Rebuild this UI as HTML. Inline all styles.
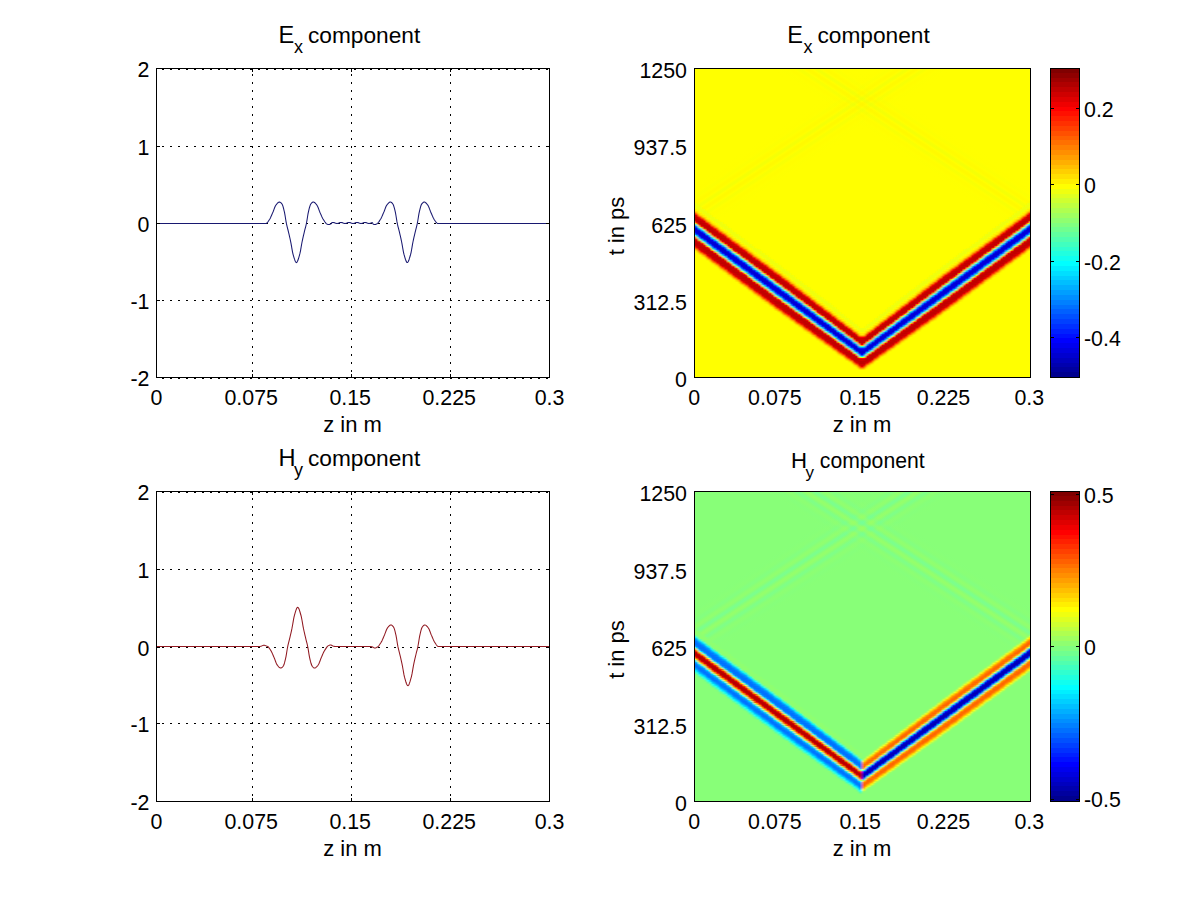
<!DOCTYPE html><html><head><meta charset="utf-8"><style>html,body{margin:0;padding:0;background:#fff;}svg{display:block;} text{font-family:"Liberation Sans",sans-serif;fill:#000;}</style></head><body><svg width="1201" height="900" viewBox="0 0 1201 900" font-family="Liberation Sans, sans-serif" shape-rendering="crispEdges">
<rect x="0" y="0" width="1201" height="900" fill="#fff"/>
<line x1="162" y1="68.5" x2="549" y2="68.5" stroke="#000" stroke-width="1" stroke-dasharray="2 6"/>
<line x1="162" y1="146.5" x2="549" y2="146.5" stroke="#000" stroke-width="1" stroke-dasharray="2 6"/>
<line x1="162" y1="223.5" x2="549" y2="223.5" stroke="#000" stroke-width="1" stroke-dasharray="2 6"/>
<line x1="162" y1="300.5" x2="549" y2="300.5" stroke="#000" stroke-width="1" stroke-dasharray="2 6"/>
<line x1="162" y1="377.5" x2="549" y2="377.5" stroke="#000" stroke-width="1" stroke-dasharray="2 6"/>
<line x1="252.5" y1="74" x2="252.5" y2="377" stroke="#000" stroke-width="1" stroke-dasharray="2 6"/>
<line x1="351.5" y1="74" x2="351.5" y2="377" stroke="#000" stroke-width="1" stroke-dasharray="2 6"/>
<line x1="450.5" y1="74" x2="450.5" y2="377" stroke="#000" stroke-width="1" stroke-dasharray="2 6"/>
<polyline points="157.00,223.50 157.50,223.50 158.00,223.50 158.50,223.50 159.00,223.50 159.50,223.50 160.00,223.50 160.50,223.50 161.00,223.50 161.50,223.50 162.00,223.50 162.50,223.50 163.00,223.50 163.50,223.50 164.00,223.50 164.50,223.50 165.00,223.50 165.50,223.50 166.00,223.50 166.50,223.50 167.00,223.50 167.50,223.50 168.00,223.50 168.50,223.50 169.00,223.50 169.50,223.50 170.00,223.50 170.50,223.50 171.00,223.50 171.50,223.50 172.00,223.50 172.50,223.50 173.00,223.50 173.50,223.50 174.00,223.50 174.50,223.50 175.00,223.50 175.50,223.50 176.00,223.50 176.50,223.50 177.00,223.50 177.50,223.50 178.00,223.50 178.50,223.50 179.00,223.50 179.50,223.50 180.00,223.50 180.50,223.50 181.00,223.50 181.50,223.50 182.00,223.50 182.50,223.50 183.00,223.50 183.50,223.50 184.00,223.50 184.50,223.50 185.00,223.50 185.50,223.50 186.00,223.50 186.50,223.50 187.00,223.50 187.50,223.50 188.00,223.50 188.50,223.50 189.00,223.50 189.50,223.50 190.00,223.50 190.50,223.50 191.00,223.50 191.50,223.50 192.00,223.50 192.50,223.50 193.00,223.50 193.50,223.50 194.00,223.50 194.50,223.50 195.00,223.50 195.50,223.50 196.00,223.50 196.50,223.50 197.00,223.50 197.50,223.50 198.00,223.50 198.50,223.50 199.00,223.50 199.50,223.50 200.00,223.50 200.50,223.50 201.00,223.50 201.50,223.50 202.00,223.50 202.50,223.50 203.00,223.50 203.50,223.50 204.00,223.50 204.50,223.50 205.00,223.50 205.50,223.50 206.00,223.50 206.50,223.50 207.00,223.50 207.50,223.50 208.00,223.50 208.50,223.50 209.00,223.50 209.50,223.50 210.00,223.50 210.50,223.50 211.00,223.50 211.50,223.50 212.00,223.50 212.50,223.50 213.00,223.50 213.50,223.50 214.00,223.50 214.50,223.50 215.00,223.50 215.50,223.50 216.00,223.50 216.50,223.50 217.00,223.50 217.50,223.50 218.00,223.50 218.50,223.50 219.00,223.50 219.50,223.50 220.00,223.50 220.50,223.50 221.00,223.50 221.50,223.50 222.00,223.50 222.50,223.50 223.00,223.50 223.50,223.50 224.00,223.50 224.50,223.50 225.00,223.50 225.50,223.50 226.00,223.50 226.50,223.50 227.00,223.50 227.50,223.50 228.00,223.50 228.50,223.50 229.00,223.50 229.50,223.50 230.00,223.50 230.50,223.50 231.00,223.50 231.50,223.50 232.00,223.50 232.50,223.50 233.00,223.50 233.50,223.50 234.00,223.50 234.50,223.50 235.00,223.50 235.50,223.50 236.00,223.50 236.50,223.50 237.00,223.50 237.50,223.50 238.00,223.50 238.50,223.50 239.00,223.50 239.50,223.50 240.00,223.50 240.50,223.50 241.00,223.50 241.50,223.50 242.00,223.50 242.50,223.50 243.00,223.50 243.50,223.50 244.00,223.50 244.50,223.50 245.00,223.50 245.50,223.50 246.00,223.50 246.50,223.50 247.00,223.50 247.50,223.50 248.00,223.50 248.50,223.50 249.00,223.50 249.50,223.50 250.00,223.50 250.50,223.50 251.00,223.50 251.50,223.50 252.00,223.50 252.50,223.50 253.00,223.50 253.50,223.50 254.00,223.50 254.50,223.50 255.00,223.50 255.50,223.50 256.00,223.50 256.50,223.50 257.00,223.50 257.50,223.50 258.00,223.50 258.50,223.50 259.00,223.50 259.50,223.50 260.00,223.50 260.50,223.50 261.00,223.50 261.50,223.50 262.00,223.50 262.50,223.50 263.00,223.50 263.50,223.50 264.00,223.50 264.50,223.50 265.00,223.50 265.50,223.50 266.00,223.49 266.50,223.32 267.00,222.94 267.50,222.39 268.00,221.73 268.50,220.99 269.00,220.23 269.50,219.49 270.00,218.65 270.50,217.67 271.00,216.59 271.50,215.45 272.00,214.28 272.50,213.13 273.00,211.99 273.50,210.71 274.00,209.36 274.50,208.03 275.00,206.79 275.50,205.74 276.00,204.96 276.50,204.34 277.00,203.75 277.50,203.20 278.00,202.72 278.50,202.35 279.00,202.11 279.50,202.02 280.00,202.13 280.50,202.42 281.00,202.86 281.50,203.41 282.00,204.03 282.50,204.98 283.00,206.44 283.50,208.25 284.00,210.29 284.50,212.43 285.00,215.12 285.50,218.25 286.00,221.36 286.50,223.97 287.00,226.12 287.50,228.07 288.00,230.00 288.50,232.07 289.00,234.17 289.50,236.30 290.00,238.50 290.50,240.79 291.00,243.33 291.50,246.19 292.00,249.12 292.50,251.83 293.00,254.04 293.50,255.79 294.00,257.53 294.50,259.16 295.00,260.59 295.50,261.71 296.00,262.40 296.50,262.58 297.00,262.18 297.50,261.30 298.00,260.05 298.50,258.53 299.00,256.84 299.50,255.09 300.00,253.23 300.50,250.79 301.00,247.96 301.50,245.02 302.00,242.26 302.50,239.86 303.00,237.61 303.50,235.44 304.00,233.33 304.50,231.22 305.00,229.22 305.50,227.30 306.00,225.29 306.50,223.01 307.00,220.15 307.50,216.98 308.00,213.97 308.50,211.57 309.00,209.46 309.50,207.49 310.00,205.80 310.50,204.53 311.00,203.78 311.50,203.18 312.00,202.67 312.50,202.28 313.00,202.06 313.50,202.04 314.00,202.19 314.50,202.49 315.00,202.90 315.50,203.41 316.00,203.98 316.50,204.59 317.00,205.24 317.50,206.13 318.00,207.27 318.50,208.55 319.00,209.90 319.50,211.23 320.00,212.46 320.50,213.59 321.00,214.75 321.50,215.91 322.00,217.03 322.50,218.07 323.00,219.00 323.50,219.78 324.00,220.54 324.50,221.30 325.00,222.04 325.50,222.70 326.00,223.27 326.50,223.71 327.00,223.98 327.50,224.21 328.00,224.42 328.50,224.56 329.00,224.57 329.50,224.46 330.00,224.25 330.50,224.03 331.00,223.82 331.50,222.96 332.00,222.72 332.50,222.57 333.00,222.51 333.50,222.54 334.00,222.63 334.50,222.78 335.00,222.96 335.50,223.14 336.00,223.29 336.50,223.39 337.00,223.42 337.50,223.39 338.00,223.29 338.50,223.14 339.00,222.96 339.50,222.78 340.00,222.63 340.50,222.53 341.00,222.50 341.50,222.53 342.00,222.63 342.50,222.78 343.00,222.96 343.50,223.14 344.00,223.29 344.50,223.39 345.00,223.42 345.50,223.39 346.00,223.29 346.50,223.14 347.00,222.96 347.50,222.78 348.00,222.63 348.50,222.53 349.00,222.50 349.50,222.53 350.00,222.63 350.50,222.78 351.00,222.96 351.50,223.14 352.00,223.29 352.50,223.39 353.00,223.42 353.50,223.39 354.00,223.29 354.50,223.14 355.00,222.96 355.50,222.78 356.00,222.63 356.50,222.53 357.00,222.50 357.50,222.53 358.00,222.63 358.50,222.78 359.00,222.96 359.50,223.14 360.00,223.29 360.50,223.39 361.00,223.42 361.50,223.39 362.00,223.29 362.50,223.14 363.00,222.96 363.50,222.78 364.00,222.63 364.50,222.53 365.00,222.50 365.50,222.53 366.00,222.63 366.50,222.78 367.00,222.96 367.50,223.14 368.00,223.29 368.50,223.39 369.00,223.42 369.50,223.39 370.00,223.29 370.50,223.15 371.00,222.99 371.50,222.85 372.00,222.78 372.50,222.82 373.00,223.98 373.50,224.21 374.00,224.42 374.50,224.56 375.00,224.57 375.50,224.46 376.00,224.25 376.50,224.03 377.00,223.80 377.50,223.44 378.00,222.93 378.50,222.30 379.00,221.60 379.50,220.85 380.00,220.08 380.50,219.33 381.00,218.46 381.50,217.46 382.00,216.36 382.50,215.22 383.00,214.05 383.50,212.91 384.00,211.74 384.50,210.44 385.00,209.09 385.50,207.77 386.00,206.57 386.50,205.56 387.00,204.84 387.50,204.22 388.00,203.63 388.50,203.10 389.00,202.64 389.50,202.29 390.00,202.08 390.50,202.03 391.00,202.17 391.50,202.50 392.00,202.96 392.50,203.53 393.00,204.18 393.50,205.24 394.00,206.78 394.50,208.65 395.00,210.72 395.50,212.91 396.00,215.73 396.50,218.89 397.00,221.93 397.50,224.42 398.00,226.52 398.50,228.45 399.00,230.40 399.50,232.49 400.00,234.59 400.50,236.74 401.00,238.95 401.50,241.27 402.00,243.88 402.50,246.78 403.00,249.69 403.50,252.32 404.00,254.40 404.50,256.14 405.00,257.86 405.50,259.47 406.00,260.84 406.50,261.88 407.00,262.48 407.50,262.54 408.00,262.04 408.50,261.08 409.00,259.76 409.50,258.20 410.00,256.49 410.50,254.74 411.00,252.79 411.50,250.24 412.00,247.37 412.50,244.45 413.00,241.75 413.50,239.40 414.00,237.17 414.50,235.02 415.00,232.90 415.50,230.81 416.00,228.84 416.50,226.91 417.00,224.86 417.50,222.48 418.00,219.53 418.50,216.35 419.00,213.43 419.50,211.14 420.00,209.05 420.50,207.13 421.00,205.51 421.50,204.34 422.00,203.65 422.50,203.07 423.00,202.58 423.50,202.23 424.00,202.04 424.50,202.06 425.00,202.24 425.50,202.56 426.00,203.00 426.50,203.52 427.00,204.10 427.50,204.71 428.00,205.39 428.50,206.35 429.00,207.52 429.50,208.82 430.00,210.17 430.50,211.49 431.00,212.68 431.50,213.82 432.00,214.98 432.50,216.14 433.00,217.25 433.50,218.27 434.00,219.17 434.50,219.93 435.00,220.69 435.50,221.44 436.00,222.14 436.50,222.74 437.00,223.19 437.50,223.45 438.00,223.50 438.50,223.50 439.00,223.50 439.50,223.50 440.00,223.50 440.50,223.50 441.00,223.50 441.50,223.50 442.00,223.50 442.50,223.50 443.00,223.50 443.50,223.50 444.00,223.50 444.50,223.50 445.00,223.50 445.50,223.50 446.00,223.50 446.50,223.50 447.00,223.50 447.50,223.50 448.00,223.50 448.50,223.50 449.00,223.50 449.50,223.50 450.00,223.50 450.50,223.50 451.00,223.50 451.50,223.50 452.00,223.50 452.50,223.50 453.00,223.50 453.50,223.50 454.00,223.50 454.50,223.50 455.00,223.50 455.50,223.50 456.00,223.50 456.50,223.50 457.00,223.50 457.50,223.50 458.00,223.50 458.50,223.50 459.00,223.50 459.50,223.50 460.00,223.50 460.50,223.50 461.00,223.50 461.50,223.50 462.00,223.50 462.50,223.50 463.00,223.50 463.50,223.50 464.00,223.50 464.50,223.50 465.00,223.50 465.50,223.50 466.00,223.50 466.50,223.50 467.00,223.50 467.50,223.50 468.00,223.50 468.50,223.50 469.00,223.50 469.50,223.50 470.00,223.50 470.50,223.50 471.00,223.50 471.50,223.50 472.00,223.50 472.50,223.50 473.00,223.50 473.50,223.50 474.00,223.50 474.50,223.50 475.00,223.50 475.50,223.50 476.00,223.50 476.50,223.50 477.00,223.50 477.50,223.50 478.00,223.50 478.50,223.50 479.00,223.50 479.50,223.50 480.00,223.50 480.50,223.50 481.00,223.50 481.50,223.50 482.00,223.50 482.50,223.50 483.00,223.50 483.50,223.50 484.00,223.50 484.50,223.50 485.00,223.50 485.50,223.50 486.00,223.50 486.50,223.50 487.00,223.50 487.50,223.50 488.00,223.50 488.50,223.50 489.00,223.50 489.50,223.50 490.00,223.50 490.50,223.50 491.00,223.50 491.50,223.50 492.00,223.50 492.50,223.50 493.00,223.50 493.50,223.50 494.00,223.50 494.50,223.50 495.00,223.50 495.50,223.50 496.00,223.50 496.50,223.50 497.00,223.50 497.50,223.50 498.00,223.50 498.50,223.50 499.00,223.50 499.50,223.50 500.00,223.50 500.50,223.50 501.00,223.50 501.50,223.50 502.00,223.50 502.50,223.50 503.00,223.50 503.50,223.50 504.00,223.50 504.50,223.50 505.00,223.50 505.50,223.50 506.00,223.50 506.50,223.50 507.00,223.50 507.50,223.50 508.00,223.50 508.50,223.50 509.00,223.50 509.50,223.50 510.00,223.50 510.50,223.50 511.00,223.50 511.50,223.50 512.00,223.50 512.50,223.50 513.00,223.50 513.50,223.50 514.00,223.50 514.50,223.50 515.00,223.50 515.50,223.50 516.00,223.50 516.50,223.50 517.00,223.50 517.50,223.50 518.00,223.50 518.50,223.50 519.00,223.50 519.50,223.50 520.00,223.50 520.50,223.50 521.00,223.50 521.50,223.50 522.00,223.50 522.50,223.50 523.00,223.50 523.50,223.50 524.00,223.50 524.50,223.50 525.00,223.50 525.50,223.50 526.00,223.50 526.50,223.50 527.00,223.50 527.50,223.50 528.00,223.50 528.50,223.50 529.00,223.50 529.50,223.50 530.00,223.50 530.50,223.50 531.00,223.50 531.50,223.50 532.00,223.50 532.50,223.50 533.00,223.50 533.50,223.50 534.00,223.50 534.50,223.50 535.00,223.50 535.50,223.50 536.00,223.50 536.50,223.50 537.00,223.50 537.50,223.50 538.00,223.50 538.50,223.50 539.00,223.50 539.50,223.50 540.00,223.50 540.50,223.50 541.00,223.50 541.50,223.50 542.00,223.50 542.50,223.50 543.00,223.50 543.50,223.50 544.00,223.50 544.50,223.50 545.00,223.50 545.50,223.50 546.00,223.50 546.50,223.50 547.00,223.50 547.50,223.50 548.00,223.50 548.50,223.50 549.00,223.50" fill="none" stroke="#181870" stroke-width="1.05" shape-rendering="auto"/>
<rect x="156" y="68" width="394" height="1" fill="#000"/>
<rect x="156" y="377" width="394" height="1" fill="#000"/>
<rect x="156" y="68" width="1" height="310" fill="#000"/>
<rect x="549" y="68" width="1" height="310" fill="#000"/>
<rect x="157" y="68" width="3" height="1" fill="#000"/>
<rect x="546" y="68" width="3" height="1" fill="#000"/>
<rect x="157" y="146" width="3" height="1" fill="#000"/>
<rect x="546" y="146" width="3" height="1" fill="#000"/>
<rect x="157" y="223" width="3" height="1" fill="#000"/>
<rect x="546" y="223" width="3" height="1" fill="#000"/>
<rect x="157" y="300" width="3" height="1" fill="#000"/>
<rect x="546" y="300" width="3" height="1" fill="#000"/>
<rect x="157" y="377" width="3" height="1" fill="#000"/>
<rect x="546" y="377" width="3" height="1" fill="#000"/>
<rect x="156" y="69" width="1" height="3" fill="#000"/>
<rect x="156" y="374" width="1" height="3" fill="#000"/>
<rect x="252" y="69" width="1" height="3" fill="#000"/>
<rect x="252" y="374" width="1" height="3" fill="#000"/>
<rect x="351" y="69" width="1" height="3" fill="#000"/>
<rect x="351" y="374" width="1" height="3" fill="#000"/>
<rect x="450" y="69" width="1" height="3" fill="#000"/>
<rect x="450" y="374" width="1" height="3" fill="#000"/>
<rect x="549" y="69" width="1" height="3" fill="#000"/>
<rect x="549" y="374" width="1" height="3" fill="#000"/>
<text transform="translate(149.5 76.5) scale(0.93 1)" font-size="23" text-anchor="end">2</text>
<text transform="translate(149.5 154.5) scale(0.93 1)" font-size="23" text-anchor="end">1</text>
<text transform="translate(149.5 231.5) scale(0.93 1)" font-size="23" text-anchor="end">0</text>
<text transform="translate(149.5 308.5) scale(0.93 1)" font-size="23" text-anchor="end">-1</text>
<text transform="translate(149.5 385.5) scale(0.93 1)" font-size="23" text-anchor="end">-2</text>
<text transform="translate(156.5 404.5) scale(0.93 1)" font-size="23" text-anchor="middle">0</text>
<text transform="translate(251.2 404.5) scale(0.93 1)" font-size="23" text-anchor="middle">0.075</text>
<text transform="translate(350.2 404.5) scale(0.93 1)" font-size="23" text-anchor="middle">0.15</text>
<text transform="translate(449.2 404.5) scale(0.93 1)" font-size="23" text-anchor="middle">0.225</text>
<text transform="translate(549.5 404.5) scale(0.93 1)" font-size="23" text-anchor="middle">0.3</text>
<text x="352.5" y="432" font-size="22" text-anchor="middle" >z in m</text>
<line x1="162" y1="69.5" x2="549" y2="69.5" stroke="#000" stroke-width="1" stroke-dasharray="2 6"/>
<line x1="162" y1="378.5" x2="549" y2="378.5" stroke="#000" stroke-width="1" stroke-dasharray="2 6"/>
<line x1="162" y1="491.5" x2="549" y2="491.5" stroke="#000" stroke-width="1" stroke-dasharray="2 6"/>
<line x1="162" y1="569.5" x2="549" y2="569.5" stroke="#000" stroke-width="1" stroke-dasharray="2 6"/>
<line x1="162" y1="647.5" x2="549" y2="647.5" stroke="#000" stroke-width="1" stroke-dasharray="2 6"/>
<line x1="162" y1="723.5" x2="549" y2="723.5" stroke="#000" stroke-width="1" stroke-dasharray="2 6"/>
<line x1="162" y1="801.5" x2="549" y2="801.5" stroke="#000" stroke-width="1" stroke-dasharray="2 6"/>
<line x1="252.5" y1="498" x2="252.5" y2="801" stroke="#000" stroke-width="1" stroke-dasharray="2 6"/>
<line x1="351.5" y1="498" x2="351.5" y2="801" stroke="#000" stroke-width="1" stroke-dasharray="2 6"/>
<line x1="450.5" y1="498" x2="450.5" y2="801" stroke="#000" stroke-width="1" stroke-dasharray="2 6"/>
<polyline points="157.00,646.50 157.50,646.50 158.00,646.50 158.50,646.50 159.00,646.50 159.50,646.50 160.00,646.50 160.50,646.50 161.00,646.50 161.50,646.50 162.00,646.50 162.50,646.50 163.00,646.50 163.50,646.50 164.00,646.50 164.50,646.50 165.00,646.50 165.50,646.50 166.00,646.50 166.50,646.50 167.00,646.50 167.50,646.50 168.00,646.50 168.50,646.50 169.00,646.50 169.50,646.50 170.00,646.50 170.50,646.50 171.00,646.50 171.50,646.50 172.00,646.50 172.50,646.50 173.00,646.50 173.50,646.50 174.00,646.50 174.50,646.50 175.00,646.50 175.50,646.50 176.00,646.50 176.50,646.50 177.00,646.50 177.50,646.50 178.00,646.50 178.50,646.50 179.00,646.50 179.50,646.50 180.00,646.50 180.50,646.50 181.00,646.50 181.50,646.50 182.00,646.50 182.50,646.50 183.00,646.50 183.50,646.50 184.00,646.50 184.50,646.50 185.00,646.50 185.50,646.50 186.00,646.50 186.50,646.50 187.00,646.50 187.50,646.50 188.00,646.50 188.50,646.50 189.00,646.50 189.50,646.50 190.00,646.50 190.50,646.50 191.00,646.50 191.50,646.50 192.00,646.50 192.50,646.50 193.00,646.50 193.50,646.50 194.00,646.50 194.50,646.50 195.00,646.50 195.50,646.50 196.00,646.50 196.50,646.50 197.00,646.50 197.50,646.50 198.00,646.50 198.50,646.50 199.00,646.50 199.50,646.50 200.00,646.50 200.50,646.50 201.00,646.50 201.50,646.50 202.00,646.50 202.50,646.50 203.00,646.50 203.50,646.50 204.00,646.50 204.50,646.50 205.00,646.50 205.50,646.50 206.00,646.50 206.50,646.50 207.00,646.50 207.50,646.50 208.00,646.50 208.50,646.50 209.00,646.50 209.50,646.50 210.00,646.50 210.50,646.50 211.00,646.50 211.50,646.50 212.00,646.50 212.50,646.50 213.00,646.50 213.50,646.50 214.00,646.50 214.50,646.50 215.00,646.50 215.50,646.50 216.00,646.50 216.50,646.50 217.00,646.50 217.50,646.50 218.00,646.50 218.50,646.50 219.00,646.50 219.50,646.50 220.00,646.50 220.50,646.50 221.00,646.50 221.50,646.50 222.00,646.50 222.50,646.50 223.00,646.50 223.50,646.50 224.00,646.50 224.50,646.50 225.00,646.50 225.50,646.50 226.00,646.50 226.50,646.50 227.00,646.50 227.50,646.50 228.00,646.50 228.50,646.50 229.00,646.50 229.50,646.50 230.00,646.50 230.50,646.50 231.00,646.50 231.50,646.50 232.00,646.50 232.50,646.50 233.00,646.50 233.50,646.50 234.00,646.50 234.50,646.50 235.00,646.50 235.50,646.50 236.00,646.50 236.50,646.50 237.00,646.50 237.50,646.50 238.00,646.50 238.50,646.50 239.00,646.50 239.50,646.50 240.00,646.50 240.50,646.50 241.00,646.50 241.50,646.50 242.00,646.50 242.50,646.50 243.00,646.50 243.50,646.50 244.00,646.50 244.50,646.50 245.00,646.50 245.50,646.50 246.00,646.50 246.50,646.50 247.00,646.50 247.50,646.50 248.00,646.50 248.50,646.50 249.00,646.50 249.50,646.50 250.00,646.50 250.50,646.50 251.00,646.50 251.50,646.50 252.00,646.50 252.50,646.50 253.00,646.50 253.50,646.50 254.00,646.50 254.50,646.50 255.00,646.50 255.50,646.50 256.00,646.50 256.50,646.50 257.00,646.50 257.50,646.50 258.00,646.50 258.50,646.49 259.00,646.48 259.50,646.45 260.00,646.40 260.50,646.33 261.00,646.21 261.50,646.04 262.00,645.85 262.50,645.63 263.00,645.44 263.50,645.31 264.00,645.26 264.50,645.31 265.00,645.44 265.50,645.63 266.00,645.85 266.50,646.04 267.00,646.21 267.50,646.37 268.00,646.71 268.50,647.22 269.00,647.84 269.50,648.56 270.00,649.32 270.50,650.08 271.00,650.84 271.50,651.75 272.00,652.77 272.50,653.89 273.00,655.04 273.50,656.21 274.00,657.35 274.50,658.55 275.00,659.87 275.50,661.23 276.00,662.54 276.50,663.71 277.00,664.67 277.50,665.35 278.00,665.96 278.50,666.55 279.00,667.07 279.50,667.51 280.00,667.83 280.50,668.01 281.00,668.03 281.50,667.84 282.00,667.49 282.50,667.00 283.00,666.41 283.50,665.72 284.00,664.55 284.50,662.92 285.00,660.99 285.50,658.90 286.00,656.61 286.50,653.67 287.00,650.49 287.50,647.52 288.00,645.13 288.50,643.08 289.00,641.15 289.50,639.17 290.00,637.06 290.50,634.95 291.00,632.78 291.50,630.54 292.00,628.19 292.50,625.48 293.00,622.55 293.50,619.67 294.00,617.12 294.50,615.15 295.00,613.40 295.50,611.69 296.00,610.12 296.50,608.80 297.00,607.83 297.50,607.33 298.00,607.39 298.50,607.99 299.00,609.04 299.50,610.42 300.00,612.02 300.50,613.75 301.00,615.50 301.50,617.59 302.00,620.23 302.50,623.14 303.00,626.05 303.50,628.68 304.00,631.00 304.50,633.22 305.00,635.37 305.50,637.49 306.00,639.58 306.50,641.53 307.00,643.47 307.50,645.58 308.00,648.07 308.50,651.12 309.00,654.30 309.50,657.12 310.00,659.33 310.50,661.40 311.00,663.28 311.50,664.82 312.00,665.89 312.50,666.54 313.00,667.11 313.50,667.57 314.00,667.90 314.50,668.04 315.00,667.99 315.50,667.77 316.00,667.43 316.50,666.97 317.00,666.43 317.50,665.84 318.00,665.22 318.50,664.50 319.00,663.49 319.50,662.28 320.00,660.96 320.50,659.60 321.00,658.30 321.50,657.13 322.00,655.98 322.50,654.81 323.00,653.66 323.50,652.56 324.00,651.55 324.50,650.67 325.00,649.91 325.50,649.13 326.00,648.35 326.50,647.60 327.00,646.92 327.50,646.34 328.00,645.90 328.50,645.63 329.00,645.37 329.50,645.14 330.00,644.99 330.50,644.95 331.00,645.04 331.50,645.22 332.00,645.47 332.50,645.73 333.00,645.97 333.50,646.17 334.00,646.31 334.50,646.39 335.00,646.45 335.50,646.48 336.00,646.49 336.50,646.50 337.00,646.50 337.50,646.50 338.00,646.50 338.50,646.50 339.00,646.50 339.50,646.50 340.00,646.50 340.50,646.50 341.00,646.50 341.50,646.50 342.00,646.50 342.50,646.50 343.00,646.50 343.50,646.50 344.00,646.50 344.50,646.50 345.00,646.50 345.50,646.50 346.00,646.50 346.50,646.50 347.00,646.50 347.50,646.50 348.00,646.50 348.50,646.50 349.00,646.50 349.50,646.50 350.00,646.50 350.50,646.50 351.00,646.50 351.50,646.50 352.00,646.50 352.50,646.50 353.00,646.50 353.50,646.50 354.00,646.50 354.50,646.50 355.00,646.50 355.50,646.50 356.00,646.50 356.50,646.50 357.00,646.50 357.50,646.50 358.00,646.50 358.50,646.50 359.00,646.50 359.50,646.50 360.00,646.50 360.50,646.50 361.00,646.50 361.50,646.50 362.00,646.50 362.50,646.50 363.00,646.50 363.50,646.50 364.00,646.50 364.50,646.50 365.00,646.50 365.50,646.50 366.00,646.50 366.50,646.50 367.00,646.50 367.50,646.50 368.00,646.50 368.50,646.50 369.00,646.50 369.50,646.51 370.00,646.53 370.50,646.56 371.00,646.62 371.50,646.72 372.00,646.87 372.50,647.07 373.00,647.32 373.50,647.58 374.00,647.82 374.50,647.99 375.00,648.05 375.50,647.99 376.00,647.82 376.50,647.58 377.00,647.32 377.50,647.06 378.00,646.69 378.50,646.16 379.00,645.51 379.50,644.78 380.00,644.01 380.50,643.23 381.00,642.48 381.50,641.63 382.00,640.65 382.50,639.57 383.00,638.42 383.50,637.25 384.00,636.10 384.50,634.95 385.00,633.67 385.50,632.31 386.00,630.98 386.50,629.74 387.00,628.68 387.50,627.90 388.00,627.28 388.50,626.68 389.00,626.13 389.50,625.66 390.00,625.28 390.50,625.04 391.00,624.96 391.50,625.06 392.00,625.35 392.50,625.79 393.00,626.34 393.50,626.97 394.00,627.92 394.50,629.38 395.00,631.21 395.50,633.25 396.00,635.40 396.50,638.10 397.00,641.24 397.50,644.35 398.00,646.97 398.50,649.12 399.00,651.08 399.50,653.02 400.00,655.09 400.50,657.20 401.00,659.34 401.50,661.55 402.00,663.85 402.50,666.39 403.00,669.27 403.50,672.20 404.00,674.92 404.50,677.14 405.00,678.89 405.50,680.64 406.00,682.28 406.50,683.71 407.00,684.83 407.50,685.53 408.00,685.70 408.50,685.31 409.00,684.43 409.50,683.17 410.00,681.64 410.50,679.95 411.00,678.19 411.50,676.33 412.00,673.88 412.50,671.04 413.00,668.09 413.50,665.32 414.00,662.92 414.50,660.66 415.00,658.48 415.50,656.36 416.00,654.25 416.50,652.24 417.00,650.31 417.50,648.30 418.00,646.01 418.50,643.14 419.00,639.96 419.50,636.94 420.00,634.53 420.50,632.42 421.00,630.44 421.50,628.75 422.00,627.47 422.50,626.71 423.00,626.11 423.50,625.60 424.00,625.22 424.50,624.99 425.00,624.97 425.50,625.12 426.00,625.42 426.50,625.84 427.00,626.34 427.50,626.92 428.00,627.53 428.50,628.18 429.00,629.08 429.50,630.22 430.00,631.50 430.50,632.86 431.00,634.19 431.50,635.42 432.00,636.56 432.50,637.72 433.00,638.89 433.50,640.01 434.00,641.05 434.50,641.99 435.00,642.77 435.50,643.53 436.00,644.29 436.50,645.00 437.00,645.63 437.50,646.11 438.00,646.42 438.50,646.50 439.00,646.50 439.50,646.50 440.00,646.50 440.50,646.50 441.00,646.50 441.50,646.50 442.00,646.50 442.50,646.50 443.00,646.50 443.50,646.50 444.00,646.50 444.50,646.50 445.00,646.50 445.50,646.50 446.00,646.50 446.50,646.50 447.00,646.50 447.50,646.50 448.00,646.50 448.50,646.50 449.00,646.50 449.50,646.50 450.00,646.50 450.50,646.50 451.00,646.50 451.50,646.50 452.00,646.50 452.50,646.50 453.00,646.50 453.50,646.50 454.00,646.50 454.50,646.50 455.00,646.50 455.50,646.50 456.00,646.50 456.50,646.50 457.00,646.50 457.50,646.50 458.00,646.50 458.50,646.50 459.00,646.50 459.50,646.50 460.00,646.50 460.50,646.50 461.00,646.50 461.50,646.50 462.00,646.50 462.50,646.50 463.00,646.50 463.50,646.50 464.00,646.50 464.50,646.50 465.00,646.50 465.50,646.50 466.00,646.50 466.50,646.50 467.00,646.50 467.50,646.50 468.00,646.50 468.50,646.50 469.00,646.50 469.50,646.50 470.00,646.50 470.50,646.50 471.00,646.50 471.50,646.50 472.00,646.50 472.50,646.50 473.00,646.50 473.50,646.50 474.00,646.50 474.50,646.50 475.00,646.50 475.50,646.50 476.00,646.50 476.50,646.50 477.00,646.50 477.50,646.50 478.00,646.50 478.50,646.50 479.00,646.50 479.50,646.50 480.00,646.50 480.50,646.50 481.00,646.50 481.50,646.50 482.00,646.50 482.50,646.50 483.00,646.50 483.50,646.50 484.00,646.50 484.50,646.50 485.00,646.50 485.50,646.50 486.00,646.50 486.50,646.50 487.00,646.50 487.50,646.50 488.00,646.50 488.50,646.50 489.00,646.50 489.50,646.50 490.00,646.50 490.50,646.50 491.00,646.50 491.50,646.50 492.00,646.50 492.50,646.50 493.00,646.50 493.50,646.50 494.00,646.50 494.50,646.50 495.00,646.50 495.50,646.50 496.00,646.50 496.50,646.50 497.00,646.50 497.50,646.50 498.00,646.50 498.50,646.50 499.00,646.50 499.50,646.50 500.00,646.50 500.50,646.50 501.00,646.50 501.50,646.50 502.00,646.50 502.50,646.50 503.00,646.50 503.50,646.50 504.00,646.50 504.50,646.50 505.00,646.50 505.50,646.50 506.00,646.50 506.50,646.50 507.00,646.50 507.50,646.50 508.00,646.50 508.50,646.50 509.00,646.50 509.50,646.50 510.00,646.50 510.50,646.50 511.00,646.50 511.50,646.50 512.00,646.50 512.50,646.50 513.00,646.50 513.50,646.50 514.00,646.50 514.50,646.50 515.00,646.50 515.50,646.50 516.00,646.50 516.50,646.50 517.00,646.50 517.50,646.50 518.00,646.50 518.50,646.50 519.00,646.50 519.50,646.50 520.00,646.50 520.50,646.50 521.00,646.50 521.50,646.50 522.00,646.50 522.50,646.50 523.00,646.50 523.50,646.50 524.00,646.50 524.50,646.50 525.00,646.50 525.50,646.50 526.00,646.50 526.50,646.50 527.00,646.50 527.50,646.50 528.00,646.50 528.50,646.50 529.00,646.50 529.50,646.50 530.00,646.50 530.50,646.50 531.00,646.50 531.50,646.50 532.00,646.50 532.50,646.50 533.00,646.50 533.50,646.50 534.00,646.50 534.50,646.50 535.00,646.50 535.50,646.50 536.00,646.50 536.50,646.50 537.00,646.50 537.50,646.50 538.00,646.50 538.50,646.50 539.00,646.50 539.50,646.50 540.00,646.50 540.50,646.50 541.00,646.50 541.50,646.50 542.00,646.50 542.50,646.50 543.00,646.50 543.50,646.50 544.00,646.50 544.50,646.50 545.00,646.50 545.50,646.50 546.00,646.50 546.50,646.50 547.00,646.50 547.50,646.50 548.00,646.50 548.50,646.50 549.00,646.50" fill="none" stroke="#901820" stroke-width="1.05" shape-rendering="auto"/>
<rect x="156" y="491" width="394" height="1" fill="#000"/>
<rect x="156" y="801" width="394" height="1" fill="#000"/>
<rect x="156" y="491" width="1" height="311" fill="#000"/>
<rect x="549" y="491" width="1" height="311" fill="#000"/>
<rect x="157" y="491" width="3" height="1" fill="#000"/>
<rect x="546" y="491" width="3" height="1" fill="#000"/>
<rect x="157" y="569" width="3" height="1" fill="#000"/>
<rect x="546" y="569" width="3" height="1" fill="#000"/>
<rect x="157" y="647" width="3" height="1" fill="#000"/>
<rect x="546" y="647" width="3" height="1" fill="#000"/>
<rect x="157" y="723" width="3" height="1" fill="#000"/>
<rect x="546" y="723" width="3" height="1" fill="#000"/>
<rect x="157" y="801" width="3" height="1" fill="#000"/>
<rect x="546" y="801" width="3" height="1" fill="#000"/>
<rect x="156" y="492" width="1" height="3" fill="#000"/>
<rect x="156" y="798" width="1" height="3" fill="#000"/>
<rect x="252" y="492" width="1" height="3" fill="#000"/>
<rect x="252" y="798" width="1" height="3" fill="#000"/>
<rect x="351" y="492" width="1" height="3" fill="#000"/>
<rect x="351" y="798" width="1" height="3" fill="#000"/>
<rect x="450" y="492" width="1" height="3" fill="#000"/>
<rect x="450" y="798" width="1" height="3" fill="#000"/>
<rect x="549" y="492" width="1" height="3" fill="#000"/>
<rect x="549" y="798" width="1" height="3" fill="#000"/>
<text transform="translate(149.5 499.5) scale(0.93 1)" font-size="23" text-anchor="end">2</text>
<text transform="translate(149.5 577.5) scale(0.93 1)" font-size="23" text-anchor="end">1</text>
<text transform="translate(149.5 655.5) scale(0.93 1)" font-size="23" text-anchor="end">0</text>
<text transform="translate(149.5 731.5) scale(0.93 1)" font-size="23" text-anchor="end">-1</text>
<text transform="translate(149.5 809.5) scale(0.93 1)" font-size="23" text-anchor="end">-2</text>
<text transform="translate(156.5 828.5) scale(0.93 1)" font-size="23" text-anchor="middle">0</text>
<text transform="translate(251.2 828.5) scale(0.93 1)" font-size="23" text-anchor="middle">0.075</text>
<text transform="translate(350.2 828.5) scale(0.93 1)" font-size="23" text-anchor="middle">0.15</text>
<text transform="translate(449.2 828.5) scale(0.93 1)" font-size="23" text-anchor="middle">0.225</text>
<text transform="translate(549.5 828.5) scale(0.93 1)" font-size="23" text-anchor="middle">0.3</text>
<text x="352.5" y="856" font-size="22" text-anchor="middle" >z in m</text>
<line x1="162" y1="492.5" x2="549" y2="492.5" stroke="#000" stroke-width="1" stroke-dasharray="2 6"/>
<defs>
<linearGradient id="geL" gradientUnits="userSpaceOnUse" x1="0" y1="-30" x2="0" y2="30"><stop offset="0.0000" stop-color="#ffff00" stop-opacity="0"/><stop offset="0.0500" stop-color="#ffff00" stop-opacity="0"/><stop offset="0.0500" stop-color="#efff10"/><stop offset="0.1300" stop-color="#efff10"/><stop offset="0.1300" stop-color="#ffff00" stop-opacity="0"/><stop offset="0.1533" stop-color="#ffff00" stop-opacity="0"/><stop offset="0.1533" stop-color="#ffef00"/><stop offset="0.1783" stop-color="#ffef00"/><stop offset="0.1783" stop-color="#ffdf00"/><stop offset="0.1883" stop-color="#ffdf00"/><stop offset="0.1883" stop-color="#ffcf00"/><stop offset="0.1917" stop-color="#ffcf00"/><stop offset="0.1917" stop-color="#ffbf00"/><stop offset="0.1967" stop-color="#ffbf00"/><stop offset="0.1967" stop-color="#ffaf00"/><stop offset="0.2000" stop-color="#ffaf00"/><stop offset="0.2000" stop-color="#ff9f00"/><stop offset="0.2033" stop-color="#ff9f00"/><stop offset="0.2033" stop-color="#ff8f00"/><stop offset="0.2067" stop-color="#ff8f00"/><stop offset="0.2067" stop-color="#ff8000"/><stop offset="0.2083" stop-color="#ff8000"/><stop offset="0.2083" stop-color="#ff7000"/><stop offset="0.2117" stop-color="#ff7000"/><stop offset="0.2117" stop-color="#ff6000"/><stop offset="0.2150" stop-color="#ff6000"/><stop offset="0.2150" stop-color="#ff5000"/><stop offset="0.2183" stop-color="#ff5000"/><stop offset="0.2183" stop-color="#ff4000"/><stop offset="0.2200" stop-color="#ff4000"/><stop offset="0.2200" stop-color="#ff3000"/><stop offset="0.2233" stop-color="#ff3000"/><stop offset="0.2233" stop-color="#ff2000"/><stop offset="0.2267" stop-color="#ff2000"/><stop offset="0.2267" stop-color="#ff1000"/><stop offset="0.2317" stop-color="#ff1000"/><stop offset="0.2317" stop-color="#ff0000"/><stop offset="0.2350" stop-color="#ff0000"/><stop offset="0.2350" stop-color="#ef0000"/><stop offset="0.2417" stop-color="#ef0000"/><stop offset="0.2417" stop-color="#df0000"/><stop offset="0.2500" stop-color="#df0000"/><stop offset="0.2500" stop-color="#cf0000"/><stop offset="0.2783" stop-color="#cf0000"/><stop offset="0.2783" stop-color="#bf0000"/><stop offset="0.3300" stop-color="#bf0000"/><stop offset="0.3300" stop-color="#cf0000"/><stop offset="0.3567" stop-color="#cf0000"/><stop offset="0.3567" stop-color="#df0000"/><stop offset="0.3617" stop-color="#df0000"/><stop offset="0.3617" stop-color="#ef0000"/><stop offset="0.3667" stop-color="#ef0000"/><stop offset="0.3667" stop-color="#ff0000"/><stop offset="0.3700" stop-color="#ff0000"/><stop offset="0.3700" stop-color="#ff1000"/><stop offset="0.3717" stop-color="#ff1000"/><stop offset="0.3717" stop-color="#ff2000"/><stop offset="0.3733" stop-color="#ff2000"/><stop offset="0.3733" stop-color="#ff3000"/><stop offset="0.3750" stop-color="#ff3000"/><stop offset="0.3750" stop-color="#ff4000"/><stop offset="0.3767" stop-color="#ff4000"/><stop offset="0.3767" stop-color="#ff5000"/><stop offset="0.3783" stop-color="#ff5000"/><stop offset="0.3783" stop-color="#ff6000"/><stop offset="0.3800" stop-color="#ff6000"/><stop offset="0.3800" stop-color="#ff8000"/><stop offset="0.3817" stop-color="#ff8000"/><stop offset="0.3817" stop-color="#ff8f00"/><stop offset="0.3833" stop-color="#ff8f00"/><stop offset="0.3833" stop-color="#ffaf00"/><stop offset="0.3850" stop-color="#ffaf00"/><stop offset="0.3850" stop-color="#ffcf00"/><stop offset="0.3867" stop-color="#ffcf00"/><stop offset="0.3867" stop-color="#ffdf00"/><stop offset="0.3883" stop-color="#ffdf00"/><stop offset="0.3883" stop-color="#ffff00" stop-opacity="0"/><stop offset="0.3900" stop-color="#ffff00" stop-opacity="0"/><stop offset="0.3900" stop-color="#dfff20"/><stop offset="0.3917" stop-color="#dfff20"/><stop offset="0.3917" stop-color="#bfff40"/><stop offset="0.3933" stop-color="#bfff40"/><stop offset="0.3933" stop-color="#afff50"/><stop offset="0.3950" stop-color="#afff50"/><stop offset="0.3950" stop-color="#9fff60"/><stop offset="0.3967" stop-color="#9fff60"/><stop offset="0.3967" stop-color="#80ff80"/><stop offset="0.3983" stop-color="#80ff80"/><stop offset="0.3983" stop-color="#70ff8f"/><stop offset="0.4000" stop-color="#70ff8f"/><stop offset="0.4000" stop-color="#60ff9f"/><stop offset="0.4017" stop-color="#60ff9f"/><stop offset="0.4017" stop-color="#50ffaf"/><stop offset="0.4033" stop-color="#50ffaf"/><stop offset="0.4033" stop-color="#40ffbf"/><stop offset="0.4050" stop-color="#40ffbf"/><stop offset="0.4050" stop-color="#30ffcf"/><stop offset="0.4067" stop-color="#30ffcf"/><stop offset="0.4067" stop-color="#20ffdf"/><stop offset="0.4083" stop-color="#20ffdf"/><stop offset="0.4083" stop-color="#10ffef"/><stop offset="0.4117" stop-color="#10ffef"/><stop offset="0.4117" stop-color="#00ffff"/><stop offset="0.4133" stop-color="#00ffff"/><stop offset="0.4133" stop-color="#00efff"/><stop offset="0.4150" stop-color="#00efff"/><stop offset="0.4150" stop-color="#00dfff"/><stop offset="0.4167" stop-color="#00dfff"/><stop offset="0.4167" stop-color="#00cfff"/><stop offset="0.4183" stop-color="#00cfff"/><stop offset="0.4183" stop-color="#00bfff"/><stop offset="0.4200" stop-color="#00bfff"/><stop offset="0.4200" stop-color="#00afff"/><stop offset="0.4217" stop-color="#00afff"/><stop offset="0.4217" stop-color="#009fff"/><stop offset="0.4233" stop-color="#009fff"/><stop offset="0.4233" stop-color="#008fff"/><stop offset="0.4250" stop-color="#008fff"/><stop offset="0.4250" stop-color="#0080ff"/><stop offset="0.4267" stop-color="#0080ff"/><stop offset="0.4267" stop-color="#0070ff"/><stop offset="0.4283" stop-color="#0070ff"/><stop offset="0.4283" stop-color="#0060ff"/><stop offset="0.4317" stop-color="#0060ff"/><stop offset="0.4317" stop-color="#0050ff"/><stop offset="0.4333" stop-color="#0050ff"/><stop offset="0.4333" stop-color="#0040ff"/><stop offset="0.4367" stop-color="#0040ff"/><stop offset="0.4367" stop-color="#0030ff"/><stop offset="0.4400" stop-color="#0030ff"/><stop offset="0.4400" stop-color="#0020ff"/><stop offset="0.4433" stop-color="#0020ff"/><stop offset="0.4433" stop-color="#0010ff"/><stop offset="0.4467" stop-color="#0010ff"/><stop offset="0.4467" stop-color="#0000ff"/><stop offset="0.4550" stop-color="#0000ff"/><stop offset="0.4550" stop-color="#0000ef"/><stop offset="0.4650" stop-color="#0000ef"/><stop offset="0.4650" stop-color="#0000df"/><stop offset="0.4800" stop-color="#0000df"/><stop offset="0.4800" stop-color="#0000cf"/><stop offset="0.5217" stop-color="#0000cf"/><stop offset="0.5217" stop-color="#0000df"/><stop offset="0.5367" stop-color="#0000df"/><stop offset="0.5367" stop-color="#0000ef"/><stop offset="0.5467" stop-color="#0000ef"/><stop offset="0.5467" stop-color="#0000ff"/><stop offset="0.5550" stop-color="#0000ff"/><stop offset="0.5550" stop-color="#0010ff"/><stop offset="0.5583" stop-color="#0010ff"/><stop offset="0.5583" stop-color="#0020ff"/><stop offset="0.5617" stop-color="#0020ff"/><stop offset="0.5617" stop-color="#0030ff"/><stop offset="0.5650" stop-color="#0030ff"/><stop offset="0.5650" stop-color="#0040ff"/><stop offset="0.5683" stop-color="#0040ff"/><stop offset="0.5683" stop-color="#0050ff"/><stop offset="0.5700" stop-color="#0050ff"/><stop offset="0.5700" stop-color="#0060ff"/><stop offset="0.5733" stop-color="#0060ff"/><stop offset="0.5733" stop-color="#0070ff"/><stop offset="0.5750" stop-color="#0070ff"/><stop offset="0.5750" stop-color="#0080ff"/><stop offset="0.5767" stop-color="#0080ff"/><stop offset="0.5767" stop-color="#008fff"/><stop offset="0.5783" stop-color="#008fff"/><stop offset="0.5783" stop-color="#009fff"/><stop offset="0.5800" stop-color="#009fff"/><stop offset="0.5800" stop-color="#00afff"/><stop offset="0.5817" stop-color="#00afff"/><stop offset="0.5817" stop-color="#00bfff"/><stop offset="0.5833" stop-color="#00bfff"/><stop offset="0.5833" stop-color="#00cfff"/><stop offset="0.5850" stop-color="#00cfff"/><stop offset="0.5850" stop-color="#00dfff"/><stop offset="0.5867" stop-color="#00dfff"/><stop offset="0.5867" stop-color="#00efff"/><stop offset="0.5883" stop-color="#00efff"/><stop offset="0.5883" stop-color="#00ffff"/><stop offset="0.5900" stop-color="#00ffff"/><stop offset="0.5900" stop-color="#10ffef"/><stop offset="0.5933" stop-color="#10ffef"/><stop offset="0.5933" stop-color="#20ffdf"/><stop offset="0.5950" stop-color="#20ffdf"/><stop offset="0.5950" stop-color="#30ffcf"/><stop offset="0.5967" stop-color="#30ffcf"/><stop offset="0.5967" stop-color="#40ffbf"/><stop offset="0.5983" stop-color="#40ffbf"/><stop offset="0.5983" stop-color="#50ffaf"/><stop offset="0.6000" stop-color="#50ffaf"/><stop offset="0.6000" stop-color="#60ff9f"/><stop offset="0.6017" stop-color="#60ff9f"/><stop offset="0.6017" stop-color="#70ff8f"/><stop offset="0.6033" stop-color="#70ff8f"/><stop offset="0.6033" stop-color="#80ff80"/><stop offset="0.6050" stop-color="#80ff80"/><stop offset="0.6050" stop-color="#9fff60"/><stop offset="0.6067" stop-color="#9fff60"/><stop offset="0.6067" stop-color="#afff50"/><stop offset="0.6083" stop-color="#afff50"/><stop offset="0.6083" stop-color="#bfff40"/><stop offset="0.6100" stop-color="#bfff40"/><stop offset="0.6100" stop-color="#dfff20"/><stop offset="0.6117" stop-color="#dfff20"/><stop offset="0.6117" stop-color="#ffff00" stop-opacity="0"/><stop offset="0.6133" stop-color="#ffff00" stop-opacity="0"/><stop offset="0.6133" stop-color="#ffdf00"/><stop offset="0.6150" stop-color="#ffdf00"/><stop offset="0.6150" stop-color="#ffcf00"/><stop offset="0.6167" stop-color="#ffcf00"/><stop offset="0.6167" stop-color="#ffaf00"/><stop offset="0.6183" stop-color="#ffaf00"/><stop offset="0.6183" stop-color="#ff8f00"/><stop offset="0.6200" stop-color="#ff8f00"/><stop offset="0.6200" stop-color="#ff8000"/><stop offset="0.6217" stop-color="#ff8000"/><stop offset="0.6217" stop-color="#ff6000"/><stop offset="0.6233" stop-color="#ff6000"/><stop offset="0.6233" stop-color="#ff5000"/><stop offset="0.6250" stop-color="#ff5000"/><stop offset="0.6250" stop-color="#ff4000"/><stop offset="0.6267" stop-color="#ff4000"/><stop offset="0.6267" stop-color="#ff3000"/><stop offset="0.6283" stop-color="#ff3000"/><stop offset="0.6283" stop-color="#ff2000"/><stop offset="0.6300" stop-color="#ff2000"/><stop offset="0.6300" stop-color="#ff1000"/><stop offset="0.6317" stop-color="#ff1000"/><stop offset="0.6317" stop-color="#ff0000"/><stop offset="0.6350" stop-color="#ff0000"/><stop offset="0.6350" stop-color="#ef0000"/><stop offset="0.6400" stop-color="#ef0000"/><stop offset="0.6400" stop-color="#df0000"/><stop offset="0.6450" stop-color="#df0000"/><stop offset="0.6450" stop-color="#cf0000"/><stop offset="0.6767" stop-color="#cf0000"/><stop offset="0.6767" stop-color="#bf0000"/><stop offset="0.7400" stop-color="#bf0000"/><stop offset="0.7400" stop-color="#cf0000"/><stop offset="0.7683" stop-color="#cf0000"/><stop offset="0.7683" stop-color="#df0000"/><stop offset="0.7767" stop-color="#df0000"/><stop offset="0.7767" stop-color="#ef0000"/><stop offset="0.7833" stop-color="#ef0000"/><stop offset="0.7833" stop-color="#ff0000"/><stop offset="0.7867" stop-color="#ff0000"/><stop offset="0.7867" stop-color="#ff1000"/><stop offset="0.7917" stop-color="#ff1000"/><stop offset="0.7917" stop-color="#ff2000"/><stop offset="0.7950" stop-color="#ff2000"/><stop offset="0.7950" stop-color="#ff3000"/><stop offset="0.7967" stop-color="#ff3000"/><stop offset="0.7967" stop-color="#ff4000"/><stop offset="0.8000" stop-color="#ff4000"/><stop offset="0.8000" stop-color="#ff5000"/><stop offset="0.8050" stop-color="#ff5000"/><stop offset="0.8050" stop-color="#ff6000"/><stop offset="0.8083" stop-color="#ff6000"/><stop offset="0.8083" stop-color="#ff7000"/><stop offset="0.8117" stop-color="#ff7000"/><stop offset="0.8117" stop-color="#ff8000"/><stop offset="0.8150" stop-color="#ff8000"/><stop offset="0.8150" stop-color="#ff8f00"/><stop offset="0.8183" stop-color="#ff8f00"/><stop offset="0.8183" stop-color="#ff9f00"/><stop offset="0.8217" stop-color="#ff9f00"/><stop offset="0.8217" stop-color="#ffaf00"/><stop offset="0.8250" stop-color="#ffaf00"/><stop offset="0.8250" stop-color="#ffbf00"/><stop offset="0.8300" stop-color="#ffbf00"/><stop offset="0.8300" stop-color="#ffcf00"/><stop offset="0.8367" stop-color="#ffcf00"/><stop offset="0.8367" stop-color="#ffdf00"/><stop offset="0.8433" stop-color="#ffdf00"/><stop offset="0.8433" stop-color="#ffef00"/><stop offset="0.8550" stop-color="#ffef00"/><stop offset="0.8550" stop-color="#ffff00" stop-opacity="0"/><stop offset="1.0000" stop-color="#ffff00" stop-opacity="0"/></linearGradient>
<linearGradient id="geR" gradientUnits="userSpaceOnUse" x1="0" y1="-30" x2="0" y2="30"><stop offset="0.0000" stop-color="#ffff00" stop-opacity="0"/><stop offset="0.0500" stop-color="#ffff00" stop-opacity="0"/><stop offset="0.0500" stop-color="#efff10"/><stop offset="0.1300" stop-color="#efff10"/><stop offset="0.1300" stop-color="#ffff00" stop-opacity="0"/><stop offset="0.1533" stop-color="#ffff00" stop-opacity="0"/><stop offset="0.1533" stop-color="#ffef00"/><stop offset="0.1783" stop-color="#ffef00"/><stop offset="0.1783" stop-color="#ffdf00"/><stop offset="0.1883" stop-color="#ffdf00"/><stop offset="0.1883" stop-color="#ffcf00"/><stop offset="0.1917" stop-color="#ffcf00"/><stop offset="0.1917" stop-color="#ffbf00"/><stop offset="0.1967" stop-color="#ffbf00"/><stop offset="0.1967" stop-color="#ffaf00"/><stop offset="0.2000" stop-color="#ffaf00"/><stop offset="0.2000" stop-color="#ff9f00"/><stop offset="0.2033" stop-color="#ff9f00"/><stop offset="0.2033" stop-color="#ff8f00"/><stop offset="0.2067" stop-color="#ff8f00"/><stop offset="0.2067" stop-color="#ff8000"/><stop offset="0.2083" stop-color="#ff8000"/><stop offset="0.2083" stop-color="#ff7000"/><stop offset="0.2117" stop-color="#ff7000"/><stop offset="0.2117" stop-color="#ff6000"/><stop offset="0.2150" stop-color="#ff6000"/><stop offset="0.2150" stop-color="#ff5000"/><stop offset="0.2183" stop-color="#ff5000"/><stop offset="0.2183" stop-color="#ff4000"/><stop offset="0.2200" stop-color="#ff4000"/><stop offset="0.2200" stop-color="#ff3000"/><stop offset="0.2233" stop-color="#ff3000"/><stop offset="0.2233" stop-color="#ff2000"/><stop offset="0.2267" stop-color="#ff2000"/><stop offset="0.2267" stop-color="#ff1000"/><stop offset="0.2317" stop-color="#ff1000"/><stop offset="0.2317" stop-color="#ff0000"/><stop offset="0.2350" stop-color="#ff0000"/><stop offset="0.2350" stop-color="#ef0000"/><stop offset="0.2417" stop-color="#ef0000"/><stop offset="0.2417" stop-color="#df0000"/><stop offset="0.2500" stop-color="#df0000"/><stop offset="0.2500" stop-color="#cf0000"/><stop offset="0.2783" stop-color="#cf0000"/><stop offset="0.2783" stop-color="#bf0000"/><stop offset="0.3300" stop-color="#bf0000"/><stop offset="0.3300" stop-color="#cf0000"/><stop offset="0.3567" stop-color="#cf0000"/><stop offset="0.3567" stop-color="#df0000"/><stop offset="0.3617" stop-color="#df0000"/><stop offset="0.3617" stop-color="#ef0000"/><stop offset="0.3667" stop-color="#ef0000"/><stop offset="0.3667" stop-color="#ff0000"/><stop offset="0.3700" stop-color="#ff0000"/><stop offset="0.3700" stop-color="#ff1000"/><stop offset="0.3717" stop-color="#ff1000"/><stop offset="0.3717" stop-color="#ff2000"/><stop offset="0.3733" stop-color="#ff2000"/><stop offset="0.3733" stop-color="#ff3000"/><stop offset="0.3750" stop-color="#ff3000"/><stop offset="0.3750" stop-color="#ff4000"/><stop offset="0.3767" stop-color="#ff4000"/><stop offset="0.3767" stop-color="#ff5000"/><stop offset="0.3783" stop-color="#ff5000"/><stop offset="0.3783" stop-color="#ff6000"/><stop offset="0.3800" stop-color="#ff6000"/><stop offset="0.3800" stop-color="#ff8000"/><stop offset="0.3817" stop-color="#ff8000"/><stop offset="0.3817" stop-color="#ff8f00"/><stop offset="0.3833" stop-color="#ff8f00"/><stop offset="0.3833" stop-color="#ffaf00"/><stop offset="0.3850" stop-color="#ffaf00"/><stop offset="0.3850" stop-color="#ffcf00"/><stop offset="0.3867" stop-color="#ffcf00"/><stop offset="0.3867" stop-color="#ffdf00"/><stop offset="0.3883" stop-color="#ffdf00"/><stop offset="0.3883" stop-color="#ffff00" stop-opacity="0"/><stop offset="0.3900" stop-color="#ffff00" stop-opacity="0"/><stop offset="0.3900" stop-color="#dfff20"/><stop offset="0.3917" stop-color="#dfff20"/><stop offset="0.3917" stop-color="#bfff40"/><stop offset="0.3933" stop-color="#bfff40"/><stop offset="0.3933" stop-color="#afff50"/><stop offset="0.3950" stop-color="#afff50"/><stop offset="0.3950" stop-color="#9fff60"/><stop offset="0.3967" stop-color="#9fff60"/><stop offset="0.3967" stop-color="#80ff80"/><stop offset="0.3983" stop-color="#80ff80"/><stop offset="0.3983" stop-color="#70ff8f"/><stop offset="0.4000" stop-color="#70ff8f"/><stop offset="0.4000" stop-color="#60ff9f"/><stop offset="0.4017" stop-color="#60ff9f"/><stop offset="0.4017" stop-color="#50ffaf"/><stop offset="0.4033" stop-color="#50ffaf"/><stop offset="0.4033" stop-color="#40ffbf"/><stop offset="0.4050" stop-color="#40ffbf"/><stop offset="0.4050" stop-color="#30ffcf"/><stop offset="0.4067" stop-color="#30ffcf"/><stop offset="0.4067" stop-color="#20ffdf"/><stop offset="0.4083" stop-color="#20ffdf"/><stop offset="0.4083" stop-color="#10ffef"/><stop offset="0.4117" stop-color="#10ffef"/><stop offset="0.4117" stop-color="#00ffff"/><stop offset="0.4133" stop-color="#00ffff"/><stop offset="0.4133" stop-color="#00efff"/><stop offset="0.4150" stop-color="#00efff"/><stop offset="0.4150" stop-color="#00dfff"/><stop offset="0.4167" stop-color="#00dfff"/><stop offset="0.4167" stop-color="#00cfff"/><stop offset="0.4183" stop-color="#00cfff"/><stop offset="0.4183" stop-color="#00bfff"/><stop offset="0.4200" stop-color="#00bfff"/><stop offset="0.4200" stop-color="#00afff"/><stop offset="0.4217" stop-color="#00afff"/><stop offset="0.4217" stop-color="#009fff"/><stop offset="0.4233" stop-color="#009fff"/><stop offset="0.4233" stop-color="#008fff"/><stop offset="0.4250" stop-color="#008fff"/><stop offset="0.4250" stop-color="#0080ff"/><stop offset="0.4267" stop-color="#0080ff"/><stop offset="0.4267" stop-color="#0070ff"/><stop offset="0.4283" stop-color="#0070ff"/><stop offset="0.4283" stop-color="#0060ff"/><stop offset="0.4317" stop-color="#0060ff"/><stop offset="0.4317" stop-color="#0050ff"/><stop offset="0.4333" stop-color="#0050ff"/><stop offset="0.4333" stop-color="#0040ff"/><stop offset="0.4367" stop-color="#0040ff"/><stop offset="0.4367" stop-color="#0030ff"/><stop offset="0.4400" stop-color="#0030ff"/><stop offset="0.4400" stop-color="#0020ff"/><stop offset="0.4433" stop-color="#0020ff"/><stop offset="0.4433" stop-color="#0010ff"/><stop offset="0.4467" stop-color="#0010ff"/><stop offset="0.4467" stop-color="#0000ff"/><stop offset="0.4550" stop-color="#0000ff"/><stop offset="0.4550" stop-color="#0000ef"/><stop offset="0.4650" stop-color="#0000ef"/><stop offset="0.4650" stop-color="#0000df"/><stop offset="0.4800" stop-color="#0000df"/><stop offset="0.4800" stop-color="#0000cf"/><stop offset="0.5217" stop-color="#0000cf"/><stop offset="0.5217" stop-color="#0000df"/><stop offset="0.5367" stop-color="#0000df"/><stop offset="0.5367" stop-color="#0000ef"/><stop offset="0.5467" stop-color="#0000ef"/><stop offset="0.5467" stop-color="#0000ff"/><stop offset="0.5550" stop-color="#0000ff"/><stop offset="0.5550" stop-color="#0010ff"/><stop offset="0.5583" stop-color="#0010ff"/><stop offset="0.5583" stop-color="#0020ff"/><stop offset="0.5617" stop-color="#0020ff"/><stop offset="0.5617" stop-color="#0030ff"/><stop offset="0.5650" stop-color="#0030ff"/><stop offset="0.5650" stop-color="#0040ff"/><stop offset="0.5683" stop-color="#0040ff"/><stop offset="0.5683" stop-color="#0050ff"/><stop offset="0.5700" stop-color="#0050ff"/><stop offset="0.5700" stop-color="#0060ff"/><stop offset="0.5733" stop-color="#0060ff"/><stop offset="0.5733" stop-color="#0070ff"/><stop offset="0.5750" stop-color="#0070ff"/><stop offset="0.5750" stop-color="#0080ff"/><stop offset="0.5767" stop-color="#0080ff"/><stop offset="0.5767" stop-color="#008fff"/><stop offset="0.5783" stop-color="#008fff"/><stop offset="0.5783" stop-color="#009fff"/><stop offset="0.5800" stop-color="#009fff"/><stop offset="0.5800" stop-color="#00afff"/><stop offset="0.5817" stop-color="#00afff"/><stop offset="0.5817" stop-color="#00bfff"/><stop offset="0.5833" stop-color="#00bfff"/><stop offset="0.5833" stop-color="#00cfff"/><stop offset="0.5850" stop-color="#00cfff"/><stop offset="0.5850" stop-color="#00dfff"/><stop offset="0.5867" stop-color="#00dfff"/><stop offset="0.5867" stop-color="#00efff"/><stop offset="0.5883" stop-color="#00efff"/><stop offset="0.5883" stop-color="#00ffff"/><stop offset="0.5900" stop-color="#00ffff"/><stop offset="0.5900" stop-color="#10ffef"/><stop offset="0.5933" stop-color="#10ffef"/><stop offset="0.5933" stop-color="#20ffdf"/><stop offset="0.5950" stop-color="#20ffdf"/><stop offset="0.5950" stop-color="#30ffcf"/><stop offset="0.5967" stop-color="#30ffcf"/><stop offset="0.5967" stop-color="#40ffbf"/><stop offset="0.5983" stop-color="#40ffbf"/><stop offset="0.5983" stop-color="#50ffaf"/><stop offset="0.6000" stop-color="#50ffaf"/><stop offset="0.6000" stop-color="#60ff9f"/><stop offset="0.6017" stop-color="#60ff9f"/><stop offset="0.6017" stop-color="#70ff8f"/><stop offset="0.6033" stop-color="#70ff8f"/><stop offset="0.6033" stop-color="#80ff80"/><stop offset="0.6050" stop-color="#80ff80"/><stop offset="0.6050" stop-color="#9fff60"/><stop offset="0.6067" stop-color="#9fff60"/><stop offset="0.6067" stop-color="#afff50"/><stop offset="0.6083" stop-color="#afff50"/><stop offset="0.6083" stop-color="#bfff40"/><stop offset="0.6100" stop-color="#bfff40"/><stop offset="0.6100" stop-color="#dfff20"/><stop offset="0.6117" stop-color="#dfff20"/><stop offset="0.6117" stop-color="#ffff00" stop-opacity="0"/><stop offset="0.6133" stop-color="#ffff00" stop-opacity="0"/><stop offset="0.6133" stop-color="#ffdf00"/><stop offset="0.6150" stop-color="#ffdf00"/><stop offset="0.6150" stop-color="#ffcf00"/><stop offset="0.6167" stop-color="#ffcf00"/><stop offset="0.6167" stop-color="#ffaf00"/><stop offset="0.6183" stop-color="#ffaf00"/><stop offset="0.6183" stop-color="#ff8f00"/><stop offset="0.6200" stop-color="#ff8f00"/><stop offset="0.6200" stop-color="#ff8000"/><stop offset="0.6217" stop-color="#ff8000"/><stop offset="0.6217" stop-color="#ff6000"/><stop offset="0.6233" stop-color="#ff6000"/><stop offset="0.6233" stop-color="#ff5000"/><stop offset="0.6250" stop-color="#ff5000"/><stop offset="0.6250" stop-color="#ff4000"/><stop offset="0.6267" stop-color="#ff4000"/><stop offset="0.6267" stop-color="#ff3000"/><stop offset="0.6283" stop-color="#ff3000"/><stop offset="0.6283" stop-color="#ff2000"/><stop offset="0.6300" stop-color="#ff2000"/><stop offset="0.6300" stop-color="#ff1000"/><stop offset="0.6317" stop-color="#ff1000"/><stop offset="0.6317" stop-color="#ff0000"/><stop offset="0.6350" stop-color="#ff0000"/><stop offset="0.6350" stop-color="#ef0000"/><stop offset="0.6400" stop-color="#ef0000"/><stop offset="0.6400" stop-color="#df0000"/><stop offset="0.6450" stop-color="#df0000"/><stop offset="0.6450" stop-color="#cf0000"/><stop offset="0.6767" stop-color="#cf0000"/><stop offset="0.6767" stop-color="#bf0000"/><stop offset="0.7400" stop-color="#bf0000"/><stop offset="0.7400" stop-color="#cf0000"/><stop offset="0.7683" stop-color="#cf0000"/><stop offset="0.7683" stop-color="#df0000"/><stop offset="0.7767" stop-color="#df0000"/><stop offset="0.7767" stop-color="#ef0000"/><stop offset="0.7833" stop-color="#ef0000"/><stop offset="0.7833" stop-color="#ff0000"/><stop offset="0.7867" stop-color="#ff0000"/><stop offset="0.7867" stop-color="#ff1000"/><stop offset="0.7917" stop-color="#ff1000"/><stop offset="0.7917" stop-color="#ff2000"/><stop offset="0.7950" stop-color="#ff2000"/><stop offset="0.7950" stop-color="#ff3000"/><stop offset="0.7967" stop-color="#ff3000"/><stop offset="0.7967" stop-color="#ff4000"/><stop offset="0.8000" stop-color="#ff4000"/><stop offset="0.8000" stop-color="#ff5000"/><stop offset="0.8050" stop-color="#ff5000"/><stop offset="0.8050" stop-color="#ff6000"/><stop offset="0.8083" stop-color="#ff6000"/><stop offset="0.8083" stop-color="#ff7000"/><stop offset="0.8117" stop-color="#ff7000"/><stop offset="0.8117" stop-color="#ff8000"/><stop offset="0.8150" stop-color="#ff8000"/><stop offset="0.8150" stop-color="#ff8f00"/><stop offset="0.8183" stop-color="#ff8f00"/><stop offset="0.8183" stop-color="#ff9f00"/><stop offset="0.8217" stop-color="#ff9f00"/><stop offset="0.8217" stop-color="#ffaf00"/><stop offset="0.8250" stop-color="#ffaf00"/><stop offset="0.8250" stop-color="#ffbf00"/><stop offset="0.8300" stop-color="#ffbf00"/><stop offset="0.8300" stop-color="#ffcf00"/><stop offset="0.8367" stop-color="#ffcf00"/><stop offset="0.8367" stop-color="#ffdf00"/><stop offset="0.8433" stop-color="#ffdf00"/><stop offset="0.8433" stop-color="#ffef00"/><stop offset="0.8550" stop-color="#ffef00"/><stop offset="0.8550" stop-color="#ffff00" stop-opacity="0"/><stop offset="1.0000" stop-color="#ffff00" stop-opacity="0"/></linearGradient>
<linearGradient id="ger0" gradientUnits="userSpaceOnUse" x1="675.644" y1="184.060" x2="712.356" y2="239.940"><stop offset="0.0000" stop-color="#e0ff10" stop-opacity="0.000"/><stop offset="0.0063" stop-color="#e0ff10" stop-opacity="0.000"/><stop offset="0.0125" stop-color="#e0ff10" stop-opacity="0.000"/><stop offset="0.0187" stop-color="#e0ff10" stop-opacity="0.000"/><stop offset="0.0250" stop-color="#e0ff10" stop-opacity="0.000"/><stop offset="0.0312" stop-color="#e0ff10" stop-opacity="0.000"/><stop offset="0.0375" stop-color="#e0ff10" stop-opacity="0.000"/><stop offset="0.0437" stop-color="#e0ff10" stop-opacity="0.000"/><stop offset="0.0500" stop-color="#e0ff10" stop-opacity="0"/><stop offset="0.0500" stop-color="#ffef00" stop-opacity="0"/><stop offset="0.0500" stop-color="#ffef00" stop-opacity="0.000"/><stop offset="0.0563" stop-color="#ffef00" stop-opacity="0.000"/><stop offset="0.0625" stop-color="#ffef00" stop-opacity="0.000"/><stop offset="0.0688" stop-color="#ffef00" stop-opacity="0.000"/><stop offset="0.0750" stop-color="#ffef00" stop-opacity="0.000"/><stop offset="0.0813" stop-color="#ffef00" stop-opacity="0.000"/><stop offset="0.0875" stop-color="#ffef00" stop-opacity="0.001"/><stop offset="0.0938" stop-color="#ffef00" stop-opacity="0.001"/><stop offset="0.1000" stop-color="#ffef00" stop-opacity="0.001"/><stop offset="0.1062" stop-color="#ffef00" stop-opacity="0.001"/><stop offset="0.1125" stop-color="#ffef00" stop-opacity="0.001"/><stop offset="0.1187" stop-color="#ffef00" stop-opacity="0.000"/><stop offset="0.1250" stop-color="#ffef00" stop-opacity="0"/><stop offset="0.1250" stop-color="#e0ff10" stop-opacity="0"/><stop offset="0.1250" stop-color="#e0ff10" stop-opacity="0.000"/><stop offset="0.1313" stop-color="#e0ff10" stop-opacity="0.001"/><stop offset="0.1375" stop-color="#e0ff10" stop-opacity="0.001"/><stop offset="0.1437" stop-color="#e0ff10" stop-opacity="0.002"/><stop offset="0.1500" stop-color="#e0ff10" stop-opacity="0.003"/><stop offset="0.1562" stop-color="#e0ff10" stop-opacity="0.004"/><stop offset="0.1625" stop-color="#e0ff10" stop-opacity="0.005"/><stop offset="0.1688" stop-color="#e0ff10" stop-opacity="0.005"/><stop offset="0.1750" stop-color="#e0ff10" stop-opacity="0.006"/><stop offset="0.1812" stop-color="#e0ff10" stop-opacity="0.005"/><stop offset="0.1875" stop-color="#e0ff10" stop-opacity="0.004"/><stop offset="0.1938" stop-color="#e0ff10" stop-opacity="0.003"/><stop offset="0.2000" stop-color="#e0ff10" stop-opacity="0"/><stop offset="0.2000" stop-color="#ffef00" stop-opacity="0"/><stop offset="0.2000" stop-color="#ffef00" stop-opacity="0.000"/><stop offset="0.2062" stop-color="#ffef00" stop-opacity="0.003"/><stop offset="0.2125" stop-color="#ffef00" stop-opacity="0.008"/><stop offset="0.2188" stop-color="#ffef00" stop-opacity="0.012"/><stop offset="0.2250" stop-color="#ffef00" stop-opacity="0.017"/><stop offset="0.2313" stop-color="#ffef00" stop-opacity="0.022"/><stop offset="0.2375" stop-color="#ffef00" stop-opacity="0.026"/><stop offset="0.2437" stop-color="#ffef00" stop-opacity="0.028"/><stop offset="0.2500" stop-color="#ffef00" stop-opacity="0.028"/><stop offset="0.2562" stop-color="#ffef00" stop-opacity="0.026"/><stop offset="0.2625" stop-color="#ffef00" stop-opacity="0.021"/><stop offset="0.2687" stop-color="#ffef00" stop-opacity="0.012"/><stop offset="0.2750" stop-color="#ffef00" stop-opacity="0"/><stop offset="0.2750" stop-color="#e0ff10" stop-opacity="0"/><stop offset="0.2750" stop-color="#e0ff10" stop-opacity="0.000"/><stop offset="0.2812" stop-color="#e0ff10" stop-opacity="0.015"/><stop offset="0.2875" stop-color="#e0ff10" stop-opacity="0.032"/><stop offset="0.2938" stop-color="#e0ff10" stop-opacity="0.049"/><stop offset="0.3000" stop-color="#e0ff10" stop-opacity="0.067"/><stop offset="0.3063" stop-color="#e0ff10" stop-opacity="0.082"/><stop offset="0.3125" stop-color="#e0ff10" stop-opacity="0.092"/><stop offset="0.3187" stop-color="#e0ff10" stop-opacity="0.097"/><stop offset="0.3250" stop-color="#e0ff10" stop-opacity="0.095"/><stop offset="0.3312" stop-color="#e0ff10" stop-opacity="0.084"/><stop offset="0.3375" stop-color="#e0ff10" stop-opacity="0.064"/><stop offset="0.3438" stop-color="#e0ff10" stop-opacity="0.036"/><stop offset="0.3500" stop-color="#e0ff10" stop-opacity="0"/><stop offset="0.3500" stop-color="#ffef00" stop-opacity="0"/><stop offset="0.3500" stop-color="#ffef00" stop-opacity="0.000"/><stop offset="0.3563" stop-color="#ffef00" stop-opacity="0.041"/><stop offset="0.3625" stop-color="#ffef00" stop-opacity="0.086"/><stop offset="0.3688" stop-color="#ffef00" stop-opacity="0.129"/><stop offset="0.3750" stop-color="#ffef00" stop-opacity="0.168"/><stop offset="0.3812" stop-color="#ffef00" stop-opacity="0.198"/><stop offset="0.3875" stop-color="#ffef00" stop-opacity="0.217"/><stop offset="0.3937" stop-color="#ffef00" stop-opacity="0.220"/><stop offset="0.4000" stop-color="#ffef00" stop-opacity="0.208"/><stop offset="0.4062" stop-color="#ffef00" stop-opacity="0.177"/><stop offset="0.4125" stop-color="#ffef00" stop-opacity="0.131"/><stop offset="0.4188" stop-color="#ffef00" stop-opacity="0.071"/><stop offset="0.4250" stop-color="#ffef00" stop-opacity="0"/><stop offset="0.4250" stop-color="#e0ff10" stop-opacity="0"/><stop offset="0.4250" stop-color="#e0ff10" stop-opacity="0.000"/><stop offset="0.4313" stop-color="#e0ff10" stop-opacity="0.076"/><stop offset="0.4375" stop-color="#e0ff10" stop-opacity="0.151"/><stop offset="0.4437" stop-color="#e0ff10" stop-opacity="0.220"/><stop offset="0.4500" stop-color="#e0ff10" stop-opacity="0.276"/><stop offset="0.4562" stop-color="#e0ff10" stop-opacity="0.314"/><stop offset="0.4625" stop-color="#e0ff10" stop-opacity="0.332"/><stop offset="0.4688" stop-color="#e0ff10" stop-opacity="0.326"/><stop offset="0.4750" stop-color="#e0ff10" stop-opacity="0.296"/><stop offset="0.4813" stop-color="#e0ff10" stop-opacity="0.244"/><stop offset="0.4875" stop-color="#e0ff10" stop-opacity="0.174"/><stop offset="0.4938" stop-color="#e0ff10" stop-opacity="0.090"/><stop offset="0.5000" stop-color="#ffef00" stop-opacity="0.000"/><stop offset="0.5062" stop-color="#e0ff10" stop-opacity="0"/><stop offset="0.5062" stop-color="#ffef00" stop-opacity="0"/><stop offset="0.5062" stop-color="#ffef00" stop-opacity="0.090"/><stop offset="0.5125" stop-color="#ffef00" stop-opacity="0.174"/><stop offset="0.5188" stop-color="#ffef00" stop-opacity="0.244"/><stop offset="0.5250" stop-color="#ffef00" stop-opacity="0.296"/><stop offset="0.5312" stop-color="#ffef00" stop-opacity="0.326"/><stop offset="0.5375" stop-color="#ffef00" stop-opacity="0.332"/><stop offset="0.5437" stop-color="#ffef00" stop-opacity="0.314"/><stop offset="0.5500" stop-color="#ffef00" stop-opacity="0.276"/><stop offset="0.5563" stop-color="#ffef00" stop-opacity="0.220"/><stop offset="0.5625" stop-color="#ffef00" stop-opacity="0.151"/><stop offset="0.5687" stop-color="#ffef00" stop-opacity="0.076"/><stop offset="0.5750" stop-color="#ffef00" stop-opacity="0.000"/><stop offset="0.5813" stop-color="#ffef00" stop-opacity="0"/><stop offset="0.5813" stop-color="#e0ff10" stop-opacity="0"/><stop offset="0.5813" stop-color="#e0ff10" stop-opacity="0.071"/><stop offset="0.5875" stop-color="#e0ff10" stop-opacity="0.131"/><stop offset="0.5938" stop-color="#e0ff10" stop-opacity="0.177"/><stop offset="0.6000" stop-color="#e0ff10" stop-opacity="0.208"/><stop offset="0.6062" stop-color="#e0ff10" stop-opacity="0.220"/><stop offset="0.6125" stop-color="#e0ff10" stop-opacity="0.217"/><stop offset="0.6188" stop-color="#e0ff10" stop-opacity="0.198"/><stop offset="0.6250" stop-color="#e0ff10" stop-opacity="0.168"/><stop offset="0.6312" stop-color="#e0ff10" stop-opacity="0.129"/><stop offset="0.6375" stop-color="#e0ff10" stop-opacity="0.086"/><stop offset="0.6438" stop-color="#e0ff10" stop-opacity="0.041"/><stop offset="0.6500" stop-color="#e0ff10" stop-opacity="0.000"/><stop offset="0.6562" stop-color="#e0ff10" stop-opacity="0"/><stop offset="0.6562" stop-color="#ffef00" stop-opacity="0"/><stop offset="0.6562" stop-color="#ffef00" stop-opacity="0.036"/><stop offset="0.6625" stop-color="#ffef00" stop-opacity="0.064"/><stop offset="0.6687" stop-color="#ffef00" stop-opacity="0.084"/><stop offset="0.6750" stop-color="#ffef00" stop-opacity="0.095"/><stop offset="0.6813" stop-color="#ffef00" stop-opacity="0.097"/><stop offset="0.6875" stop-color="#ffef00" stop-opacity="0.092"/><stop offset="0.6937" stop-color="#ffef00" stop-opacity="0.082"/><stop offset="0.7000" stop-color="#ffef00" stop-opacity="0.067"/><stop offset="0.7063" stop-color="#ffef00" stop-opacity="0.049"/><stop offset="0.7125" stop-color="#ffef00" stop-opacity="0.032"/><stop offset="0.7188" stop-color="#ffef00" stop-opacity="0.015"/><stop offset="0.7250" stop-color="#ffef00" stop-opacity="0.000"/><stop offset="0.7312" stop-color="#ffef00" stop-opacity="0"/><stop offset="0.7312" stop-color="#e0ff10" stop-opacity="0"/><stop offset="0.7312" stop-color="#e0ff10" stop-opacity="0.012"/><stop offset="0.7375" stop-color="#e0ff10" stop-opacity="0.021"/><stop offset="0.7438" stop-color="#e0ff10" stop-opacity="0.026"/><stop offset="0.7500" stop-color="#e0ff10" stop-opacity="0.028"/><stop offset="0.7562" stop-color="#e0ff10" stop-opacity="0.028"/><stop offset="0.7625" stop-color="#e0ff10" stop-opacity="0.026"/><stop offset="0.7688" stop-color="#e0ff10" stop-opacity="0.022"/><stop offset="0.7750" stop-color="#e0ff10" stop-opacity="0.017"/><stop offset="0.7812" stop-color="#e0ff10" stop-opacity="0.012"/><stop offset="0.7875" stop-color="#e0ff10" stop-opacity="0.008"/><stop offset="0.7937" stop-color="#e0ff10" stop-opacity="0.003"/><stop offset="0.8000" stop-color="#e0ff10" stop-opacity="0.000"/><stop offset="0.8063" stop-color="#e0ff10" stop-opacity="0"/><stop offset="0.8063" stop-color="#ffef00" stop-opacity="0"/><stop offset="0.8063" stop-color="#ffef00" stop-opacity="0.003"/><stop offset="0.8125" stop-color="#ffef00" stop-opacity="0.004"/><stop offset="0.8187" stop-color="#ffef00" stop-opacity="0.005"/><stop offset="0.8250" stop-color="#ffef00" stop-opacity="0.006"/><stop offset="0.8313" stop-color="#ffef00" stop-opacity="0.005"/><stop offset="0.8375" stop-color="#ffef00" stop-opacity="0.005"/><stop offset="0.8438" stop-color="#ffef00" stop-opacity="0.004"/><stop offset="0.8500" stop-color="#ffef00" stop-opacity="0.003"/><stop offset="0.8562" stop-color="#ffef00" stop-opacity="0.002"/><stop offset="0.8625" stop-color="#ffef00" stop-opacity="0.001"/><stop offset="0.8688" stop-color="#ffef00" stop-opacity="0.001"/><stop offset="0.8750" stop-color="#ffef00" stop-opacity="0.000"/><stop offset="0.8812" stop-color="#ffef00" stop-opacity="0"/><stop offset="0.8812" stop-color="#e0ff10" stop-opacity="0"/><stop offset="0.8812" stop-color="#e0ff10" stop-opacity="0.000"/><stop offset="0.8875" stop-color="#e0ff10" stop-opacity="0.001"/><stop offset="0.8938" stop-color="#e0ff10" stop-opacity="0.001"/><stop offset="0.9000" stop-color="#e0ff10" stop-opacity="0.001"/><stop offset="0.9062" stop-color="#e0ff10" stop-opacity="0.001"/><stop offset="0.9125" stop-color="#e0ff10" stop-opacity="0.001"/><stop offset="0.9187" stop-color="#e0ff10" stop-opacity="0.000"/><stop offset="0.9250" stop-color="#e0ff10" stop-opacity="0.000"/><stop offset="0.9313" stop-color="#e0ff10" stop-opacity="0.000"/><stop offset="0.9375" stop-color="#e0ff10" stop-opacity="0.000"/><stop offset="0.9437" stop-color="#e0ff10" stop-opacity="0.000"/><stop offset="0.9500" stop-color="#e0ff10" stop-opacity="0.000"/><stop offset="0.9563" stop-color="#e0ff10" stop-opacity="0"/><stop offset="0.9563" stop-color="#ffef00" stop-opacity="0"/><stop offset="0.9563" stop-color="#ffef00" stop-opacity="0.000"/><stop offset="0.9625" stop-color="#ffef00" stop-opacity="0.000"/><stop offset="0.9688" stop-color="#ffef00" stop-opacity="0.000"/><stop offset="0.9750" stop-color="#ffef00" stop-opacity="0.000"/><stop offset="0.9812" stop-color="#ffef00" stop-opacity="0.000"/><stop offset="0.9875" stop-color="#ffef00" stop-opacity="0.000"/><stop offset="0.9938" stop-color="#ffef00" stop-opacity="0.000"/><stop offset="1.0000" stop-color="#ffef00" stop-opacity="0.000"/></linearGradient>
<linearGradient id="ger1" gradientUnits="userSpaceOnUse" x1="1048.356" y1="184.060" x2="1011.644" y2="239.940"><stop offset="0.0000" stop-color="#e0ff10" stop-opacity="0.000"/><stop offset="0.0063" stop-color="#e0ff10" stop-opacity="0.000"/><stop offset="0.0125" stop-color="#e0ff10" stop-opacity="0.000"/><stop offset="0.0187" stop-color="#e0ff10" stop-opacity="0.000"/><stop offset="0.0250" stop-color="#e0ff10" stop-opacity="0.000"/><stop offset="0.0312" stop-color="#e0ff10" stop-opacity="0.000"/><stop offset="0.0375" stop-color="#e0ff10" stop-opacity="0.000"/><stop offset="0.0437" stop-color="#e0ff10" stop-opacity="0.000"/><stop offset="0.0500" stop-color="#e0ff10" stop-opacity="0"/><stop offset="0.0500" stop-color="#ffef00" stop-opacity="0"/><stop offset="0.0500" stop-color="#ffef00" stop-opacity="0.000"/><stop offset="0.0563" stop-color="#ffef00" stop-opacity="0.000"/><stop offset="0.0625" stop-color="#ffef00" stop-opacity="0.000"/><stop offset="0.0688" stop-color="#ffef00" stop-opacity="0.000"/><stop offset="0.0750" stop-color="#ffef00" stop-opacity="0.000"/><stop offset="0.0813" stop-color="#ffef00" stop-opacity="0.000"/><stop offset="0.0875" stop-color="#ffef00" stop-opacity="0.001"/><stop offset="0.0938" stop-color="#ffef00" stop-opacity="0.001"/><stop offset="0.1000" stop-color="#ffef00" stop-opacity="0.001"/><stop offset="0.1062" stop-color="#ffef00" stop-opacity="0.001"/><stop offset="0.1125" stop-color="#ffef00" stop-opacity="0.001"/><stop offset="0.1187" stop-color="#ffef00" stop-opacity="0.000"/><stop offset="0.1250" stop-color="#ffef00" stop-opacity="0"/><stop offset="0.1250" stop-color="#e0ff10" stop-opacity="0"/><stop offset="0.1250" stop-color="#e0ff10" stop-opacity="0.000"/><stop offset="0.1313" stop-color="#e0ff10" stop-opacity="0.001"/><stop offset="0.1375" stop-color="#e0ff10" stop-opacity="0.001"/><stop offset="0.1437" stop-color="#e0ff10" stop-opacity="0.002"/><stop offset="0.1500" stop-color="#e0ff10" stop-opacity="0.003"/><stop offset="0.1562" stop-color="#e0ff10" stop-opacity="0.004"/><stop offset="0.1625" stop-color="#e0ff10" stop-opacity="0.005"/><stop offset="0.1688" stop-color="#e0ff10" stop-opacity="0.005"/><stop offset="0.1750" stop-color="#e0ff10" stop-opacity="0.006"/><stop offset="0.1812" stop-color="#e0ff10" stop-opacity="0.005"/><stop offset="0.1875" stop-color="#e0ff10" stop-opacity="0.004"/><stop offset="0.1938" stop-color="#e0ff10" stop-opacity="0.003"/><stop offset="0.2000" stop-color="#e0ff10" stop-opacity="0"/><stop offset="0.2000" stop-color="#ffef00" stop-opacity="0"/><stop offset="0.2000" stop-color="#ffef00" stop-opacity="0.000"/><stop offset="0.2062" stop-color="#ffef00" stop-opacity="0.003"/><stop offset="0.2125" stop-color="#ffef00" stop-opacity="0.008"/><stop offset="0.2188" stop-color="#ffef00" stop-opacity="0.012"/><stop offset="0.2250" stop-color="#ffef00" stop-opacity="0.017"/><stop offset="0.2313" stop-color="#ffef00" stop-opacity="0.022"/><stop offset="0.2375" stop-color="#ffef00" stop-opacity="0.026"/><stop offset="0.2437" stop-color="#ffef00" stop-opacity="0.028"/><stop offset="0.2500" stop-color="#ffef00" stop-opacity="0.028"/><stop offset="0.2562" stop-color="#ffef00" stop-opacity="0.026"/><stop offset="0.2625" stop-color="#ffef00" stop-opacity="0.021"/><stop offset="0.2687" stop-color="#ffef00" stop-opacity="0.012"/><stop offset="0.2750" stop-color="#ffef00" stop-opacity="0"/><stop offset="0.2750" stop-color="#e0ff10" stop-opacity="0"/><stop offset="0.2750" stop-color="#e0ff10" stop-opacity="0.000"/><stop offset="0.2812" stop-color="#e0ff10" stop-opacity="0.015"/><stop offset="0.2875" stop-color="#e0ff10" stop-opacity="0.032"/><stop offset="0.2938" stop-color="#e0ff10" stop-opacity="0.049"/><stop offset="0.3000" stop-color="#e0ff10" stop-opacity="0.067"/><stop offset="0.3063" stop-color="#e0ff10" stop-opacity="0.082"/><stop offset="0.3125" stop-color="#e0ff10" stop-opacity="0.092"/><stop offset="0.3187" stop-color="#e0ff10" stop-opacity="0.097"/><stop offset="0.3250" stop-color="#e0ff10" stop-opacity="0.095"/><stop offset="0.3312" stop-color="#e0ff10" stop-opacity="0.084"/><stop offset="0.3375" stop-color="#e0ff10" stop-opacity="0.064"/><stop offset="0.3438" stop-color="#e0ff10" stop-opacity="0.036"/><stop offset="0.3500" stop-color="#e0ff10" stop-opacity="0"/><stop offset="0.3500" stop-color="#ffef00" stop-opacity="0"/><stop offset="0.3500" stop-color="#ffef00" stop-opacity="0.000"/><stop offset="0.3563" stop-color="#ffef00" stop-opacity="0.041"/><stop offset="0.3625" stop-color="#ffef00" stop-opacity="0.086"/><stop offset="0.3688" stop-color="#ffef00" stop-opacity="0.129"/><stop offset="0.3750" stop-color="#ffef00" stop-opacity="0.168"/><stop offset="0.3812" stop-color="#ffef00" stop-opacity="0.198"/><stop offset="0.3875" stop-color="#ffef00" stop-opacity="0.217"/><stop offset="0.3937" stop-color="#ffef00" stop-opacity="0.220"/><stop offset="0.4000" stop-color="#ffef00" stop-opacity="0.208"/><stop offset="0.4062" stop-color="#ffef00" stop-opacity="0.177"/><stop offset="0.4125" stop-color="#ffef00" stop-opacity="0.131"/><stop offset="0.4188" stop-color="#ffef00" stop-opacity="0.071"/><stop offset="0.4250" stop-color="#ffef00" stop-opacity="0"/><stop offset="0.4250" stop-color="#e0ff10" stop-opacity="0"/><stop offset="0.4250" stop-color="#e0ff10" stop-opacity="0.000"/><stop offset="0.4313" stop-color="#e0ff10" stop-opacity="0.076"/><stop offset="0.4375" stop-color="#e0ff10" stop-opacity="0.151"/><stop offset="0.4437" stop-color="#e0ff10" stop-opacity="0.220"/><stop offset="0.4500" stop-color="#e0ff10" stop-opacity="0.276"/><stop offset="0.4562" stop-color="#e0ff10" stop-opacity="0.314"/><stop offset="0.4625" stop-color="#e0ff10" stop-opacity="0.332"/><stop offset="0.4688" stop-color="#e0ff10" stop-opacity="0.326"/><stop offset="0.4750" stop-color="#e0ff10" stop-opacity="0.296"/><stop offset="0.4813" stop-color="#e0ff10" stop-opacity="0.244"/><stop offset="0.4875" stop-color="#e0ff10" stop-opacity="0.174"/><stop offset="0.4938" stop-color="#e0ff10" stop-opacity="0.090"/><stop offset="0.5000" stop-color="#ffef00" stop-opacity="0.000"/><stop offset="0.5062" stop-color="#e0ff10" stop-opacity="0"/><stop offset="0.5062" stop-color="#ffef00" stop-opacity="0"/><stop offset="0.5062" stop-color="#ffef00" stop-opacity="0.090"/><stop offset="0.5125" stop-color="#ffef00" stop-opacity="0.174"/><stop offset="0.5188" stop-color="#ffef00" stop-opacity="0.244"/><stop offset="0.5250" stop-color="#ffef00" stop-opacity="0.296"/><stop offset="0.5312" stop-color="#ffef00" stop-opacity="0.326"/><stop offset="0.5375" stop-color="#ffef00" stop-opacity="0.332"/><stop offset="0.5437" stop-color="#ffef00" stop-opacity="0.314"/><stop offset="0.5500" stop-color="#ffef00" stop-opacity="0.276"/><stop offset="0.5563" stop-color="#ffef00" stop-opacity="0.220"/><stop offset="0.5625" stop-color="#ffef00" stop-opacity="0.151"/><stop offset="0.5687" stop-color="#ffef00" stop-opacity="0.076"/><stop offset="0.5750" stop-color="#ffef00" stop-opacity="0.000"/><stop offset="0.5813" stop-color="#ffef00" stop-opacity="0"/><stop offset="0.5813" stop-color="#e0ff10" stop-opacity="0"/><stop offset="0.5813" stop-color="#e0ff10" stop-opacity="0.071"/><stop offset="0.5875" stop-color="#e0ff10" stop-opacity="0.131"/><stop offset="0.5938" stop-color="#e0ff10" stop-opacity="0.177"/><stop offset="0.6000" stop-color="#e0ff10" stop-opacity="0.208"/><stop offset="0.6062" stop-color="#e0ff10" stop-opacity="0.220"/><stop offset="0.6125" stop-color="#e0ff10" stop-opacity="0.217"/><stop offset="0.6188" stop-color="#e0ff10" stop-opacity="0.198"/><stop offset="0.6250" stop-color="#e0ff10" stop-opacity="0.168"/><stop offset="0.6312" stop-color="#e0ff10" stop-opacity="0.129"/><stop offset="0.6375" stop-color="#e0ff10" stop-opacity="0.086"/><stop offset="0.6438" stop-color="#e0ff10" stop-opacity="0.041"/><stop offset="0.6500" stop-color="#e0ff10" stop-opacity="0.000"/><stop offset="0.6562" stop-color="#e0ff10" stop-opacity="0"/><stop offset="0.6562" stop-color="#ffef00" stop-opacity="0"/><stop offset="0.6562" stop-color="#ffef00" stop-opacity="0.036"/><stop offset="0.6625" stop-color="#ffef00" stop-opacity="0.064"/><stop offset="0.6687" stop-color="#ffef00" stop-opacity="0.084"/><stop offset="0.6750" stop-color="#ffef00" stop-opacity="0.095"/><stop offset="0.6813" stop-color="#ffef00" stop-opacity="0.097"/><stop offset="0.6875" stop-color="#ffef00" stop-opacity="0.092"/><stop offset="0.6937" stop-color="#ffef00" stop-opacity="0.082"/><stop offset="0.7000" stop-color="#ffef00" stop-opacity="0.067"/><stop offset="0.7063" stop-color="#ffef00" stop-opacity="0.049"/><stop offset="0.7125" stop-color="#ffef00" stop-opacity="0.032"/><stop offset="0.7188" stop-color="#ffef00" stop-opacity="0.015"/><stop offset="0.7250" stop-color="#ffef00" stop-opacity="0.000"/><stop offset="0.7312" stop-color="#ffef00" stop-opacity="0"/><stop offset="0.7312" stop-color="#e0ff10" stop-opacity="0"/><stop offset="0.7312" stop-color="#e0ff10" stop-opacity="0.012"/><stop offset="0.7375" stop-color="#e0ff10" stop-opacity="0.021"/><stop offset="0.7438" stop-color="#e0ff10" stop-opacity="0.026"/><stop offset="0.7500" stop-color="#e0ff10" stop-opacity="0.028"/><stop offset="0.7562" stop-color="#e0ff10" stop-opacity="0.028"/><stop offset="0.7625" stop-color="#e0ff10" stop-opacity="0.026"/><stop offset="0.7688" stop-color="#e0ff10" stop-opacity="0.022"/><stop offset="0.7750" stop-color="#e0ff10" stop-opacity="0.017"/><stop offset="0.7812" stop-color="#e0ff10" stop-opacity="0.012"/><stop offset="0.7875" stop-color="#e0ff10" stop-opacity="0.008"/><stop offset="0.7937" stop-color="#e0ff10" stop-opacity="0.003"/><stop offset="0.8000" stop-color="#e0ff10" stop-opacity="0.000"/><stop offset="0.8063" stop-color="#e0ff10" stop-opacity="0"/><stop offset="0.8063" stop-color="#ffef00" stop-opacity="0"/><stop offset="0.8063" stop-color="#ffef00" stop-opacity="0.003"/><stop offset="0.8125" stop-color="#ffef00" stop-opacity="0.004"/><stop offset="0.8187" stop-color="#ffef00" stop-opacity="0.005"/><stop offset="0.8250" stop-color="#ffef00" stop-opacity="0.006"/><stop offset="0.8313" stop-color="#ffef00" stop-opacity="0.005"/><stop offset="0.8375" stop-color="#ffef00" stop-opacity="0.005"/><stop offset="0.8438" stop-color="#ffef00" stop-opacity="0.004"/><stop offset="0.8500" stop-color="#ffef00" stop-opacity="0.003"/><stop offset="0.8562" stop-color="#ffef00" stop-opacity="0.002"/><stop offset="0.8625" stop-color="#ffef00" stop-opacity="0.001"/><stop offset="0.8688" stop-color="#ffef00" stop-opacity="0.001"/><stop offset="0.8750" stop-color="#ffef00" stop-opacity="0.000"/><stop offset="0.8812" stop-color="#ffef00" stop-opacity="0"/><stop offset="0.8812" stop-color="#e0ff10" stop-opacity="0"/><stop offset="0.8812" stop-color="#e0ff10" stop-opacity="0.000"/><stop offset="0.8875" stop-color="#e0ff10" stop-opacity="0.001"/><stop offset="0.8938" stop-color="#e0ff10" stop-opacity="0.001"/><stop offset="0.9000" stop-color="#e0ff10" stop-opacity="0.001"/><stop offset="0.9062" stop-color="#e0ff10" stop-opacity="0.001"/><stop offset="0.9125" stop-color="#e0ff10" stop-opacity="0.001"/><stop offset="0.9187" stop-color="#e0ff10" stop-opacity="0.000"/><stop offset="0.9250" stop-color="#e0ff10" stop-opacity="0.000"/><stop offset="0.9313" stop-color="#e0ff10" stop-opacity="0.000"/><stop offset="0.9375" stop-color="#e0ff10" stop-opacity="0.000"/><stop offset="0.9437" stop-color="#e0ff10" stop-opacity="0.000"/><stop offset="0.9500" stop-color="#e0ff10" stop-opacity="0.000"/><stop offset="0.9563" stop-color="#e0ff10" stop-opacity="0"/><stop offset="0.9563" stop-color="#ffef00" stop-opacity="0"/><stop offset="0.9563" stop-color="#ffef00" stop-opacity="0.000"/><stop offset="0.9625" stop-color="#ffef00" stop-opacity="0.000"/><stop offset="0.9688" stop-color="#ffef00" stop-opacity="0.000"/><stop offset="0.9750" stop-color="#ffef00" stop-opacity="0.000"/><stop offset="0.9812" stop-color="#ffef00" stop-opacity="0.000"/><stop offset="0.9875" stop-color="#ffef00" stop-opacity="0.000"/><stop offset="0.9938" stop-color="#ffef00" stop-opacity="0.000"/><stop offset="1.0000" stop-color="#ffef00" stop-opacity="0.000"/></linearGradient>
<clipPath id="gec"><rect x="694" y="68" width="336" height="309"/></clipPath>
<filter id="gef" x="684" y="58" width="356" height="329" filterUnits="userSpaceOnUse"><feGaussianBlur stdDeviation="1.0 0"/></filter>
</defs>
<rect x="694" y="68" width="336" height="309" fill="#ffff00"/>
<g clip-path="url(#gec)">
<rect x="694" y="68" width="336" height="309" fill="url(#ger0)" shape-rendering="auto" style="mix-blend-mode:normal"/>
<rect x="694" y="68" width="336" height="309" fill="url(#ger1)" shape-rendering="auto" style="mix-blend-mode:normal"/>
<g filter="url(#gef)">
<rect x="688.750" y="-30.00" width="2.645" height="60.00" fill="url(#geL)" transform="translate(0 226.31) scale(1 1.0000)"/>
<rect x="691.375" y="-30.00" width="2.645" height="60.00" fill="url(#geL)" transform="translate(0 228.24) scale(1 1.0000)"/>
<rect x="694.000" y="-30.00" width="2.645" height="60.00" fill="url(#geL)" transform="translate(0 230.16) scale(1 1.0000)"/>
<rect x="696.625" y="-30.00" width="2.645" height="60.00" fill="url(#geL)" transform="translate(0 232.09) scale(1 1.0000)"/>
<rect x="699.250" y="-30.00" width="2.645" height="60.00" fill="url(#geL)" transform="translate(0 234.02) scale(1 1.0000)"/>
<rect x="701.875" y="-30.00" width="2.645" height="60.00" fill="url(#geL)" transform="translate(0 235.95) scale(1 1.0000)"/>
<rect x="704.500" y="-30.00" width="2.645" height="60.00" fill="url(#geL)" transform="translate(0 237.87) scale(1 1.0000)"/>
<rect x="707.125" y="-30.00" width="2.645" height="60.00" fill="url(#geL)" transform="translate(0 239.80) scale(1 1.0000)"/>
<rect x="709.750" y="-30.00" width="2.645" height="60.00" fill="url(#geL)" transform="translate(0 241.73) scale(1 1.0000)"/>
<rect x="712.375" y="-30.00" width="2.645" height="60.00" fill="url(#geL)" transform="translate(0 243.66) scale(1 1.0000)"/>
<rect x="715.000" y="-30.00" width="2.645" height="60.00" fill="url(#geL)" transform="translate(0 245.58) scale(1 1.0000)"/>
<rect x="717.625" y="-30.00" width="2.645" height="60.00" fill="url(#geL)" transform="translate(0 247.51) scale(1 1.0000)"/>
<rect x="720.250" y="-30.00" width="2.645" height="60.00" fill="url(#geL)" transform="translate(0 249.44) scale(1 1.0000)"/>
<rect x="722.875" y="-30.00" width="2.645" height="60.00" fill="url(#geL)" transform="translate(0 251.37) scale(1 1.0000)"/>
<rect x="725.500" y="-30.00" width="2.645" height="60.00" fill="url(#geL)" transform="translate(0 253.29) scale(1 1.0000)"/>
<rect x="728.125" y="-30.00" width="2.645" height="60.00" fill="url(#geL)" transform="translate(0 255.22) scale(1 1.0000)"/>
<rect x="730.750" y="-30.00" width="2.645" height="60.00" fill="url(#geL)" transform="translate(0 257.15) scale(1 1.0000)"/>
<rect x="733.375" y="-30.00" width="2.645" height="60.00" fill="url(#geL)" transform="translate(0 259.08) scale(1 1.0000)"/>
<rect x="736.000" y="-30.00" width="2.645" height="60.00" fill="url(#geL)" transform="translate(0 261.00) scale(1 1.0000)"/>
<rect x="738.625" y="-30.00" width="2.645" height="60.00" fill="url(#geL)" transform="translate(0 262.93) scale(1 1.0000)"/>
<rect x="741.250" y="-30.00" width="2.645" height="60.00" fill="url(#geL)" transform="translate(0 264.86) scale(1 1.0000)"/>
<rect x="743.875" y="-30.00" width="2.645" height="60.00" fill="url(#geL)" transform="translate(0 266.79) scale(1 1.0000)"/>
<rect x="746.500" y="-30.00" width="2.645" height="60.00" fill="url(#geL)" transform="translate(0 268.71) scale(1 1.0000)"/>
<rect x="749.125" y="-30.00" width="2.645" height="60.00" fill="url(#geL)" transform="translate(0 270.64) scale(1 1.0000)"/>
<rect x="751.750" y="-30.00" width="2.645" height="60.00" fill="url(#geL)" transform="translate(0 272.57) scale(1 1.0000)"/>
<rect x="754.375" y="-30.00" width="2.645" height="60.00" fill="url(#geL)" transform="translate(0 274.50) scale(1 1.0000)"/>
<rect x="757.000" y="-30.00" width="2.645" height="60.00" fill="url(#geL)" transform="translate(0 276.42) scale(1 1.0000)"/>
<rect x="759.625" y="-30.00" width="2.645" height="60.00" fill="url(#geL)" transform="translate(0 278.35) scale(1 1.0000)"/>
<rect x="762.250" y="-30.00" width="2.645" height="60.00" fill="url(#geL)" transform="translate(0 280.28) scale(1 1.0000)"/>
<rect x="764.875" y="-30.00" width="2.645" height="60.00" fill="url(#geL)" transform="translate(0 282.21) scale(1 1.0000)"/>
<rect x="767.500" y="-30.00" width="2.645" height="60.00" fill="url(#geL)" transform="translate(0 284.13) scale(1 1.0000)"/>
<rect x="770.125" y="-30.00" width="2.645" height="60.00" fill="url(#geL)" transform="translate(0 286.06) scale(1 1.0000)"/>
<rect x="772.750" y="-30.00" width="2.645" height="60.00" fill="url(#geL)" transform="translate(0 287.99) scale(1 1.0000)"/>
<rect x="775.375" y="-30.00" width="2.645" height="60.00" fill="url(#geL)" transform="translate(0 289.92) scale(1 1.0000)"/>
<rect x="778.000" y="-30.00" width="2.645" height="60.00" fill="url(#geL)" transform="translate(0 291.84) scale(1 1.0000)"/>
<rect x="780.625" y="-30.00" width="2.645" height="60.00" fill="url(#geL)" transform="translate(0 293.77) scale(1 1.0000)"/>
<rect x="783.250" y="-30.00" width="2.645" height="60.00" fill="url(#geL)" transform="translate(0 295.70) scale(1 0.9962)"/>
<rect x="785.875" y="-30.00" width="2.645" height="60.00" fill="url(#geL)" transform="translate(0 297.63) scale(1 0.9922)"/>
<rect x="788.500" y="-30.00" width="2.645" height="60.00" fill="url(#geL)" transform="translate(0 299.55) scale(1 0.9883)"/>
<rect x="791.125" y="-30.00" width="2.645" height="60.00" fill="url(#geL)" transform="translate(0 301.48) scale(1 0.9843)"/>
<rect x="793.750" y="-30.00" width="2.645" height="60.00" fill="url(#geL)" transform="translate(0 303.41) scale(1 0.9804)"/>
<rect x="796.375" y="-30.00" width="2.645" height="60.00" fill="url(#geL)" transform="translate(0 305.34) scale(1 0.9765)"/>
<rect x="799.000" y="-30.00" width="2.645" height="60.00" fill="url(#geL)" transform="translate(0 307.26) scale(1 0.9725)"/>
<rect x="801.625" y="-30.00" width="2.645" height="60.00" fill="url(#geL)" transform="translate(0 309.19) scale(1 0.9686)"/>
<rect x="804.250" y="-30.00" width="2.645" height="60.00" fill="url(#geL)" transform="translate(0 311.12) scale(1 0.9647)"/>
<rect x="806.875" y="-30.00" width="2.645" height="60.00" fill="url(#geL)" transform="translate(0 313.05) scale(1 0.9607)"/>
<rect x="809.500" y="-30.00" width="2.645" height="60.00" fill="url(#geL)" transform="translate(0 314.97) scale(1 0.9568)"/>
<rect x="812.125" y="-30.00" width="2.645" height="60.00" fill="url(#geL)" transform="translate(0 316.90) scale(1 0.9528)"/>
<rect x="814.750" y="-30.00" width="2.645" height="60.00" fill="url(#geL)" transform="translate(0 318.83) scale(1 0.9489)"/>
<rect x="817.375" y="-30.00" width="2.645" height="60.00" fill="url(#geL)" transform="translate(0 320.76) scale(1 0.9450)"/>
<rect x="820.000" y="-30.00" width="2.645" height="60.00" fill="url(#geL)" transform="translate(0 322.68) scale(1 0.9410)"/>
<rect x="822.625" y="-30.00" width="2.645" height="60.00" fill="url(#geL)" transform="translate(0 324.61) scale(1 0.9371)"/>
<rect x="825.250" y="-30.00" width="2.645" height="60.00" fill="url(#geL)" transform="translate(0 326.54) scale(1 0.9332)"/>
<rect x="827.875" y="-30.00" width="2.645" height="60.00" fill="url(#geL)" transform="translate(0 328.47) scale(1 0.9292)"/>
<rect x="830.500" y="-30.00" width="2.645" height="60.00" fill="url(#geL)" transform="translate(0 330.39) scale(1 0.9253)"/>
<rect x="833.125" y="-30.00" width="2.645" height="60.00" fill="url(#geL)" transform="translate(0 332.32) scale(1 0.9213)"/>
<rect x="835.750" y="-30.00" width="2.645" height="60.00" fill="url(#geL)" transform="translate(0 334.25) scale(1 0.9174)"/>
<rect x="838.375" y="-30.00" width="2.645" height="60.00" fill="url(#geL)" transform="translate(0 336.18) scale(1 0.9135)"/>
<rect x="841.000" y="-30.00" width="2.645" height="60.00" fill="url(#geL)" transform="translate(0 338.10) scale(1 0.9095)"/>
<rect x="843.625" y="-30.00" width="2.645" height="60.00" fill="url(#geL)" transform="translate(0 340.03) scale(1 0.9056)"/>
<rect x="846.250" y="-30.00" width="2.645" height="60.00" fill="url(#geL)" transform="translate(0 341.96) scale(1 0.9017)"/>
<rect x="848.875" y="-30.00" width="2.645" height="60.00" fill="url(#geL)" transform="translate(0 343.89) scale(1 0.8977)"/>
<rect x="851.500" y="-30.00" width="2.645" height="60.00" fill="url(#geL)" transform="translate(0 345.81) scale(1 0.8938)"/>
<rect x="854.125" y="-30.00" width="2.645" height="60.00" fill="url(#geL)" transform="translate(0 347.74) scale(1 0.8898)"/>
<rect x="856.750" y="-30.00" width="2.645" height="60.00" fill="url(#geL)" transform="translate(0 349.67) scale(1 0.8859)"/>
<rect x="859.375" y="-30.00" width="2.645" height="58.80" fill="url(#geL)" transform="translate(0 351.60) scale(1 0.8820)"/>
<rect x="862.000" y="-30.00" width="2.645" height="58.80" fill="url(#geR)" transform="translate(0 351.60) scale(1 0.8820)"/>
<rect x="864.625" y="-30.00" width="2.645" height="60.00" fill="url(#geR)" transform="translate(0 349.67) scale(1 0.8859)"/>
<rect x="867.250" y="-30.00" width="2.645" height="60.00" fill="url(#geR)" transform="translate(0 347.74) scale(1 0.8898)"/>
<rect x="869.875" y="-30.00" width="2.645" height="60.00" fill="url(#geR)" transform="translate(0 345.81) scale(1 0.8938)"/>
<rect x="872.500" y="-30.00" width="2.645" height="60.00" fill="url(#geR)" transform="translate(0 343.89) scale(1 0.8977)"/>
<rect x="875.125" y="-30.00" width="2.645" height="60.00" fill="url(#geR)" transform="translate(0 341.96) scale(1 0.9017)"/>
<rect x="877.750" y="-30.00" width="2.645" height="60.00" fill="url(#geR)" transform="translate(0 340.03) scale(1 0.9056)"/>
<rect x="880.375" y="-30.00" width="2.645" height="60.00" fill="url(#geR)" transform="translate(0 338.10) scale(1 0.9095)"/>
<rect x="883.000" y="-30.00" width="2.645" height="60.00" fill="url(#geR)" transform="translate(0 336.18) scale(1 0.9135)"/>
<rect x="885.625" y="-30.00" width="2.645" height="60.00" fill="url(#geR)" transform="translate(0 334.25) scale(1 0.9174)"/>
<rect x="888.250" y="-30.00" width="2.645" height="60.00" fill="url(#geR)" transform="translate(0 332.32) scale(1 0.9213)"/>
<rect x="890.875" y="-30.00" width="2.645" height="60.00" fill="url(#geR)" transform="translate(0 330.39) scale(1 0.9253)"/>
<rect x="893.500" y="-30.00" width="2.645" height="60.00" fill="url(#geR)" transform="translate(0 328.47) scale(1 0.9292)"/>
<rect x="896.125" y="-30.00" width="2.645" height="60.00" fill="url(#geR)" transform="translate(0 326.54) scale(1 0.9332)"/>
<rect x="898.750" y="-30.00" width="2.645" height="60.00" fill="url(#geR)" transform="translate(0 324.61) scale(1 0.9371)"/>
<rect x="901.375" y="-30.00" width="2.645" height="60.00" fill="url(#geR)" transform="translate(0 322.68) scale(1 0.9410)"/>
<rect x="904.000" y="-30.00" width="2.645" height="60.00" fill="url(#geR)" transform="translate(0 320.76) scale(1 0.9450)"/>
<rect x="906.625" y="-30.00" width="2.645" height="60.00" fill="url(#geR)" transform="translate(0 318.83) scale(1 0.9489)"/>
<rect x="909.250" y="-30.00" width="2.645" height="60.00" fill="url(#geR)" transform="translate(0 316.90) scale(1 0.9528)"/>
<rect x="911.875" y="-30.00" width="2.645" height="60.00" fill="url(#geR)" transform="translate(0 314.97) scale(1 0.9568)"/>
<rect x="914.500" y="-30.00" width="2.645" height="60.00" fill="url(#geR)" transform="translate(0 313.05) scale(1 0.9607)"/>
<rect x="917.125" y="-30.00" width="2.645" height="60.00" fill="url(#geR)" transform="translate(0 311.12) scale(1 0.9647)"/>
<rect x="919.750" y="-30.00" width="2.645" height="60.00" fill="url(#geR)" transform="translate(0 309.19) scale(1 0.9686)"/>
<rect x="922.375" y="-30.00" width="2.645" height="60.00" fill="url(#geR)" transform="translate(0 307.26) scale(1 0.9725)"/>
<rect x="925.000" y="-30.00" width="2.645" height="60.00" fill="url(#geR)" transform="translate(0 305.34) scale(1 0.9765)"/>
<rect x="927.625" y="-30.00" width="2.645" height="60.00" fill="url(#geR)" transform="translate(0 303.41) scale(1 0.9804)"/>
<rect x="930.250" y="-30.00" width="2.645" height="60.00" fill="url(#geR)" transform="translate(0 301.48) scale(1 0.9843)"/>
<rect x="932.875" y="-30.00" width="2.645" height="60.00" fill="url(#geR)" transform="translate(0 299.55) scale(1 0.9883)"/>
<rect x="935.500" y="-30.00" width="2.645" height="60.00" fill="url(#geR)" transform="translate(0 297.63) scale(1 0.9922)"/>
<rect x="938.125" y="-30.00" width="2.645" height="60.00" fill="url(#geR)" transform="translate(0 295.70) scale(1 0.9962)"/>
<rect x="940.750" y="-30.00" width="2.645" height="60.00" fill="url(#geR)" transform="translate(0 293.77) scale(1 1.0000)"/>
<rect x="943.375" y="-30.00" width="2.645" height="60.00" fill="url(#geR)" transform="translate(0 291.84) scale(1 1.0000)"/>
<rect x="946.000" y="-30.00" width="2.645" height="60.00" fill="url(#geR)" transform="translate(0 289.92) scale(1 1.0000)"/>
<rect x="948.625" y="-30.00" width="2.645" height="60.00" fill="url(#geR)" transform="translate(0 287.99) scale(1 1.0000)"/>
<rect x="951.250" y="-30.00" width="2.645" height="60.00" fill="url(#geR)" transform="translate(0 286.06) scale(1 1.0000)"/>
<rect x="953.875" y="-30.00" width="2.645" height="60.00" fill="url(#geR)" transform="translate(0 284.13) scale(1 1.0000)"/>
<rect x="956.500" y="-30.00" width="2.645" height="60.00" fill="url(#geR)" transform="translate(0 282.21) scale(1 1.0000)"/>
<rect x="959.125" y="-30.00" width="2.645" height="60.00" fill="url(#geR)" transform="translate(0 280.28) scale(1 1.0000)"/>
<rect x="961.750" y="-30.00" width="2.645" height="60.00" fill="url(#geR)" transform="translate(0 278.35) scale(1 1.0000)"/>
<rect x="964.375" y="-30.00" width="2.645" height="60.00" fill="url(#geR)" transform="translate(0 276.42) scale(1 1.0000)"/>
<rect x="967.000" y="-30.00" width="2.645" height="60.00" fill="url(#geR)" transform="translate(0 274.50) scale(1 1.0000)"/>
<rect x="969.625" y="-30.00" width="2.645" height="60.00" fill="url(#geR)" transform="translate(0 272.57) scale(1 1.0000)"/>
<rect x="972.250" y="-30.00" width="2.645" height="60.00" fill="url(#geR)" transform="translate(0 270.64) scale(1 1.0000)"/>
<rect x="974.875" y="-30.00" width="2.645" height="60.00" fill="url(#geR)" transform="translate(0 268.71) scale(1 1.0000)"/>
<rect x="977.500" y="-30.00" width="2.645" height="60.00" fill="url(#geR)" transform="translate(0 266.79) scale(1 1.0000)"/>
<rect x="980.125" y="-30.00" width="2.645" height="60.00" fill="url(#geR)" transform="translate(0 264.86) scale(1 1.0000)"/>
<rect x="982.750" y="-30.00" width="2.645" height="60.00" fill="url(#geR)" transform="translate(0 262.93) scale(1 1.0000)"/>
<rect x="985.375" y="-30.00" width="2.645" height="60.00" fill="url(#geR)" transform="translate(0 261.00) scale(1 1.0000)"/>
<rect x="988.000" y="-30.00" width="2.645" height="60.00" fill="url(#geR)" transform="translate(0 259.08) scale(1 1.0000)"/>
<rect x="990.625" y="-30.00" width="2.645" height="60.00" fill="url(#geR)" transform="translate(0 257.15) scale(1 1.0000)"/>
<rect x="993.250" y="-30.00" width="2.645" height="60.00" fill="url(#geR)" transform="translate(0 255.22) scale(1 1.0000)"/>
<rect x="995.875" y="-30.00" width="2.645" height="60.00" fill="url(#geR)" transform="translate(0 253.29) scale(1 1.0000)"/>
<rect x="998.500" y="-30.00" width="2.645" height="60.00" fill="url(#geR)" transform="translate(0 251.37) scale(1 1.0000)"/>
<rect x="1001.125" y="-30.00" width="2.645" height="60.00" fill="url(#geR)" transform="translate(0 249.44) scale(1 1.0000)"/>
<rect x="1003.750" y="-30.00" width="2.645" height="60.00" fill="url(#geR)" transform="translate(0 247.51) scale(1 1.0000)"/>
<rect x="1006.375" y="-30.00" width="2.645" height="60.00" fill="url(#geR)" transform="translate(0 245.58) scale(1 1.0000)"/>
<rect x="1009.000" y="-30.00" width="2.645" height="60.00" fill="url(#geR)" transform="translate(0 243.66) scale(1 1.0000)"/>
<rect x="1011.625" y="-30.00" width="2.645" height="60.00" fill="url(#geR)" transform="translate(0 241.73) scale(1 1.0000)"/>
<rect x="1014.250" y="-30.00" width="2.645" height="60.00" fill="url(#geR)" transform="translate(0 239.80) scale(1 1.0000)"/>
<rect x="1016.875" y="-30.00" width="2.645" height="60.00" fill="url(#geR)" transform="translate(0 237.87) scale(1 1.0000)"/>
<rect x="1019.500" y="-30.00" width="2.645" height="60.00" fill="url(#geR)" transform="translate(0 235.95) scale(1 1.0000)"/>
<rect x="1022.125" y="-30.00" width="2.645" height="60.00" fill="url(#geR)" transform="translate(0 234.02) scale(1 1.0000)"/>
<rect x="1024.750" y="-30.00" width="2.645" height="60.00" fill="url(#geR)" transform="translate(0 232.09) scale(1 1.0000)"/>
<rect x="1027.375" y="-30.00" width="2.645" height="60.00" fill="url(#geR)" transform="translate(0 230.16) scale(1 1.0000)"/>
<rect x="1030.000" y="-30.00" width="2.645" height="60.00" fill="url(#geR)" transform="translate(0 228.24) scale(1 1.0000)"/>
<rect x="1032.625" y="-30.00" width="2.645" height="60.00" fill="url(#geR)" transform="translate(0 226.31) scale(1 1.0000)"/>
</g>
</g>
<rect x="694" y="68" width="337" height="1" fill="#000"/>
<rect x="694" y="377" width="337" height="1" fill="#000"/>
<rect x="694" y="68" width="1" height="310" fill="#000"/>
<rect x="1030" y="68" width="1" height="310" fill="#000"/>
<defs><linearGradient id="cb68" gradientUnits="userSpaceOnUse" x1="0" y1="377" x2="0" y2="68"><stop offset="0.00000" stop-color="#00008f"/><stop offset="0.01562" stop-color="#00008f"/><stop offset="0.01562" stop-color="#00009f"/><stop offset="0.03125" stop-color="#00009f"/><stop offset="0.03125" stop-color="#0000af"/><stop offset="0.04688" stop-color="#0000af"/><stop offset="0.04688" stop-color="#0000bf"/><stop offset="0.06250" stop-color="#0000bf"/><stop offset="0.06250" stop-color="#0000cf"/><stop offset="0.07812" stop-color="#0000cf"/><stop offset="0.07812" stop-color="#0000df"/><stop offset="0.09375" stop-color="#0000df"/><stop offset="0.09375" stop-color="#0000ef"/><stop offset="0.10938" stop-color="#0000ef"/><stop offset="0.10938" stop-color="#0000ff"/><stop offset="0.12500" stop-color="#0000ff"/><stop offset="0.12500" stop-color="#0010ff"/><stop offset="0.14062" stop-color="#0010ff"/><stop offset="0.14062" stop-color="#0020ff"/><stop offset="0.15625" stop-color="#0020ff"/><stop offset="0.15625" stop-color="#0030ff"/><stop offset="0.17188" stop-color="#0030ff"/><stop offset="0.17188" stop-color="#0040ff"/><stop offset="0.18750" stop-color="#0040ff"/><stop offset="0.18750" stop-color="#0050ff"/><stop offset="0.20312" stop-color="#0050ff"/><stop offset="0.20312" stop-color="#0060ff"/><stop offset="0.21875" stop-color="#0060ff"/><stop offset="0.21875" stop-color="#0070ff"/><stop offset="0.23438" stop-color="#0070ff"/><stop offset="0.23438" stop-color="#0080ff"/><stop offset="0.25000" stop-color="#0080ff"/><stop offset="0.25000" stop-color="#008fff"/><stop offset="0.26562" stop-color="#008fff"/><stop offset="0.26562" stop-color="#009fff"/><stop offset="0.28125" stop-color="#009fff"/><stop offset="0.28125" stop-color="#00afff"/><stop offset="0.29688" stop-color="#00afff"/><stop offset="0.29688" stop-color="#00bfff"/><stop offset="0.31250" stop-color="#00bfff"/><stop offset="0.31250" stop-color="#00cfff"/><stop offset="0.32812" stop-color="#00cfff"/><stop offset="0.32812" stop-color="#00dfff"/><stop offset="0.34375" stop-color="#00dfff"/><stop offset="0.34375" stop-color="#00efff"/><stop offset="0.35938" stop-color="#00efff"/><stop offset="0.35938" stop-color="#00ffff"/><stop offset="0.37500" stop-color="#00ffff"/><stop offset="0.37500" stop-color="#10ffef"/><stop offset="0.39062" stop-color="#10ffef"/><stop offset="0.39062" stop-color="#20ffdf"/><stop offset="0.40625" stop-color="#20ffdf"/><stop offset="0.40625" stop-color="#30ffcf"/><stop offset="0.42188" stop-color="#30ffcf"/><stop offset="0.42188" stop-color="#40ffbf"/><stop offset="0.43750" stop-color="#40ffbf"/><stop offset="0.43750" stop-color="#50ffaf"/><stop offset="0.45312" stop-color="#50ffaf"/><stop offset="0.45312" stop-color="#60ff9f"/><stop offset="0.46875" stop-color="#60ff9f"/><stop offset="0.46875" stop-color="#70ff8f"/><stop offset="0.48438" stop-color="#70ff8f"/><stop offset="0.48438" stop-color="#80ff80"/><stop offset="0.50000" stop-color="#80ff80"/><stop offset="0.50000" stop-color="#8fff70"/><stop offset="0.51562" stop-color="#8fff70"/><stop offset="0.51562" stop-color="#9fff60"/><stop offset="0.53125" stop-color="#9fff60"/><stop offset="0.53125" stop-color="#afff50"/><stop offset="0.54688" stop-color="#afff50"/><stop offset="0.54688" stop-color="#bfff40"/><stop offset="0.56250" stop-color="#bfff40"/><stop offset="0.56250" stop-color="#cfff30"/><stop offset="0.57812" stop-color="#cfff30"/><stop offset="0.57812" stop-color="#dfff20"/><stop offset="0.59375" stop-color="#dfff20"/><stop offset="0.59375" stop-color="#efff10"/><stop offset="0.60938" stop-color="#efff10"/><stop offset="0.60938" stop-color="#ffff00"/><stop offset="0.62500" stop-color="#ffff00"/><stop offset="0.62500" stop-color="#ffef00"/><stop offset="0.64062" stop-color="#ffef00"/><stop offset="0.64062" stop-color="#ffdf00"/><stop offset="0.65625" stop-color="#ffdf00"/><stop offset="0.65625" stop-color="#ffcf00"/><stop offset="0.67188" stop-color="#ffcf00"/><stop offset="0.67188" stop-color="#ffbf00"/><stop offset="0.68750" stop-color="#ffbf00"/><stop offset="0.68750" stop-color="#ffaf00"/><stop offset="0.70312" stop-color="#ffaf00"/><stop offset="0.70312" stop-color="#ff9f00"/><stop offset="0.71875" stop-color="#ff9f00"/><stop offset="0.71875" stop-color="#ff8f00"/><stop offset="0.73438" stop-color="#ff8f00"/><stop offset="0.73438" stop-color="#ff8000"/><stop offset="0.75000" stop-color="#ff8000"/><stop offset="0.75000" stop-color="#ff7000"/><stop offset="0.76562" stop-color="#ff7000"/><stop offset="0.76562" stop-color="#ff6000"/><stop offset="0.78125" stop-color="#ff6000"/><stop offset="0.78125" stop-color="#ff5000"/><stop offset="0.79688" stop-color="#ff5000"/><stop offset="0.79688" stop-color="#ff4000"/><stop offset="0.81250" stop-color="#ff4000"/><stop offset="0.81250" stop-color="#ff3000"/><stop offset="0.82812" stop-color="#ff3000"/><stop offset="0.82812" stop-color="#ff2000"/><stop offset="0.84375" stop-color="#ff2000"/><stop offset="0.84375" stop-color="#ff1000"/><stop offset="0.85938" stop-color="#ff1000"/><stop offset="0.85938" stop-color="#ff0000"/><stop offset="0.87500" stop-color="#ff0000"/><stop offset="0.87500" stop-color="#ef0000"/><stop offset="0.89062" stop-color="#ef0000"/><stop offset="0.89062" stop-color="#df0000"/><stop offset="0.90625" stop-color="#df0000"/><stop offset="0.90625" stop-color="#cf0000"/><stop offset="0.92188" stop-color="#cf0000"/><stop offset="0.92188" stop-color="#bf0000"/><stop offset="0.93750" stop-color="#bf0000"/><stop offset="0.93750" stop-color="#af0000"/><stop offset="0.95312" stop-color="#af0000"/><stop offset="0.95312" stop-color="#9f0000"/><stop offset="0.96875" stop-color="#9f0000"/><stop offset="0.96875" stop-color="#8f0000"/><stop offset="0.98438" stop-color="#8f0000"/><stop offset="0.98438" stop-color="#800000"/><stop offset="1.00000" stop-color="#800000"/></linearGradient></defs>
<rect x="1050" y="68" width="29" height="309" fill="url(#cb68)"/>
<rect x="1050" y="68" width="30" height="1" fill="#000"/>
<rect x="1050" y="377" width="30" height="1" fill="#000"/>
<rect x="1050" y="68" width="1" height="310" fill="#000"/>
<rect x="1079" y="68" width="1" height="310" fill="#000"/>
<rect x="1051" y="108" width="3" height="1" fill="#000"/>
<rect x="1076" y="108" width="3" height="1" fill="#000"/>
<text transform="translate(1084 117) scale(0.93 1)" font-size="23" text-anchor="start">0.2</text>
<rect x="1051" y="184" width="3" height="1" fill="#000"/>
<rect x="1076" y="184" width="3" height="1" fill="#000"/>
<text transform="translate(1084 193) scale(0.93 1)" font-size="23" text-anchor="start">0</text>
<rect x="1051" y="261" width="3" height="1" fill="#000"/>
<rect x="1076" y="261" width="3" height="1" fill="#000"/>
<text transform="translate(1084 270) scale(0.93 1)" font-size="23" text-anchor="start">-0.2</text>
<rect x="1051" y="337" width="3" height="1" fill="#000"/>
<rect x="1076" y="337" width="3" height="1" fill="#000"/>
<text transform="translate(1084 346) scale(0.93 1)" font-size="23" text-anchor="start">-0.4</text>
<defs>
<linearGradient id="ghL" gradientUnits="userSpaceOnUse" x1="0" y1="-30" x2="0" y2="30"><stop offset="0.0000" stop-color="#80ff80" stop-opacity="0"/><stop offset="0.0883" stop-color="#80ff80" stop-opacity="0"/><stop offset="0.0883" stop-color="#8fff70"/><stop offset="0.1800" stop-color="#8fff70"/><stop offset="0.1800" stop-color="#80ff80" stop-opacity="0"/><stop offset="0.1867" stop-color="#80ff80" stop-opacity="0"/><stop offset="0.1867" stop-color="#70ff8f"/><stop offset="0.1917" stop-color="#70ff8f"/><stop offset="0.1917" stop-color="#60ff9f"/><stop offset="0.1967" stop-color="#60ff9f"/><stop offset="0.1967" stop-color="#50ffaf"/><stop offset="0.2017" stop-color="#50ffaf"/><stop offset="0.2017" stop-color="#40ffbf"/><stop offset="0.2050" stop-color="#40ffbf"/><stop offset="0.2050" stop-color="#30ffcf"/><stop offset="0.2100" stop-color="#30ffcf"/><stop offset="0.2100" stop-color="#20ffdf"/><stop offset="0.2133" stop-color="#20ffdf"/><stop offset="0.2133" stop-color="#10ffef"/><stop offset="0.2167" stop-color="#10ffef"/><stop offset="0.2167" stop-color="#00ffff"/><stop offset="0.2217" stop-color="#00ffff"/><stop offset="0.2217" stop-color="#00efff"/><stop offset="0.2250" stop-color="#00efff"/><stop offset="0.2250" stop-color="#00dfff"/><stop offset="0.2300" stop-color="#00dfff"/><stop offset="0.2300" stop-color="#00cfff"/><stop offset="0.2350" stop-color="#00cfff"/><stop offset="0.2350" stop-color="#00bfff"/><stop offset="0.2400" stop-color="#00bfff"/><stop offset="0.2400" stop-color="#00afff"/><stop offset="0.2467" stop-color="#00afff"/><stop offset="0.2467" stop-color="#009fff"/><stop offset="0.2550" stop-color="#009fff"/><stop offset="0.2550" stop-color="#008fff"/><stop offset="0.2650" stop-color="#008fff"/><stop offset="0.2650" stop-color="#0080ff"/><stop offset="0.2900" stop-color="#0080ff"/><stop offset="0.2900" stop-color="#0070ff"/><stop offset="0.3517" stop-color="#0070ff"/><stop offset="0.3517" stop-color="#0080ff"/><stop offset="0.3717" stop-color="#0080ff"/><stop offset="0.3717" stop-color="#008fff"/><stop offset="0.3767" stop-color="#008fff"/><stop offset="0.3767" stop-color="#009fff"/><stop offset="0.3800" stop-color="#009fff"/><stop offset="0.3800" stop-color="#00afff"/><stop offset="0.3833" stop-color="#00afff"/><stop offset="0.3833" stop-color="#00bfff"/><stop offset="0.3867" stop-color="#00bfff"/><stop offset="0.3867" stop-color="#00cfff"/><stop offset="0.3883" stop-color="#00cfff"/><stop offset="0.3883" stop-color="#00dfff"/><stop offset="0.3900" stop-color="#00dfff"/><stop offset="0.3900" stop-color="#00efff"/><stop offset="0.3917" stop-color="#00efff"/><stop offset="0.3917" stop-color="#00ffff"/><stop offset="0.3933" stop-color="#00ffff"/><stop offset="0.3933" stop-color="#10ffef"/><stop offset="0.3950" stop-color="#10ffef"/><stop offset="0.3950" stop-color="#20ffdf"/><stop offset="0.3967" stop-color="#20ffdf"/><stop offset="0.3967" stop-color="#30ffcf"/><stop offset="0.3983" stop-color="#30ffcf"/><stop offset="0.3983" stop-color="#40ffbf"/><stop offset="0.4000" stop-color="#40ffbf"/><stop offset="0.4000" stop-color="#60ff9f"/><stop offset="0.4017" stop-color="#60ff9f"/><stop offset="0.4017" stop-color="#70ff8f"/><stop offset="0.4033" stop-color="#70ff8f"/><stop offset="0.4033" stop-color="#80ff80" stop-opacity="0"/><stop offset="0.4050" stop-color="#80ff80" stop-opacity="0"/><stop offset="0.4050" stop-color="#9fff60"/><stop offset="0.4067" stop-color="#9fff60"/><stop offset="0.4067" stop-color="#afff50"/><stop offset="0.4083" stop-color="#afff50"/><stop offset="0.4083" stop-color="#bfff40"/><stop offset="0.4100" stop-color="#bfff40"/><stop offset="0.4100" stop-color="#cfff30"/><stop offset="0.4117" stop-color="#cfff30"/><stop offset="0.4117" stop-color="#efff10"/><stop offset="0.4133" stop-color="#efff10"/><stop offset="0.4133" stop-color="#ffff00"/><stop offset="0.4150" stop-color="#ffff00"/><stop offset="0.4150" stop-color="#ffef00"/><stop offset="0.4167" stop-color="#ffef00"/><stop offset="0.4167" stop-color="#ffdf00"/><stop offset="0.4183" stop-color="#ffdf00"/><stop offset="0.4183" stop-color="#ffcf00"/><stop offset="0.4200" stop-color="#ffcf00"/><stop offset="0.4200" stop-color="#ffbf00"/><stop offset="0.4217" stop-color="#ffbf00"/><stop offset="0.4217" stop-color="#ffaf00"/><stop offset="0.4233" stop-color="#ffaf00"/><stop offset="0.4233" stop-color="#ff9f00"/><stop offset="0.4250" stop-color="#ff9f00"/><stop offset="0.4250" stop-color="#ff8f00"/><stop offset="0.4267" stop-color="#ff8f00"/><stop offset="0.4267" stop-color="#ff8000"/><stop offset="0.4283" stop-color="#ff8000"/><stop offset="0.4283" stop-color="#ff6000"/><stop offset="0.4300" stop-color="#ff6000"/><stop offset="0.4300" stop-color="#ff5000"/><stop offset="0.4317" stop-color="#ff5000"/><stop offset="0.4317" stop-color="#ff4000"/><stop offset="0.4350" stop-color="#ff4000"/><stop offset="0.4350" stop-color="#ff3000"/><stop offset="0.4367" stop-color="#ff3000"/><stop offset="0.4367" stop-color="#ff2000"/><stop offset="0.4400" stop-color="#ff2000"/><stop offset="0.4400" stop-color="#ff1000"/><stop offset="0.4433" stop-color="#ff1000"/><stop offset="0.4433" stop-color="#ff0000"/><stop offset="0.4483" stop-color="#ff0000"/><stop offset="0.4483" stop-color="#ef0000"/><stop offset="0.4533" stop-color="#ef0000"/><stop offset="0.4533" stop-color="#df0000"/><stop offset="0.4583" stop-color="#df0000"/><stop offset="0.4583" stop-color="#cf0000"/><stop offset="0.4667" stop-color="#cf0000"/><stop offset="0.4667" stop-color="#bf0000"/><stop offset="0.4800" stop-color="#bf0000"/><stop offset="0.4800" stop-color="#af0000"/><stop offset="0.5217" stop-color="#af0000"/><stop offset="0.5217" stop-color="#bf0000"/><stop offset="0.5350" stop-color="#bf0000"/><stop offset="0.5350" stop-color="#cf0000"/><stop offset="0.5433" stop-color="#cf0000"/><stop offset="0.5433" stop-color="#df0000"/><stop offset="0.5483" stop-color="#df0000"/><stop offset="0.5483" stop-color="#ef0000"/><stop offset="0.5533" stop-color="#ef0000"/><stop offset="0.5533" stop-color="#ff0000"/><stop offset="0.5583" stop-color="#ff0000"/><stop offset="0.5583" stop-color="#ff1000"/><stop offset="0.5617" stop-color="#ff1000"/><stop offset="0.5617" stop-color="#ff2000"/><stop offset="0.5650" stop-color="#ff2000"/><stop offset="0.5650" stop-color="#ff3000"/><stop offset="0.5667" stop-color="#ff3000"/><stop offset="0.5667" stop-color="#ff4000"/><stop offset="0.5700" stop-color="#ff4000"/><stop offset="0.5700" stop-color="#ff6000"/><stop offset="0.5717" stop-color="#ff6000"/><stop offset="0.5717" stop-color="#ff7000"/><stop offset="0.5733" stop-color="#ff7000"/><stop offset="0.5733" stop-color="#ff8000"/><stop offset="0.5750" stop-color="#ff8000"/><stop offset="0.5750" stop-color="#ff8f00"/><stop offset="0.5767" stop-color="#ff8f00"/><stop offset="0.5767" stop-color="#ff9f00"/><stop offset="0.5783" stop-color="#ff9f00"/><stop offset="0.5783" stop-color="#ffaf00"/><stop offset="0.5817" stop-color="#ffaf00"/><stop offset="0.5817" stop-color="#ffbf00"/><stop offset="0.5833" stop-color="#ffbf00"/><stop offset="0.5833" stop-color="#ffcf00"/><stop offset="0.5850" stop-color="#ffcf00"/><stop offset="0.5850" stop-color="#ffdf00"/><stop offset="0.5867" stop-color="#ffdf00"/><stop offset="0.5867" stop-color="#ffef00"/><stop offset="0.5883" stop-color="#ffef00"/><stop offset="0.5883" stop-color="#ffff00"/><stop offset="0.5900" stop-color="#ffff00"/><stop offset="0.5900" stop-color="#efff10"/><stop offset="0.5917" stop-color="#efff10"/><stop offset="0.5917" stop-color="#dfff20"/><stop offset="0.5933" stop-color="#dfff20"/><stop offset="0.5933" stop-color="#cfff30"/><stop offset="0.5950" stop-color="#cfff30"/><stop offset="0.5950" stop-color="#bfff40"/><stop offset="0.5967" stop-color="#bfff40"/><stop offset="0.5967" stop-color="#afff50"/><stop offset="0.5983" stop-color="#afff50"/><stop offset="0.5983" stop-color="#9fff60"/><stop offset="0.6000" stop-color="#9fff60"/><stop offset="0.6000" stop-color="#80ff80" stop-opacity="0"/><stop offset="0.6017" stop-color="#80ff80" stop-opacity="0"/><stop offset="0.6017" stop-color="#70ff8f"/><stop offset="0.6033" stop-color="#70ff8f"/><stop offset="0.6033" stop-color="#60ff9f"/><stop offset="0.6050" stop-color="#60ff9f"/><stop offset="0.6050" stop-color="#40ffbf"/><stop offset="0.6067" stop-color="#40ffbf"/><stop offset="0.6067" stop-color="#30ffcf"/><stop offset="0.6083" stop-color="#30ffcf"/><stop offset="0.6083" stop-color="#20ffdf"/><stop offset="0.6117" stop-color="#20ffdf"/><stop offset="0.6117" stop-color="#10ffef"/><stop offset="0.6133" stop-color="#10ffef"/><stop offset="0.6133" stop-color="#00ffff"/><stop offset="0.6150" stop-color="#00ffff"/><stop offset="0.6150" stop-color="#00efff"/><stop offset="0.6183" stop-color="#00efff"/><stop offset="0.6183" stop-color="#00dfff"/><stop offset="0.6217" stop-color="#00dfff"/><stop offset="0.6217" stop-color="#00cfff"/><stop offset="0.6250" stop-color="#00cfff"/><stop offset="0.6250" stop-color="#00bfff"/><stop offset="0.6300" stop-color="#00bfff"/><stop offset="0.6300" stop-color="#00afff"/><stop offset="0.6350" stop-color="#00afff"/><stop offset="0.6350" stop-color="#009fff"/><stop offset="0.6433" stop-color="#009fff"/><stop offset="0.6433" stop-color="#008fff"/><stop offset="0.6533" stop-color="#008fff"/><stop offset="0.6533" stop-color="#0080ff"/><stop offset="0.6733" stop-color="#0080ff"/><stop offset="0.6733" stop-color="#0070ff"/><stop offset="0.7167" stop-color="#0070ff"/><stop offset="0.7167" stop-color="#0080ff"/><stop offset="0.7317" stop-color="#0080ff"/><stop offset="0.7317" stop-color="#008fff"/><stop offset="0.7400" stop-color="#008fff"/><stop offset="0.7400" stop-color="#009fff"/><stop offset="0.7467" stop-color="#009fff"/><stop offset="0.7467" stop-color="#00afff"/><stop offset="0.7533" stop-color="#00afff"/><stop offset="0.7533" stop-color="#00bfff"/><stop offset="0.7600" stop-color="#00bfff"/><stop offset="0.7600" stop-color="#00cfff"/><stop offset="0.7667" stop-color="#00cfff"/><stop offset="0.7667" stop-color="#00dfff"/><stop offset="0.7733" stop-color="#00dfff"/><stop offset="0.7733" stop-color="#00efff"/><stop offset="0.7800" stop-color="#00efff"/><stop offset="0.7800" stop-color="#00ffff"/><stop offset="0.7867" stop-color="#00ffff"/><stop offset="0.7867" stop-color="#10ffef"/><stop offset="0.7933" stop-color="#10ffef"/><stop offset="0.7933" stop-color="#20ffdf"/><stop offset="0.8000" stop-color="#20ffdf"/><stop offset="0.8000" stop-color="#30ffcf"/><stop offset="0.8067" stop-color="#30ffcf"/><stop offset="0.8067" stop-color="#40ffbf"/><stop offset="0.8117" stop-color="#40ffbf"/><stop offset="0.8117" stop-color="#50ffaf"/><stop offset="0.8183" stop-color="#50ffaf"/><stop offset="0.8183" stop-color="#60ff9f"/><stop offset="0.8250" stop-color="#60ff9f"/><stop offset="0.8250" stop-color="#70ff8f"/><stop offset="0.8367" stop-color="#70ff8f"/><stop offset="0.8367" stop-color="#80ff80" stop-opacity="0"/><stop offset="1.0000" stop-color="#80ff80" stop-opacity="0"/></linearGradient>
<linearGradient id="ghR" gradientUnits="userSpaceOnUse" x1="0" y1="-30" x2="0" y2="30"><stop offset="0.0000" stop-color="#80ff80" stop-opacity="0"/><stop offset="0.1867" stop-color="#80ff80" stop-opacity="0"/><stop offset="0.1867" stop-color="#8fff70"/><stop offset="0.2017" stop-color="#8fff70"/><stop offset="0.2017" stop-color="#9fff60"/><stop offset="0.2117" stop-color="#9fff60"/><stop offset="0.2117" stop-color="#afff50"/><stop offset="0.2183" stop-color="#afff50"/><stop offset="0.2183" stop-color="#bfff40"/><stop offset="0.2233" stop-color="#bfff40"/><stop offset="0.2233" stop-color="#cfff30"/><stop offset="0.2283" stop-color="#cfff30"/><stop offset="0.2283" stop-color="#dfff20"/><stop offset="0.2333" stop-color="#dfff20"/><stop offset="0.2333" stop-color="#efff10"/><stop offset="0.2383" stop-color="#efff10"/><stop offset="0.2383" stop-color="#ffff00"/><stop offset="0.2433" stop-color="#ffff00"/><stop offset="0.2433" stop-color="#ffef00"/><stop offset="0.2483" stop-color="#ffef00"/><stop offset="0.2483" stop-color="#ffdf00"/><stop offset="0.2533" stop-color="#ffdf00"/><stop offset="0.2533" stop-color="#ffcf00"/><stop offset="0.2583" stop-color="#ffcf00"/><stop offset="0.2583" stop-color="#ffbf00"/><stop offset="0.2633" stop-color="#ffbf00"/><stop offset="0.2633" stop-color="#ffaf00"/><stop offset="0.2683" stop-color="#ffaf00"/><stop offset="0.2683" stop-color="#ff9f00"/><stop offset="0.2750" stop-color="#ff9f00"/><stop offset="0.2750" stop-color="#ff8f00"/><stop offset="0.2833" stop-color="#ff8f00"/><stop offset="0.2833" stop-color="#ff8000"/><stop offset="0.2983" stop-color="#ff8000"/><stop offset="0.2983" stop-color="#ff7000"/><stop offset="0.3200" stop-color="#ff7000"/><stop offset="0.3200" stop-color="#ff6000"/><stop offset="0.3467" stop-color="#ff6000"/><stop offset="0.3467" stop-color="#ff7000"/><stop offset="0.3633" stop-color="#ff7000"/><stop offset="0.3633" stop-color="#ff8000"/><stop offset="0.3717" stop-color="#ff8000"/><stop offset="0.3717" stop-color="#ff8f00"/><stop offset="0.3750" stop-color="#ff8f00"/><stop offset="0.3750" stop-color="#ff9f00"/><stop offset="0.3783" stop-color="#ff9f00"/><stop offset="0.3783" stop-color="#ffaf00"/><stop offset="0.3800" stop-color="#ffaf00"/><stop offset="0.3800" stop-color="#ffbf00"/><stop offset="0.3833" stop-color="#ffbf00"/><stop offset="0.3833" stop-color="#ffcf00"/><stop offset="0.3850" stop-color="#ffcf00"/><stop offset="0.3850" stop-color="#ffdf00"/><stop offset="0.3883" stop-color="#ffdf00"/><stop offset="0.3883" stop-color="#ffef00"/><stop offset="0.3900" stop-color="#ffef00"/><stop offset="0.3900" stop-color="#ffff00"/><stop offset="0.3917" stop-color="#ffff00"/><stop offset="0.3917" stop-color="#efff10"/><stop offset="0.3933" stop-color="#efff10"/><stop offset="0.3933" stop-color="#dfff20"/><stop offset="0.3950" stop-color="#dfff20"/><stop offset="0.3950" stop-color="#cfff30"/><stop offset="0.3967" stop-color="#cfff30"/><stop offset="0.3967" stop-color="#bfff40"/><stop offset="0.3983" stop-color="#bfff40"/><stop offset="0.3983" stop-color="#afff50"/><stop offset="0.4000" stop-color="#afff50"/><stop offset="0.4000" stop-color="#9fff60"/><stop offset="0.4017" stop-color="#9fff60"/><stop offset="0.4017" stop-color="#8fff70"/><stop offset="0.4033" stop-color="#8fff70"/><stop offset="0.4033" stop-color="#70ff8f"/><stop offset="0.4050" stop-color="#70ff8f"/><stop offset="0.4050" stop-color="#60ff9f"/><stop offset="0.4067" stop-color="#60ff9f"/><stop offset="0.4067" stop-color="#50ffaf"/><stop offset="0.4083" stop-color="#50ffaf"/><stop offset="0.4083" stop-color="#30ffcf"/><stop offset="0.4100" stop-color="#30ffcf"/><stop offset="0.4100" stop-color="#20ffdf"/><stop offset="0.4117" stop-color="#20ffdf"/><stop offset="0.4117" stop-color="#10ffef"/><stop offset="0.4133" stop-color="#10ffef"/><stop offset="0.4133" stop-color="#00ffff"/><stop offset="0.4150" stop-color="#00ffff"/><stop offset="0.4150" stop-color="#00dfff"/><stop offset="0.4167" stop-color="#00dfff"/><stop offset="0.4167" stop-color="#00cfff"/><stop offset="0.4183" stop-color="#00cfff"/><stop offset="0.4183" stop-color="#00afff"/><stop offset="0.4200" stop-color="#00afff"/><stop offset="0.4200" stop-color="#009fff"/><stop offset="0.4217" stop-color="#009fff"/><stop offset="0.4217" stop-color="#008fff"/><stop offset="0.4233" stop-color="#008fff"/><stop offset="0.4233" stop-color="#0070ff"/><stop offset="0.4250" stop-color="#0070ff"/><stop offset="0.4250" stop-color="#0060ff"/><stop offset="0.4267" stop-color="#0060ff"/><stop offset="0.4267" stop-color="#0050ff"/><stop offset="0.4300" stop-color="#0050ff"/><stop offset="0.4300" stop-color="#0040ff"/><stop offset="0.4333" stop-color="#0040ff"/><stop offset="0.4333" stop-color="#0030ff"/><stop offset="0.4350" stop-color="#0030ff"/><stop offset="0.4350" stop-color="#0020ff"/><stop offset="0.4400" stop-color="#0020ff"/><stop offset="0.4400" stop-color="#0010ff"/><stop offset="0.4433" stop-color="#0010ff"/><stop offset="0.4433" stop-color="#0000ff"/><stop offset="0.4483" stop-color="#0000ff"/><stop offset="0.4483" stop-color="#0000ef"/><stop offset="0.4550" stop-color="#0000ef"/><stop offset="0.4550" stop-color="#0000df"/><stop offset="0.4633" stop-color="#0000df"/><stop offset="0.4633" stop-color="#0000cf"/><stop offset="0.4717" stop-color="#0000cf"/><stop offset="0.4717" stop-color="#0000bf"/><stop offset="0.4833" stop-color="#0000bf"/><stop offset="0.4833" stop-color="#0000af"/><stop offset="0.5200" stop-color="#0000af"/><stop offset="0.5200" stop-color="#0000bf"/><stop offset="0.5317" stop-color="#0000bf"/><stop offset="0.5317" stop-color="#0000cf"/><stop offset="0.5400" stop-color="#0000cf"/><stop offset="0.5400" stop-color="#0000df"/><stop offset="0.5467" stop-color="#0000df"/><stop offset="0.5467" stop-color="#0000ef"/><stop offset="0.5517" stop-color="#0000ef"/><stop offset="0.5517" stop-color="#0000ff"/><stop offset="0.5567" stop-color="#0000ff"/><stop offset="0.5567" stop-color="#0010ff"/><stop offset="0.5583" stop-color="#0010ff"/><stop offset="0.5583" stop-color="#0020ff"/><stop offset="0.5617" stop-color="#0020ff"/><stop offset="0.5617" stop-color="#0030ff"/><stop offset="0.5633" stop-color="#0030ff"/><stop offset="0.5633" stop-color="#0040ff"/><stop offset="0.5650" stop-color="#0040ff"/><stop offset="0.5650" stop-color="#0050ff"/><stop offset="0.5683" stop-color="#0050ff"/><stop offset="0.5683" stop-color="#0060ff"/><stop offset="0.5700" stop-color="#0060ff"/><stop offset="0.5700" stop-color="#0070ff"/><stop offset="0.5717" stop-color="#0070ff"/><stop offset="0.5717" stop-color="#0080ff"/><stop offset="0.5733" stop-color="#0080ff"/><stop offset="0.5733" stop-color="#008fff"/><stop offset="0.5750" stop-color="#008fff"/><stop offset="0.5750" stop-color="#009fff"/><stop offset="0.5767" stop-color="#009fff"/><stop offset="0.5767" stop-color="#00afff"/><stop offset="0.5783" stop-color="#00afff"/><stop offset="0.5783" stop-color="#00bfff"/><stop offset="0.5800" stop-color="#00bfff"/><stop offset="0.5800" stop-color="#00cfff"/><stop offset="0.5817" stop-color="#00cfff"/><stop offset="0.5817" stop-color="#00dfff"/><stop offset="0.5833" stop-color="#00dfff"/><stop offset="0.5833" stop-color="#00ffff"/><stop offset="0.5850" stop-color="#00ffff"/><stop offset="0.5850" stop-color="#10ffef"/><stop offset="0.5867" stop-color="#10ffef"/><stop offset="0.5867" stop-color="#20ffdf"/><stop offset="0.5883" stop-color="#20ffdf"/><stop offset="0.5883" stop-color="#30ffcf"/><stop offset="0.5900" stop-color="#30ffcf"/><stop offset="0.5900" stop-color="#50ffaf"/><stop offset="0.5917" stop-color="#50ffaf"/><stop offset="0.5917" stop-color="#60ff9f"/><stop offset="0.5933" stop-color="#60ff9f"/><stop offset="0.5933" stop-color="#70ff8f"/><stop offset="0.5950" stop-color="#70ff8f"/><stop offset="0.5950" stop-color="#8fff70"/><stop offset="0.5967" stop-color="#8fff70"/><stop offset="0.5967" stop-color="#9fff60"/><stop offset="0.5983" stop-color="#9fff60"/><stop offset="0.5983" stop-color="#afff50"/><stop offset="0.6000" stop-color="#afff50"/><stop offset="0.6000" stop-color="#bfff40"/><stop offset="0.6017" stop-color="#bfff40"/><stop offset="0.6017" stop-color="#cfff30"/><stop offset="0.6033" stop-color="#cfff30"/><stop offset="0.6033" stop-color="#dfff20"/><stop offset="0.6050" stop-color="#dfff20"/><stop offset="0.6050" stop-color="#efff10"/><stop offset="0.6067" stop-color="#efff10"/><stop offset="0.6067" stop-color="#ffff00"/><stop offset="0.6083" stop-color="#ffff00"/><stop offset="0.6083" stop-color="#ffef00"/><stop offset="0.6100" stop-color="#ffef00"/><stop offset="0.6100" stop-color="#ffdf00"/><stop offset="0.6133" stop-color="#ffdf00"/><stop offset="0.6133" stop-color="#ffcf00"/><stop offset="0.6150" stop-color="#ffcf00"/><stop offset="0.6150" stop-color="#ffbf00"/><stop offset="0.6183" stop-color="#ffbf00"/><stop offset="0.6183" stop-color="#ffaf00"/><stop offset="0.6217" stop-color="#ffaf00"/><stop offset="0.6217" stop-color="#ff9f00"/><stop offset="0.6250" stop-color="#ff9f00"/><stop offset="0.6250" stop-color="#ff8f00"/><stop offset="0.6283" stop-color="#ff8f00"/><stop offset="0.6283" stop-color="#ff8000"/><stop offset="0.6400" stop-color="#ff8000"/><stop offset="0.6400" stop-color="#ff7000"/><stop offset="0.6650" stop-color="#ff7000"/><stop offset="0.6650" stop-color="#ff6000"/><stop offset="0.6967" stop-color="#ff6000"/><stop offset="0.6967" stop-color="#ff7000"/><stop offset="0.7133" stop-color="#ff7000"/><stop offset="0.7133" stop-color="#ff8000"/><stop offset="0.7267" stop-color="#ff8000"/><stop offset="0.7267" stop-color="#ff8f00"/><stop offset="0.7333" stop-color="#ff8f00"/><stop offset="0.7333" stop-color="#ff9f00"/><stop offset="0.7383" stop-color="#ff9f00"/><stop offset="0.7383" stop-color="#ffaf00"/><stop offset="0.7433" stop-color="#ffaf00"/><stop offset="0.7433" stop-color="#ffbf00"/><stop offset="0.7483" stop-color="#ffbf00"/><stop offset="0.7483" stop-color="#ffcf00"/><stop offset="0.7550" stop-color="#ffcf00"/><stop offset="0.7550" stop-color="#ffdf00"/><stop offset="0.7600" stop-color="#ffdf00"/><stop offset="0.7600" stop-color="#ffef00"/><stop offset="0.7650" stop-color="#ffef00"/><stop offset="0.7650" stop-color="#ffff00"/><stop offset="0.7717" stop-color="#ffff00"/><stop offset="0.7717" stop-color="#efff10"/><stop offset="0.7767" stop-color="#efff10"/><stop offset="0.7767" stop-color="#dfff20"/><stop offset="0.7817" stop-color="#dfff20"/><stop offset="0.7817" stop-color="#cfff30"/><stop offset="0.7867" stop-color="#cfff30"/><stop offset="0.7867" stop-color="#bfff40"/><stop offset="0.7933" stop-color="#bfff40"/><stop offset="0.7933" stop-color="#afff50"/><stop offset="0.7983" stop-color="#afff50"/><stop offset="0.7983" stop-color="#9fff60"/><stop offset="0.8083" stop-color="#9fff60"/><stop offset="0.8083" stop-color="#8fff70"/><stop offset="0.8233" stop-color="#8fff70"/><stop offset="0.8233" stop-color="#80ff80" stop-opacity="0"/><stop offset="1.0000" stop-color="#80ff80" stop-opacity="0"/></linearGradient>
<linearGradient id="ghr0" gradientUnits="userSpaceOnUse" x1="675.644" y1="608.060" x2="712.356" y2="663.940"><stop offset="0.0000" stop-color="#70ffa0" stop-opacity="0.000"/><stop offset="0.0063" stop-color="#70ffa0" stop-opacity="0.000"/><stop offset="0.0125" stop-color="#70ffa0" stop-opacity="0.000"/><stop offset="0.0187" stop-color="#70ffa0" stop-opacity="0.000"/><stop offset="0.0250" stop-color="#70ffa0" stop-opacity="0.000"/><stop offset="0.0312" stop-color="#70ffa0" stop-opacity="0.000"/><stop offset="0.0375" stop-color="#70ffa0" stop-opacity="0.000"/><stop offset="0.0437" stop-color="#70ffa0" stop-opacity="0.000"/><stop offset="0.0500" stop-color="#70ffa0" stop-opacity="0"/><stop offset="0.0500" stop-color="#a0ff60" stop-opacity="0"/><stop offset="0.0500" stop-color="#a0ff60" stop-opacity="0.000"/><stop offset="0.0563" stop-color="#a0ff60" stop-opacity="0.000"/><stop offset="0.0625" stop-color="#a0ff60" stop-opacity="0.001"/><stop offset="0.0688" stop-color="#a0ff60" stop-opacity="0.001"/><stop offset="0.0750" stop-color="#a0ff60" stop-opacity="0.001"/><stop offset="0.0813" stop-color="#a0ff60" stop-opacity="0.002"/><stop offset="0.0875" stop-color="#a0ff60" stop-opacity="0.002"/><stop offset="0.0938" stop-color="#a0ff60" stop-opacity="0.002"/><stop offset="0.1000" stop-color="#a0ff60" stop-opacity="0.003"/><stop offset="0.1062" stop-color="#a0ff60" stop-opacity="0.002"/><stop offset="0.1125" stop-color="#a0ff60" stop-opacity="0.002"/><stop offset="0.1187" stop-color="#a0ff60" stop-opacity="0.001"/><stop offset="0.1250" stop-color="#a0ff60" stop-opacity="0"/><stop offset="0.1250" stop-color="#70ffa0" stop-opacity="0"/><stop offset="0.1250" stop-color="#70ffa0" stop-opacity="0.000"/><stop offset="0.1313" stop-color="#70ffa0" stop-opacity="0.002"/><stop offset="0.1375" stop-color="#70ffa0" stop-opacity="0.004"/><stop offset="0.1437" stop-color="#70ffa0" stop-opacity="0.006"/><stop offset="0.1500" stop-color="#70ffa0" stop-opacity="0.009"/><stop offset="0.1562" stop-color="#70ffa0" stop-opacity="0.011"/><stop offset="0.1625" stop-color="#70ffa0" stop-opacity="0.013"/><stop offset="0.1688" stop-color="#70ffa0" stop-opacity="0.015"/><stop offset="0.1750" stop-color="#70ffa0" stop-opacity="0.015"/><stop offset="0.1812" stop-color="#70ffa0" stop-opacity="0.014"/><stop offset="0.1875" stop-color="#70ffa0" stop-opacity="0.011"/><stop offset="0.1938" stop-color="#70ffa0" stop-opacity="0.007"/><stop offset="0.2000" stop-color="#70ffa0" stop-opacity="0"/><stop offset="0.2000" stop-color="#a0ff60" stop-opacity="0"/><stop offset="0.2000" stop-color="#a0ff60" stop-opacity="0.000"/><stop offset="0.2062" stop-color="#a0ff60" stop-opacity="0.009"/><stop offset="0.2125" stop-color="#a0ff60" stop-opacity="0.019"/><stop offset="0.2188" stop-color="#a0ff60" stop-opacity="0.029"/><stop offset="0.2250" stop-color="#a0ff60" stop-opacity="0.040"/><stop offset="0.2313" stop-color="#a0ff60" stop-opacity="0.050"/><stop offset="0.2375" stop-color="#a0ff60" stop-opacity="0.058"/><stop offset="0.2437" stop-color="#a0ff60" stop-opacity="0.062"/><stop offset="0.2500" stop-color="#a0ff60" stop-opacity="0.062"/><stop offset="0.2562" stop-color="#a0ff60" stop-opacity="0.056"/><stop offset="0.2625" stop-color="#a0ff60" stop-opacity="0.044"/><stop offset="0.2687" stop-color="#a0ff60" stop-opacity="0.025"/><stop offset="0.2750" stop-color="#a0ff60" stop-opacity="0"/><stop offset="0.2750" stop-color="#70ffa0" stop-opacity="0"/><stop offset="0.2750" stop-color="#70ffa0" stop-opacity="0.000"/><stop offset="0.2812" stop-color="#70ffa0" stop-opacity="0.030"/><stop offset="0.2875" stop-color="#70ffa0" stop-opacity="0.063"/><stop offset="0.2938" stop-color="#70ffa0" stop-opacity="0.097"/><stop offset="0.3000" stop-color="#70ffa0" stop-opacity="0.129"/><stop offset="0.3063" stop-color="#70ffa0" stop-opacity="0.156"/><stop offset="0.3125" stop-color="#70ffa0" stop-opacity="0.175"/><stop offset="0.3187" stop-color="#70ffa0" stop-opacity="0.182"/><stop offset="0.3250" stop-color="#70ffa0" stop-opacity="0.175"/><stop offset="0.3312" stop-color="#70ffa0" stop-opacity="0.153"/><stop offset="0.3375" stop-color="#70ffa0" stop-opacity="0.116"/><stop offset="0.3438" stop-color="#70ffa0" stop-opacity="0.064"/><stop offset="0.3500" stop-color="#70ffa0" stop-opacity="0"/><stop offset="0.3500" stop-color="#a0ff60" stop-opacity="0"/><stop offset="0.3500" stop-color="#a0ff60" stop-opacity="0.000"/><stop offset="0.3563" stop-color="#a0ff60" stop-opacity="0.072"/><stop offset="0.3625" stop-color="#a0ff60" stop-opacity="0.148"/><stop offset="0.3688" stop-color="#a0ff60" stop-opacity="0.222"/><stop offset="0.3750" stop-color="#a0ff60" stop-opacity="0.286"/><stop offset="0.3812" stop-color="#a0ff60" stop-opacity="0.335"/><stop offset="0.3875" stop-color="#a0ff60" stop-opacity="0.364"/><stop offset="0.3937" stop-color="#a0ff60" stop-opacity="0.367"/><stop offset="0.4000" stop-color="#a0ff60" stop-opacity="0.344"/><stop offset="0.4062" stop-color="#a0ff60" stop-opacity="0.292"/><stop offset="0.4125" stop-color="#a0ff60" stop-opacity="0.214"/><stop offset="0.4188" stop-color="#a0ff60" stop-opacity="0.115"/><stop offset="0.4250" stop-color="#a0ff60" stop-opacity="0"/><stop offset="0.4250" stop-color="#70ffa0" stop-opacity="0"/><stop offset="0.4250" stop-color="#70ffa0" stop-opacity="0.000"/><stop offset="0.4313" stop-color="#70ffa0" stop-opacity="0.122"/><stop offset="0.4375" stop-color="#70ffa0" stop-opacity="0.242"/><stop offset="0.4437" stop-color="#70ffa0" stop-opacity="0.351"/><stop offset="0.4500" stop-color="#70ffa0" stop-opacity="0.439"/><stop offset="0.4562" stop-color="#70ffa0" stop-opacity="0.499"/><stop offset="0.4625" stop-color="#70ffa0" stop-opacity="0.525"/><stop offset="0.4688" stop-color="#70ffa0" stop-opacity="0.515"/><stop offset="0.4750" stop-color="#70ffa0" stop-opacity="0.467"/><stop offset="0.4813" stop-color="#70ffa0" stop-opacity="0.384"/><stop offset="0.4875" stop-color="#70ffa0" stop-opacity="0.274"/><stop offset="0.4938" stop-color="#70ffa0" stop-opacity="0.142"/><stop offset="0.5000" stop-color="#a0ff60" stop-opacity="0.000"/><stop offset="0.5062" stop-color="#70ffa0" stop-opacity="0"/><stop offset="0.5062" stop-color="#a0ff60" stop-opacity="0"/><stop offset="0.5062" stop-color="#a0ff60" stop-opacity="0.142"/><stop offset="0.5125" stop-color="#a0ff60" stop-opacity="0.274"/><stop offset="0.5188" stop-color="#a0ff60" stop-opacity="0.384"/><stop offset="0.5250" stop-color="#a0ff60" stop-opacity="0.467"/><stop offset="0.5312" stop-color="#a0ff60" stop-opacity="0.515"/><stop offset="0.5375" stop-color="#a0ff60" stop-opacity="0.525"/><stop offset="0.5437" stop-color="#a0ff60" stop-opacity="0.499"/><stop offset="0.5500" stop-color="#a0ff60" stop-opacity="0.439"/><stop offset="0.5563" stop-color="#a0ff60" stop-opacity="0.351"/><stop offset="0.5625" stop-color="#a0ff60" stop-opacity="0.242"/><stop offset="0.5687" stop-color="#a0ff60" stop-opacity="0.122"/><stop offset="0.5750" stop-color="#a0ff60" stop-opacity="0.000"/><stop offset="0.5813" stop-color="#a0ff60" stop-opacity="0"/><stop offset="0.5813" stop-color="#70ffa0" stop-opacity="0"/><stop offset="0.5813" stop-color="#70ffa0" stop-opacity="0.115"/><stop offset="0.5875" stop-color="#70ffa0" stop-opacity="0.214"/><stop offset="0.5938" stop-color="#70ffa0" stop-opacity="0.292"/><stop offset="0.6000" stop-color="#70ffa0" stop-opacity="0.344"/><stop offset="0.6062" stop-color="#70ffa0" stop-opacity="0.367"/><stop offset="0.6125" stop-color="#70ffa0" stop-opacity="0.364"/><stop offset="0.6188" stop-color="#70ffa0" stop-opacity="0.335"/><stop offset="0.6250" stop-color="#70ffa0" stop-opacity="0.286"/><stop offset="0.6312" stop-color="#70ffa0" stop-opacity="0.222"/><stop offset="0.6375" stop-color="#70ffa0" stop-opacity="0.148"/><stop offset="0.6438" stop-color="#70ffa0" stop-opacity="0.072"/><stop offset="0.6500" stop-color="#70ffa0" stop-opacity="0.000"/><stop offset="0.6562" stop-color="#70ffa0" stop-opacity="0"/><stop offset="0.6562" stop-color="#a0ff60" stop-opacity="0"/><stop offset="0.6562" stop-color="#a0ff60" stop-opacity="0.064"/><stop offset="0.6625" stop-color="#a0ff60" stop-opacity="0.116"/><stop offset="0.6687" stop-color="#a0ff60" stop-opacity="0.153"/><stop offset="0.6750" stop-color="#a0ff60" stop-opacity="0.175"/><stop offset="0.6813" stop-color="#a0ff60" stop-opacity="0.182"/><stop offset="0.6875" stop-color="#a0ff60" stop-opacity="0.175"/><stop offset="0.6937" stop-color="#a0ff60" stop-opacity="0.156"/><stop offset="0.7000" stop-color="#a0ff60" stop-opacity="0.129"/><stop offset="0.7063" stop-color="#a0ff60" stop-opacity="0.097"/><stop offset="0.7125" stop-color="#a0ff60" stop-opacity="0.063"/><stop offset="0.7188" stop-color="#a0ff60" stop-opacity="0.030"/><stop offset="0.7250" stop-color="#a0ff60" stop-opacity="0.000"/><stop offset="0.7312" stop-color="#a0ff60" stop-opacity="0"/><stop offset="0.7312" stop-color="#70ffa0" stop-opacity="0"/><stop offset="0.7312" stop-color="#70ffa0" stop-opacity="0.025"/><stop offset="0.7375" stop-color="#70ffa0" stop-opacity="0.044"/><stop offset="0.7438" stop-color="#70ffa0" stop-opacity="0.056"/><stop offset="0.7500" stop-color="#70ffa0" stop-opacity="0.062"/><stop offset="0.7562" stop-color="#70ffa0" stop-opacity="0.062"/><stop offset="0.7625" stop-color="#70ffa0" stop-opacity="0.058"/><stop offset="0.7688" stop-color="#70ffa0" stop-opacity="0.050"/><stop offset="0.7750" stop-color="#70ffa0" stop-opacity="0.040"/><stop offset="0.7812" stop-color="#70ffa0" stop-opacity="0.029"/><stop offset="0.7875" stop-color="#70ffa0" stop-opacity="0.019"/><stop offset="0.7937" stop-color="#70ffa0" stop-opacity="0.009"/><stop offset="0.8000" stop-color="#70ffa0" stop-opacity="0.000"/><stop offset="0.8063" stop-color="#70ffa0" stop-opacity="0"/><stop offset="0.8063" stop-color="#a0ff60" stop-opacity="0"/><stop offset="0.8063" stop-color="#a0ff60" stop-opacity="0.007"/><stop offset="0.8125" stop-color="#a0ff60" stop-opacity="0.011"/><stop offset="0.8187" stop-color="#a0ff60" stop-opacity="0.014"/><stop offset="0.8250" stop-color="#a0ff60" stop-opacity="0.015"/><stop offset="0.8313" stop-color="#a0ff60" stop-opacity="0.015"/><stop offset="0.8375" stop-color="#a0ff60" stop-opacity="0.013"/><stop offset="0.8438" stop-color="#a0ff60" stop-opacity="0.011"/><stop offset="0.8500" stop-color="#a0ff60" stop-opacity="0.009"/><stop offset="0.8562" stop-color="#a0ff60" stop-opacity="0.006"/><stop offset="0.8625" stop-color="#a0ff60" stop-opacity="0.004"/><stop offset="0.8688" stop-color="#a0ff60" stop-opacity="0.002"/><stop offset="0.8750" stop-color="#a0ff60" stop-opacity="0.000"/><stop offset="0.8812" stop-color="#a0ff60" stop-opacity="0"/><stop offset="0.8812" stop-color="#70ffa0" stop-opacity="0"/><stop offset="0.8812" stop-color="#70ffa0" stop-opacity="0.001"/><stop offset="0.8875" stop-color="#70ffa0" stop-opacity="0.002"/><stop offset="0.8938" stop-color="#70ffa0" stop-opacity="0.002"/><stop offset="0.9000" stop-color="#70ffa0" stop-opacity="0.003"/><stop offset="0.9062" stop-color="#70ffa0" stop-opacity="0.002"/><stop offset="0.9125" stop-color="#70ffa0" stop-opacity="0.002"/><stop offset="0.9187" stop-color="#70ffa0" stop-opacity="0.002"/><stop offset="0.9250" stop-color="#70ffa0" stop-opacity="0.001"/><stop offset="0.9313" stop-color="#70ffa0" stop-opacity="0.001"/><stop offset="0.9375" stop-color="#70ffa0" stop-opacity="0.001"/><stop offset="0.9437" stop-color="#70ffa0" stop-opacity="0.000"/><stop offset="0.9500" stop-color="#70ffa0" stop-opacity="0.000"/><stop offset="0.9563" stop-color="#70ffa0" stop-opacity="0"/><stop offset="0.9563" stop-color="#a0ff60" stop-opacity="0"/><stop offset="0.9563" stop-color="#a0ff60" stop-opacity="0.000"/><stop offset="0.9625" stop-color="#a0ff60" stop-opacity="0.000"/><stop offset="0.9688" stop-color="#a0ff60" stop-opacity="0.000"/><stop offset="0.9750" stop-color="#a0ff60" stop-opacity="0.000"/><stop offset="0.9812" stop-color="#a0ff60" stop-opacity="0.000"/><stop offset="0.9875" stop-color="#a0ff60" stop-opacity="0.000"/><stop offset="0.9938" stop-color="#a0ff60" stop-opacity="0.000"/><stop offset="1.0000" stop-color="#a0ff60" stop-opacity="0.000"/></linearGradient>
<linearGradient id="ghr1" gradientUnits="userSpaceOnUse" x1="1048.356" y1="608.060" x2="1011.644" y2="663.940"><stop offset="0.0000" stop-color="#70ffa0" stop-opacity="0.000"/><stop offset="0.0063" stop-color="#70ffa0" stop-opacity="0.000"/><stop offset="0.0125" stop-color="#70ffa0" stop-opacity="0.000"/><stop offset="0.0187" stop-color="#70ffa0" stop-opacity="0.000"/><stop offset="0.0250" stop-color="#70ffa0" stop-opacity="0.000"/><stop offset="0.0312" stop-color="#70ffa0" stop-opacity="0.000"/><stop offset="0.0375" stop-color="#70ffa0" stop-opacity="0.000"/><stop offset="0.0437" stop-color="#70ffa0" stop-opacity="0.000"/><stop offset="0.0500" stop-color="#70ffa0" stop-opacity="0"/><stop offset="0.0500" stop-color="#a0ff60" stop-opacity="0"/><stop offset="0.0500" stop-color="#a0ff60" stop-opacity="0.000"/><stop offset="0.0563" stop-color="#a0ff60" stop-opacity="0.000"/><stop offset="0.0625" stop-color="#a0ff60" stop-opacity="0.001"/><stop offset="0.0688" stop-color="#a0ff60" stop-opacity="0.001"/><stop offset="0.0750" stop-color="#a0ff60" stop-opacity="0.001"/><stop offset="0.0813" stop-color="#a0ff60" stop-opacity="0.002"/><stop offset="0.0875" stop-color="#a0ff60" stop-opacity="0.002"/><stop offset="0.0938" stop-color="#a0ff60" stop-opacity="0.002"/><stop offset="0.1000" stop-color="#a0ff60" stop-opacity="0.003"/><stop offset="0.1062" stop-color="#a0ff60" stop-opacity="0.002"/><stop offset="0.1125" stop-color="#a0ff60" stop-opacity="0.002"/><stop offset="0.1187" stop-color="#a0ff60" stop-opacity="0.001"/><stop offset="0.1250" stop-color="#a0ff60" stop-opacity="0"/><stop offset="0.1250" stop-color="#70ffa0" stop-opacity="0"/><stop offset="0.1250" stop-color="#70ffa0" stop-opacity="0.000"/><stop offset="0.1313" stop-color="#70ffa0" stop-opacity="0.002"/><stop offset="0.1375" stop-color="#70ffa0" stop-opacity="0.004"/><stop offset="0.1437" stop-color="#70ffa0" stop-opacity="0.006"/><stop offset="0.1500" stop-color="#70ffa0" stop-opacity="0.009"/><stop offset="0.1562" stop-color="#70ffa0" stop-opacity="0.011"/><stop offset="0.1625" stop-color="#70ffa0" stop-opacity="0.013"/><stop offset="0.1688" stop-color="#70ffa0" stop-opacity="0.015"/><stop offset="0.1750" stop-color="#70ffa0" stop-opacity="0.015"/><stop offset="0.1812" stop-color="#70ffa0" stop-opacity="0.014"/><stop offset="0.1875" stop-color="#70ffa0" stop-opacity="0.011"/><stop offset="0.1938" stop-color="#70ffa0" stop-opacity="0.007"/><stop offset="0.2000" stop-color="#70ffa0" stop-opacity="0"/><stop offset="0.2000" stop-color="#a0ff60" stop-opacity="0"/><stop offset="0.2000" stop-color="#a0ff60" stop-opacity="0.000"/><stop offset="0.2062" stop-color="#a0ff60" stop-opacity="0.009"/><stop offset="0.2125" stop-color="#a0ff60" stop-opacity="0.019"/><stop offset="0.2188" stop-color="#a0ff60" stop-opacity="0.029"/><stop offset="0.2250" stop-color="#a0ff60" stop-opacity="0.040"/><stop offset="0.2313" stop-color="#a0ff60" stop-opacity="0.050"/><stop offset="0.2375" stop-color="#a0ff60" stop-opacity="0.058"/><stop offset="0.2437" stop-color="#a0ff60" stop-opacity="0.062"/><stop offset="0.2500" stop-color="#a0ff60" stop-opacity="0.062"/><stop offset="0.2562" stop-color="#a0ff60" stop-opacity="0.056"/><stop offset="0.2625" stop-color="#a0ff60" stop-opacity="0.044"/><stop offset="0.2687" stop-color="#a0ff60" stop-opacity="0.025"/><stop offset="0.2750" stop-color="#a0ff60" stop-opacity="0"/><stop offset="0.2750" stop-color="#70ffa0" stop-opacity="0"/><stop offset="0.2750" stop-color="#70ffa0" stop-opacity="0.000"/><stop offset="0.2812" stop-color="#70ffa0" stop-opacity="0.030"/><stop offset="0.2875" stop-color="#70ffa0" stop-opacity="0.063"/><stop offset="0.2938" stop-color="#70ffa0" stop-opacity="0.097"/><stop offset="0.3000" stop-color="#70ffa0" stop-opacity="0.129"/><stop offset="0.3063" stop-color="#70ffa0" stop-opacity="0.156"/><stop offset="0.3125" stop-color="#70ffa0" stop-opacity="0.175"/><stop offset="0.3187" stop-color="#70ffa0" stop-opacity="0.182"/><stop offset="0.3250" stop-color="#70ffa0" stop-opacity="0.175"/><stop offset="0.3312" stop-color="#70ffa0" stop-opacity="0.153"/><stop offset="0.3375" stop-color="#70ffa0" stop-opacity="0.116"/><stop offset="0.3438" stop-color="#70ffa0" stop-opacity="0.064"/><stop offset="0.3500" stop-color="#70ffa0" stop-opacity="0"/><stop offset="0.3500" stop-color="#a0ff60" stop-opacity="0"/><stop offset="0.3500" stop-color="#a0ff60" stop-opacity="0.000"/><stop offset="0.3563" stop-color="#a0ff60" stop-opacity="0.072"/><stop offset="0.3625" stop-color="#a0ff60" stop-opacity="0.148"/><stop offset="0.3688" stop-color="#a0ff60" stop-opacity="0.222"/><stop offset="0.3750" stop-color="#a0ff60" stop-opacity="0.286"/><stop offset="0.3812" stop-color="#a0ff60" stop-opacity="0.335"/><stop offset="0.3875" stop-color="#a0ff60" stop-opacity="0.364"/><stop offset="0.3937" stop-color="#a0ff60" stop-opacity="0.367"/><stop offset="0.4000" stop-color="#a0ff60" stop-opacity="0.344"/><stop offset="0.4062" stop-color="#a0ff60" stop-opacity="0.292"/><stop offset="0.4125" stop-color="#a0ff60" stop-opacity="0.214"/><stop offset="0.4188" stop-color="#a0ff60" stop-opacity="0.115"/><stop offset="0.4250" stop-color="#a0ff60" stop-opacity="0"/><stop offset="0.4250" stop-color="#70ffa0" stop-opacity="0"/><stop offset="0.4250" stop-color="#70ffa0" stop-opacity="0.000"/><stop offset="0.4313" stop-color="#70ffa0" stop-opacity="0.122"/><stop offset="0.4375" stop-color="#70ffa0" stop-opacity="0.242"/><stop offset="0.4437" stop-color="#70ffa0" stop-opacity="0.351"/><stop offset="0.4500" stop-color="#70ffa0" stop-opacity="0.439"/><stop offset="0.4562" stop-color="#70ffa0" stop-opacity="0.499"/><stop offset="0.4625" stop-color="#70ffa0" stop-opacity="0.525"/><stop offset="0.4688" stop-color="#70ffa0" stop-opacity="0.515"/><stop offset="0.4750" stop-color="#70ffa0" stop-opacity="0.467"/><stop offset="0.4813" stop-color="#70ffa0" stop-opacity="0.384"/><stop offset="0.4875" stop-color="#70ffa0" stop-opacity="0.274"/><stop offset="0.4938" stop-color="#70ffa0" stop-opacity="0.142"/><stop offset="0.5000" stop-color="#a0ff60" stop-opacity="0.000"/><stop offset="0.5062" stop-color="#70ffa0" stop-opacity="0"/><stop offset="0.5062" stop-color="#a0ff60" stop-opacity="0"/><stop offset="0.5062" stop-color="#a0ff60" stop-opacity="0.142"/><stop offset="0.5125" stop-color="#a0ff60" stop-opacity="0.274"/><stop offset="0.5188" stop-color="#a0ff60" stop-opacity="0.384"/><stop offset="0.5250" stop-color="#a0ff60" stop-opacity="0.467"/><stop offset="0.5312" stop-color="#a0ff60" stop-opacity="0.515"/><stop offset="0.5375" stop-color="#a0ff60" stop-opacity="0.525"/><stop offset="0.5437" stop-color="#a0ff60" stop-opacity="0.499"/><stop offset="0.5500" stop-color="#a0ff60" stop-opacity="0.439"/><stop offset="0.5563" stop-color="#a0ff60" stop-opacity="0.351"/><stop offset="0.5625" stop-color="#a0ff60" stop-opacity="0.242"/><stop offset="0.5687" stop-color="#a0ff60" stop-opacity="0.122"/><stop offset="0.5750" stop-color="#a0ff60" stop-opacity="0.000"/><stop offset="0.5813" stop-color="#a0ff60" stop-opacity="0"/><stop offset="0.5813" stop-color="#70ffa0" stop-opacity="0"/><stop offset="0.5813" stop-color="#70ffa0" stop-opacity="0.115"/><stop offset="0.5875" stop-color="#70ffa0" stop-opacity="0.214"/><stop offset="0.5938" stop-color="#70ffa0" stop-opacity="0.292"/><stop offset="0.6000" stop-color="#70ffa0" stop-opacity="0.344"/><stop offset="0.6062" stop-color="#70ffa0" stop-opacity="0.367"/><stop offset="0.6125" stop-color="#70ffa0" stop-opacity="0.364"/><stop offset="0.6188" stop-color="#70ffa0" stop-opacity="0.335"/><stop offset="0.6250" stop-color="#70ffa0" stop-opacity="0.286"/><stop offset="0.6312" stop-color="#70ffa0" stop-opacity="0.222"/><stop offset="0.6375" stop-color="#70ffa0" stop-opacity="0.148"/><stop offset="0.6438" stop-color="#70ffa0" stop-opacity="0.072"/><stop offset="0.6500" stop-color="#70ffa0" stop-opacity="0.000"/><stop offset="0.6562" stop-color="#70ffa0" stop-opacity="0"/><stop offset="0.6562" stop-color="#a0ff60" stop-opacity="0"/><stop offset="0.6562" stop-color="#a0ff60" stop-opacity="0.064"/><stop offset="0.6625" stop-color="#a0ff60" stop-opacity="0.116"/><stop offset="0.6687" stop-color="#a0ff60" stop-opacity="0.153"/><stop offset="0.6750" stop-color="#a0ff60" stop-opacity="0.175"/><stop offset="0.6813" stop-color="#a0ff60" stop-opacity="0.182"/><stop offset="0.6875" stop-color="#a0ff60" stop-opacity="0.175"/><stop offset="0.6937" stop-color="#a0ff60" stop-opacity="0.156"/><stop offset="0.7000" stop-color="#a0ff60" stop-opacity="0.129"/><stop offset="0.7063" stop-color="#a0ff60" stop-opacity="0.097"/><stop offset="0.7125" stop-color="#a0ff60" stop-opacity="0.063"/><stop offset="0.7188" stop-color="#a0ff60" stop-opacity="0.030"/><stop offset="0.7250" stop-color="#a0ff60" stop-opacity="0.000"/><stop offset="0.7312" stop-color="#a0ff60" stop-opacity="0"/><stop offset="0.7312" stop-color="#70ffa0" stop-opacity="0"/><stop offset="0.7312" stop-color="#70ffa0" stop-opacity="0.025"/><stop offset="0.7375" stop-color="#70ffa0" stop-opacity="0.044"/><stop offset="0.7438" stop-color="#70ffa0" stop-opacity="0.056"/><stop offset="0.7500" stop-color="#70ffa0" stop-opacity="0.062"/><stop offset="0.7562" stop-color="#70ffa0" stop-opacity="0.062"/><stop offset="0.7625" stop-color="#70ffa0" stop-opacity="0.058"/><stop offset="0.7688" stop-color="#70ffa0" stop-opacity="0.050"/><stop offset="0.7750" stop-color="#70ffa0" stop-opacity="0.040"/><stop offset="0.7812" stop-color="#70ffa0" stop-opacity="0.029"/><stop offset="0.7875" stop-color="#70ffa0" stop-opacity="0.019"/><stop offset="0.7937" stop-color="#70ffa0" stop-opacity="0.009"/><stop offset="0.8000" stop-color="#70ffa0" stop-opacity="0.000"/><stop offset="0.8063" stop-color="#70ffa0" stop-opacity="0"/><stop offset="0.8063" stop-color="#a0ff60" stop-opacity="0"/><stop offset="0.8063" stop-color="#a0ff60" stop-opacity="0.007"/><stop offset="0.8125" stop-color="#a0ff60" stop-opacity="0.011"/><stop offset="0.8187" stop-color="#a0ff60" stop-opacity="0.014"/><stop offset="0.8250" stop-color="#a0ff60" stop-opacity="0.015"/><stop offset="0.8313" stop-color="#a0ff60" stop-opacity="0.015"/><stop offset="0.8375" stop-color="#a0ff60" stop-opacity="0.013"/><stop offset="0.8438" stop-color="#a0ff60" stop-opacity="0.011"/><stop offset="0.8500" stop-color="#a0ff60" stop-opacity="0.009"/><stop offset="0.8562" stop-color="#a0ff60" stop-opacity="0.006"/><stop offset="0.8625" stop-color="#a0ff60" stop-opacity="0.004"/><stop offset="0.8688" stop-color="#a0ff60" stop-opacity="0.002"/><stop offset="0.8750" stop-color="#a0ff60" stop-opacity="0.000"/><stop offset="0.8812" stop-color="#a0ff60" stop-opacity="0"/><stop offset="0.8812" stop-color="#70ffa0" stop-opacity="0"/><stop offset="0.8812" stop-color="#70ffa0" stop-opacity="0.001"/><stop offset="0.8875" stop-color="#70ffa0" stop-opacity="0.002"/><stop offset="0.8938" stop-color="#70ffa0" stop-opacity="0.002"/><stop offset="0.9000" stop-color="#70ffa0" stop-opacity="0.003"/><stop offset="0.9062" stop-color="#70ffa0" stop-opacity="0.002"/><stop offset="0.9125" stop-color="#70ffa0" stop-opacity="0.002"/><stop offset="0.9187" stop-color="#70ffa0" stop-opacity="0.002"/><stop offset="0.9250" stop-color="#70ffa0" stop-opacity="0.001"/><stop offset="0.9313" stop-color="#70ffa0" stop-opacity="0.001"/><stop offset="0.9375" stop-color="#70ffa0" stop-opacity="0.001"/><stop offset="0.9437" stop-color="#70ffa0" stop-opacity="0.000"/><stop offset="0.9500" stop-color="#70ffa0" stop-opacity="0.000"/><stop offset="0.9563" stop-color="#70ffa0" stop-opacity="0"/><stop offset="0.9563" stop-color="#a0ff60" stop-opacity="0"/><stop offset="0.9563" stop-color="#a0ff60" stop-opacity="0.000"/><stop offset="0.9625" stop-color="#a0ff60" stop-opacity="0.000"/><stop offset="0.9688" stop-color="#a0ff60" stop-opacity="0.000"/><stop offset="0.9750" stop-color="#a0ff60" stop-opacity="0.000"/><stop offset="0.9812" stop-color="#a0ff60" stop-opacity="0.000"/><stop offset="0.9875" stop-color="#a0ff60" stop-opacity="0.000"/><stop offset="0.9938" stop-color="#a0ff60" stop-opacity="0.000"/><stop offset="1.0000" stop-color="#a0ff60" stop-opacity="0.000"/></linearGradient>
<clipPath id="ghc"><rect x="694" y="491" width="336" height="310"/></clipPath>
<filter id="ghf" x="684" y="481" width="356" height="330" filterUnits="userSpaceOnUse"><feGaussianBlur stdDeviation="1.0 0"/></filter>
</defs>
<rect x="694" y="491" width="336" height="310" fill="#88ff78"/>
<g clip-path="url(#ghc)">
<rect x="694" y="491" width="336" height="310" fill="url(#ghr0)" shape-rendering="auto" style="mix-blend-mode:normal"/>
<rect x="694" y="491" width="336" height="310" fill="url(#ghr1)" shape-rendering="auto" style="mix-blend-mode:normal"/>
<g filter="url(#ghf)">
<rect x="688.750" y="-30.00" width="2.645" height="60.00" fill="url(#ghL)" transform="translate(0 650.21) scale(1 1.0000)"/>
<rect x="691.375" y="-30.00" width="2.645" height="60.00" fill="url(#ghL)" transform="translate(0 652.14) scale(1 1.0000)"/>
<rect x="694.000" y="-30.00" width="2.645" height="60.00" fill="url(#ghL)" transform="translate(0 654.06) scale(1 1.0000)"/>
<rect x="696.625" y="-30.00" width="2.645" height="60.00" fill="url(#ghL)" transform="translate(0 655.99) scale(1 1.0000)"/>
<rect x="699.250" y="-30.00" width="2.645" height="60.00" fill="url(#ghL)" transform="translate(0 657.91) scale(1 1.0000)"/>
<rect x="701.875" y="-30.00" width="2.645" height="60.00" fill="url(#ghL)" transform="translate(0 659.84) scale(1 1.0000)"/>
<rect x="704.500" y="-30.00" width="2.645" height="60.00" fill="url(#ghL)" transform="translate(0 661.76) scale(1 1.0000)"/>
<rect x="707.125" y="-30.00" width="2.645" height="60.00" fill="url(#ghL)" transform="translate(0 663.68) scale(1 1.0000)"/>
<rect x="709.750" y="-30.00" width="2.645" height="60.00" fill="url(#ghL)" transform="translate(0 665.61) scale(1 1.0000)"/>
<rect x="712.375" y="-30.00" width="2.645" height="60.00" fill="url(#ghL)" transform="translate(0 667.53) scale(1 1.0000)"/>
<rect x="715.000" y="-30.00" width="2.645" height="60.00" fill="url(#ghL)" transform="translate(0 669.46) scale(1 1.0000)"/>
<rect x="717.625" y="-30.00" width="2.645" height="60.00" fill="url(#ghL)" transform="translate(0 671.38) scale(1 1.0000)"/>
<rect x="720.250" y="-30.00" width="2.645" height="60.00" fill="url(#ghL)" transform="translate(0 673.31) scale(1 1.0000)"/>
<rect x="722.875" y="-30.00" width="2.645" height="60.00" fill="url(#ghL)" transform="translate(0 675.23) scale(1 1.0000)"/>
<rect x="725.500" y="-30.00" width="2.645" height="60.00" fill="url(#ghL)" transform="translate(0 677.15) scale(1 1.0000)"/>
<rect x="728.125" y="-30.00" width="2.645" height="60.00" fill="url(#ghL)" transform="translate(0 679.08) scale(1 1.0000)"/>
<rect x="730.750" y="-30.00" width="2.645" height="60.00" fill="url(#ghL)" transform="translate(0 681.00) scale(1 1.0000)"/>
<rect x="733.375" y="-30.00" width="2.645" height="60.00" fill="url(#ghL)" transform="translate(0 682.93) scale(1 1.0000)"/>
<rect x="736.000" y="-30.00" width="2.645" height="60.00" fill="url(#ghL)" transform="translate(0 684.85) scale(1 1.0000)"/>
<rect x="738.625" y="-30.00" width="2.645" height="60.00" fill="url(#ghL)" transform="translate(0 686.78) scale(1 1.0000)"/>
<rect x="741.250" y="-30.00" width="2.645" height="60.00" fill="url(#ghL)" transform="translate(0 688.70) scale(1 1.0000)"/>
<rect x="743.875" y="-30.00" width="2.645" height="60.00" fill="url(#ghL)" transform="translate(0 690.63) scale(1 1.0000)"/>
<rect x="746.500" y="-30.00" width="2.645" height="60.00" fill="url(#ghL)" transform="translate(0 692.55) scale(1 1.0000)"/>
<rect x="749.125" y="-30.00" width="2.645" height="60.00" fill="url(#ghL)" transform="translate(0 694.47) scale(1 1.0000)"/>
<rect x="751.750" y="-30.00" width="2.645" height="60.00" fill="url(#ghL)" transform="translate(0 696.40) scale(1 1.0000)"/>
<rect x="754.375" y="-30.00" width="2.645" height="60.00" fill="url(#ghL)" transform="translate(0 698.32) scale(1 1.0000)"/>
<rect x="757.000" y="-30.00" width="2.645" height="60.00" fill="url(#ghL)" transform="translate(0 700.25) scale(1 1.0000)"/>
<rect x="759.625" y="-30.00" width="2.645" height="60.00" fill="url(#ghL)" transform="translate(0 702.17) scale(1 1.0000)"/>
<rect x="762.250" y="-30.00" width="2.645" height="60.00" fill="url(#ghL)" transform="translate(0 704.10) scale(1 1.0000)"/>
<rect x="764.875" y="-30.00" width="2.645" height="60.00" fill="url(#ghL)" transform="translate(0 706.02) scale(1 1.0000)"/>
<rect x="767.500" y="-30.00" width="2.645" height="60.00" fill="url(#ghL)" transform="translate(0 707.94) scale(1 1.0000)"/>
<rect x="770.125" y="-30.00" width="2.645" height="60.00" fill="url(#ghL)" transform="translate(0 709.87) scale(1 1.0000)"/>
<rect x="772.750" y="-30.00" width="2.645" height="60.00" fill="url(#ghL)" transform="translate(0 711.79) scale(1 1.0000)"/>
<rect x="775.375" y="-30.00" width="2.645" height="60.00" fill="url(#ghL)" transform="translate(0 713.72) scale(1 1.0000)"/>
<rect x="778.000" y="-30.00" width="2.645" height="60.00" fill="url(#ghL)" transform="translate(0 715.64) scale(1 1.0000)"/>
<rect x="780.625" y="-30.00" width="2.645" height="60.00" fill="url(#ghL)" transform="translate(0 717.57) scale(1 1.0000)"/>
<rect x="783.250" y="-30.00" width="2.645" height="60.00" fill="url(#ghL)" transform="translate(0 719.49) scale(1 0.9968)"/>
<rect x="785.875" y="-30.00" width="2.645" height="60.00" fill="url(#ghL)" transform="translate(0 721.42) scale(1 0.9935)"/>
<rect x="788.500" y="-30.00" width="2.645" height="60.00" fill="url(#ghL)" transform="translate(0 723.34) scale(1 0.9902)"/>
<rect x="791.125" y="-30.00" width="2.645" height="60.00" fill="url(#ghL)" transform="translate(0 725.26) scale(1 0.9870)"/>
<rect x="793.750" y="-30.00" width="2.645" height="60.00" fill="url(#ghL)" transform="translate(0 727.19) scale(1 0.9837)"/>
<rect x="796.375" y="-30.00" width="2.645" height="60.00" fill="url(#ghL)" transform="translate(0 729.11) scale(1 0.9804)"/>
<rect x="799.000" y="-30.00" width="2.645" height="60.00" fill="url(#ghL)" transform="translate(0 731.04) scale(1 0.9771)"/>
<rect x="801.625" y="-30.00" width="2.645" height="60.00" fill="url(#ghL)" transform="translate(0 732.96) scale(1 0.9738)"/>
<rect x="804.250" y="-30.00" width="2.645" height="60.00" fill="url(#ghL)" transform="translate(0 734.89) scale(1 0.9705)"/>
<rect x="806.875" y="-30.00" width="2.645" height="60.00" fill="url(#ghL)" transform="translate(0 736.81) scale(1 0.9673)"/>
<rect x="809.500" y="-30.00" width="2.645" height="60.00" fill="url(#ghL)" transform="translate(0 738.73) scale(1 0.9640)"/>
<rect x="812.125" y="-30.00" width="2.645" height="60.00" fill="url(#ghL)" transform="translate(0 740.66) scale(1 0.9607)"/>
<rect x="814.750" y="-30.00" width="2.645" height="60.00" fill="url(#ghL)" transform="translate(0 742.58) scale(1 0.9574)"/>
<rect x="817.375" y="-30.00" width="2.645" height="60.00" fill="url(#ghL)" transform="translate(0 744.51) scale(1 0.9541)"/>
<rect x="820.000" y="-30.00" width="2.645" height="60.00" fill="url(#ghL)" transform="translate(0 746.43) scale(1 0.9509)"/>
<rect x="822.625" y="-30.00" width="2.645" height="60.00" fill="url(#ghL)" transform="translate(0 748.36) scale(1 0.9476)"/>
<rect x="825.250" y="-30.00" width="2.645" height="60.00" fill="url(#ghL)" transform="translate(0 750.28) scale(1 0.9443)"/>
<rect x="827.875" y="-30.00" width="2.645" height="60.00" fill="url(#ghL)" transform="translate(0 752.21) scale(1 0.9410)"/>
<rect x="830.500" y="-30.00" width="2.645" height="60.00" fill="url(#ghL)" transform="translate(0 754.13) scale(1 0.9377)"/>
<rect x="833.125" y="-30.00" width="2.645" height="60.00" fill="url(#ghL)" transform="translate(0 756.05) scale(1 0.9345)"/>
<rect x="835.750" y="-30.00" width="2.645" height="60.00" fill="url(#ghL)" transform="translate(0 757.98) scale(1 0.9312)"/>
<rect x="838.375" y="-30.00" width="2.645" height="60.00" fill="url(#ghL)" transform="translate(0 759.90) scale(1 0.9279)"/>
<rect x="841.000" y="-30.00" width="2.645" height="60.00" fill="url(#ghL)" transform="translate(0 761.83) scale(1 0.9246)"/>
<rect x="843.625" y="-30.00" width="2.645" height="60.00" fill="url(#ghL)" transform="translate(0 763.75) scale(1 0.9213)"/>
<rect x="846.250" y="-30.00" width="2.645" height="60.00" fill="url(#ghL)" transform="translate(0 765.68) scale(1 0.9180)"/>
<rect x="848.875" y="-30.00" width="2.645" height="60.00" fill="url(#ghL)" transform="translate(0 767.60) scale(1 0.9148)"/>
<rect x="851.500" y="-30.00" width="2.645" height="60.00" fill="url(#ghL)" transform="translate(0 769.52) scale(1 0.9115)"/>
<rect x="854.125" y="-30.00" width="2.645" height="60.00" fill="url(#ghL)" transform="translate(0 771.45) scale(1 0.9082)"/>
<rect x="856.750" y="-30.00" width="2.645" height="60.00" fill="url(#ghL)" transform="translate(0 773.37) scale(1 0.9049)"/>
<rect x="859.375" y="-30.00" width="2.645" height="58.51" fill="url(#ghL)" transform="translate(0 775.30) scale(1 0.9016)"/>
<rect x="862.000" y="-30.00" width="2.645" height="58.51" fill="url(#ghR)" transform="translate(0 775.30) scale(1 0.9016)"/>
<rect x="864.625" y="-30.00" width="2.645" height="60.00" fill="url(#ghR)" transform="translate(0 773.37) scale(1 0.9049)"/>
<rect x="867.250" y="-30.00" width="2.645" height="60.00" fill="url(#ghR)" transform="translate(0 771.45) scale(1 0.9082)"/>
<rect x="869.875" y="-30.00" width="2.645" height="60.00" fill="url(#ghR)" transform="translate(0 769.52) scale(1 0.9115)"/>
<rect x="872.500" y="-30.00" width="2.645" height="60.00" fill="url(#ghR)" transform="translate(0 767.60) scale(1 0.9148)"/>
<rect x="875.125" y="-30.00" width="2.645" height="60.00" fill="url(#ghR)" transform="translate(0 765.68) scale(1 0.9180)"/>
<rect x="877.750" y="-30.00" width="2.645" height="60.00" fill="url(#ghR)" transform="translate(0 763.75) scale(1 0.9213)"/>
<rect x="880.375" y="-30.00" width="2.645" height="60.00" fill="url(#ghR)" transform="translate(0 761.83) scale(1 0.9246)"/>
<rect x="883.000" y="-30.00" width="2.645" height="60.00" fill="url(#ghR)" transform="translate(0 759.90) scale(1 0.9279)"/>
<rect x="885.625" y="-30.00" width="2.645" height="60.00" fill="url(#ghR)" transform="translate(0 757.98) scale(1 0.9312)"/>
<rect x="888.250" y="-30.00" width="2.645" height="60.00" fill="url(#ghR)" transform="translate(0 756.05) scale(1 0.9345)"/>
<rect x="890.875" y="-30.00" width="2.645" height="60.00" fill="url(#ghR)" transform="translate(0 754.13) scale(1 0.9377)"/>
<rect x="893.500" y="-30.00" width="2.645" height="60.00" fill="url(#ghR)" transform="translate(0 752.21) scale(1 0.9410)"/>
<rect x="896.125" y="-30.00" width="2.645" height="60.00" fill="url(#ghR)" transform="translate(0 750.28) scale(1 0.9443)"/>
<rect x="898.750" y="-30.00" width="2.645" height="60.00" fill="url(#ghR)" transform="translate(0 748.36) scale(1 0.9476)"/>
<rect x="901.375" y="-30.00" width="2.645" height="60.00" fill="url(#ghR)" transform="translate(0 746.43) scale(1 0.9509)"/>
<rect x="904.000" y="-30.00" width="2.645" height="60.00" fill="url(#ghR)" transform="translate(0 744.51) scale(1 0.9541)"/>
<rect x="906.625" y="-30.00" width="2.645" height="60.00" fill="url(#ghR)" transform="translate(0 742.58) scale(1 0.9574)"/>
<rect x="909.250" y="-30.00" width="2.645" height="60.00" fill="url(#ghR)" transform="translate(0 740.66) scale(1 0.9607)"/>
<rect x="911.875" y="-30.00" width="2.645" height="60.00" fill="url(#ghR)" transform="translate(0 738.73) scale(1 0.9640)"/>
<rect x="914.500" y="-30.00" width="2.645" height="60.00" fill="url(#ghR)" transform="translate(0 736.81) scale(1 0.9673)"/>
<rect x="917.125" y="-30.00" width="2.645" height="60.00" fill="url(#ghR)" transform="translate(0 734.89) scale(1 0.9705)"/>
<rect x="919.750" y="-30.00" width="2.645" height="60.00" fill="url(#ghR)" transform="translate(0 732.96) scale(1 0.9738)"/>
<rect x="922.375" y="-30.00" width="2.645" height="60.00" fill="url(#ghR)" transform="translate(0 731.04) scale(1 0.9771)"/>
<rect x="925.000" y="-30.00" width="2.645" height="60.00" fill="url(#ghR)" transform="translate(0 729.11) scale(1 0.9804)"/>
<rect x="927.625" y="-30.00" width="2.645" height="60.00" fill="url(#ghR)" transform="translate(0 727.19) scale(1 0.9837)"/>
<rect x="930.250" y="-30.00" width="2.645" height="60.00" fill="url(#ghR)" transform="translate(0 725.26) scale(1 0.9870)"/>
<rect x="932.875" y="-30.00" width="2.645" height="60.00" fill="url(#ghR)" transform="translate(0 723.34) scale(1 0.9902)"/>
<rect x="935.500" y="-30.00" width="2.645" height="60.00" fill="url(#ghR)" transform="translate(0 721.42) scale(1 0.9935)"/>
<rect x="938.125" y="-30.00" width="2.645" height="60.00" fill="url(#ghR)" transform="translate(0 719.49) scale(1 0.9968)"/>
<rect x="940.750" y="-30.00" width="2.645" height="60.00" fill="url(#ghR)" transform="translate(0 717.57) scale(1 1.0000)"/>
<rect x="943.375" y="-30.00" width="2.645" height="60.00" fill="url(#ghR)" transform="translate(0 715.64) scale(1 1.0000)"/>
<rect x="946.000" y="-30.00" width="2.645" height="60.00" fill="url(#ghR)" transform="translate(0 713.72) scale(1 1.0000)"/>
<rect x="948.625" y="-30.00" width="2.645" height="60.00" fill="url(#ghR)" transform="translate(0 711.79) scale(1 1.0000)"/>
<rect x="951.250" y="-30.00" width="2.645" height="60.00" fill="url(#ghR)" transform="translate(0 709.87) scale(1 1.0000)"/>
<rect x="953.875" y="-30.00" width="2.645" height="60.00" fill="url(#ghR)" transform="translate(0 707.94) scale(1 1.0000)"/>
<rect x="956.500" y="-30.00" width="2.645" height="60.00" fill="url(#ghR)" transform="translate(0 706.02) scale(1 1.0000)"/>
<rect x="959.125" y="-30.00" width="2.645" height="60.00" fill="url(#ghR)" transform="translate(0 704.10) scale(1 1.0000)"/>
<rect x="961.750" y="-30.00" width="2.645" height="60.00" fill="url(#ghR)" transform="translate(0 702.17) scale(1 1.0000)"/>
<rect x="964.375" y="-30.00" width="2.645" height="60.00" fill="url(#ghR)" transform="translate(0 700.25) scale(1 1.0000)"/>
<rect x="967.000" y="-30.00" width="2.645" height="60.00" fill="url(#ghR)" transform="translate(0 698.32) scale(1 1.0000)"/>
<rect x="969.625" y="-30.00" width="2.645" height="60.00" fill="url(#ghR)" transform="translate(0 696.40) scale(1 1.0000)"/>
<rect x="972.250" y="-30.00" width="2.645" height="60.00" fill="url(#ghR)" transform="translate(0 694.47) scale(1 1.0000)"/>
<rect x="974.875" y="-30.00" width="2.645" height="60.00" fill="url(#ghR)" transform="translate(0 692.55) scale(1 1.0000)"/>
<rect x="977.500" y="-30.00" width="2.645" height="60.00" fill="url(#ghR)" transform="translate(0 690.63) scale(1 1.0000)"/>
<rect x="980.125" y="-30.00" width="2.645" height="60.00" fill="url(#ghR)" transform="translate(0 688.70) scale(1 1.0000)"/>
<rect x="982.750" y="-30.00" width="2.645" height="60.00" fill="url(#ghR)" transform="translate(0 686.78) scale(1 1.0000)"/>
<rect x="985.375" y="-30.00" width="2.645" height="60.00" fill="url(#ghR)" transform="translate(0 684.85) scale(1 1.0000)"/>
<rect x="988.000" y="-30.00" width="2.645" height="60.00" fill="url(#ghR)" transform="translate(0 682.93) scale(1 1.0000)"/>
<rect x="990.625" y="-30.00" width="2.645" height="60.00" fill="url(#ghR)" transform="translate(0 681.00) scale(1 1.0000)"/>
<rect x="993.250" y="-30.00" width="2.645" height="60.00" fill="url(#ghR)" transform="translate(0 679.08) scale(1 1.0000)"/>
<rect x="995.875" y="-30.00" width="2.645" height="60.00" fill="url(#ghR)" transform="translate(0 677.15) scale(1 1.0000)"/>
<rect x="998.500" y="-30.00" width="2.645" height="60.00" fill="url(#ghR)" transform="translate(0 675.23) scale(1 1.0000)"/>
<rect x="1001.125" y="-30.00" width="2.645" height="60.00" fill="url(#ghR)" transform="translate(0 673.31) scale(1 1.0000)"/>
<rect x="1003.750" y="-30.00" width="2.645" height="60.00" fill="url(#ghR)" transform="translate(0 671.38) scale(1 1.0000)"/>
<rect x="1006.375" y="-30.00" width="2.645" height="60.00" fill="url(#ghR)" transform="translate(0 669.46) scale(1 1.0000)"/>
<rect x="1009.000" y="-30.00" width="2.645" height="60.00" fill="url(#ghR)" transform="translate(0 667.53) scale(1 1.0000)"/>
<rect x="1011.625" y="-30.00" width="2.645" height="60.00" fill="url(#ghR)" transform="translate(0 665.61) scale(1 1.0000)"/>
<rect x="1014.250" y="-30.00" width="2.645" height="60.00" fill="url(#ghR)" transform="translate(0 663.68) scale(1 1.0000)"/>
<rect x="1016.875" y="-30.00" width="2.645" height="60.00" fill="url(#ghR)" transform="translate(0 661.76) scale(1 1.0000)"/>
<rect x="1019.500" y="-30.00" width="2.645" height="60.00" fill="url(#ghR)" transform="translate(0 659.84) scale(1 1.0000)"/>
<rect x="1022.125" y="-30.00" width="2.645" height="60.00" fill="url(#ghR)" transform="translate(0 657.91) scale(1 1.0000)"/>
<rect x="1024.750" y="-30.00" width="2.645" height="60.00" fill="url(#ghR)" transform="translate(0 655.99) scale(1 1.0000)"/>
<rect x="1027.375" y="-30.00" width="2.645" height="60.00" fill="url(#ghR)" transform="translate(0 654.06) scale(1 1.0000)"/>
<rect x="1030.000" y="-30.00" width="2.645" height="60.00" fill="url(#ghR)" transform="translate(0 652.14) scale(1 1.0000)"/>
<rect x="1032.625" y="-30.00" width="2.645" height="60.00" fill="url(#ghR)" transform="translate(0 650.21) scale(1 1.0000)"/>
</g>
</g>
<rect x="694" y="491" width="337" height="1" fill="#000"/>
<rect x="694" y="801" width="337" height="1" fill="#000"/>
<rect x="694" y="491" width="1" height="311" fill="#000"/>
<rect x="1030" y="491" width="1" height="311" fill="#000"/>
<defs><linearGradient id="cb491" gradientUnits="userSpaceOnUse" x1="0" y1="801" x2="0" y2="491"><stop offset="0.00000" stop-color="#00008f"/><stop offset="0.01562" stop-color="#00008f"/><stop offset="0.01562" stop-color="#00009f"/><stop offset="0.03125" stop-color="#00009f"/><stop offset="0.03125" stop-color="#0000af"/><stop offset="0.04688" stop-color="#0000af"/><stop offset="0.04688" stop-color="#0000bf"/><stop offset="0.06250" stop-color="#0000bf"/><stop offset="0.06250" stop-color="#0000cf"/><stop offset="0.07812" stop-color="#0000cf"/><stop offset="0.07812" stop-color="#0000df"/><stop offset="0.09375" stop-color="#0000df"/><stop offset="0.09375" stop-color="#0000ef"/><stop offset="0.10938" stop-color="#0000ef"/><stop offset="0.10938" stop-color="#0000ff"/><stop offset="0.12500" stop-color="#0000ff"/><stop offset="0.12500" stop-color="#0010ff"/><stop offset="0.14062" stop-color="#0010ff"/><stop offset="0.14062" stop-color="#0020ff"/><stop offset="0.15625" stop-color="#0020ff"/><stop offset="0.15625" stop-color="#0030ff"/><stop offset="0.17188" stop-color="#0030ff"/><stop offset="0.17188" stop-color="#0040ff"/><stop offset="0.18750" stop-color="#0040ff"/><stop offset="0.18750" stop-color="#0050ff"/><stop offset="0.20312" stop-color="#0050ff"/><stop offset="0.20312" stop-color="#0060ff"/><stop offset="0.21875" stop-color="#0060ff"/><stop offset="0.21875" stop-color="#0070ff"/><stop offset="0.23438" stop-color="#0070ff"/><stop offset="0.23438" stop-color="#0080ff"/><stop offset="0.25000" stop-color="#0080ff"/><stop offset="0.25000" stop-color="#008fff"/><stop offset="0.26562" stop-color="#008fff"/><stop offset="0.26562" stop-color="#009fff"/><stop offset="0.28125" stop-color="#009fff"/><stop offset="0.28125" stop-color="#00afff"/><stop offset="0.29688" stop-color="#00afff"/><stop offset="0.29688" stop-color="#00bfff"/><stop offset="0.31250" stop-color="#00bfff"/><stop offset="0.31250" stop-color="#00cfff"/><stop offset="0.32812" stop-color="#00cfff"/><stop offset="0.32812" stop-color="#00dfff"/><stop offset="0.34375" stop-color="#00dfff"/><stop offset="0.34375" stop-color="#00efff"/><stop offset="0.35938" stop-color="#00efff"/><stop offset="0.35938" stop-color="#00ffff"/><stop offset="0.37500" stop-color="#00ffff"/><stop offset="0.37500" stop-color="#10ffef"/><stop offset="0.39062" stop-color="#10ffef"/><stop offset="0.39062" stop-color="#20ffdf"/><stop offset="0.40625" stop-color="#20ffdf"/><stop offset="0.40625" stop-color="#30ffcf"/><stop offset="0.42188" stop-color="#30ffcf"/><stop offset="0.42188" stop-color="#40ffbf"/><stop offset="0.43750" stop-color="#40ffbf"/><stop offset="0.43750" stop-color="#50ffaf"/><stop offset="0.45312" stop-color="#50ffaf"/><stop offset="0.45312" stop-color="#60ff9f"/><stop offset="0.46875" stop-color="#60ff9f"/><stop offset="0.46875" stop-color="#70ff8f"/><stop offset="0.48438" stop-color="#70ff8f"/><stop offset="0.48438" stop-color="#80ff80"/><stop offset="0.50000" stop-color="#80ff80"/><stop offset="0.50000" stop-color="#8fff70"/><stop offset="0.51562" stop-color="#8fff70"/><stop offset="0.51562" stop-color="#9fff60"/><stop offset="0.53125" stop-color="#9fff60"/><stop offset="0.53125" stop-color="#afff50"/><stop offset="0.54688" stop-color="#afff50"/><stop offset="0.54688" stop-color="#bfff40"/><stop offset="0.56250" stop-color="#bfff40"/><stop offset="0.56250" stop-color="#cfff30"/><stop offset="0.57812" stop-color="#cfff30"/><stop offset="0.57812" stop-color="#dfff20"/><stop offset="0.59375" stop-color="#dfff20"/><stop offset="0.59375" stop-color="#efff10"/><stop offset="0.60938" stop-color="#efff10"/><stop offset="0.60938" stop-color="#ffff00"/><stop offset="0.62500" stop-color="#ffff00"/><stop offset="0.62500" stop-color="#ffef00"/><stop offset="0.64062" stop-color="#ffef00"/><stop offset="0.64062" stop-color="#ffdf00"/><stop offset="0.65625" stop-color="#ffdf00"/><stop offset="0.65625" stop-color="#ffcf00"/><stop offset="0.67188" stop-color="#ffcf00"/><stop offset="0.67188" stop-color="#ffbf00"/><stop offset="0.68750" stop-color="#ffbf00"/><stop offset="0.68750" stop-color="#ffaf00"/><stop offset="0.70312" stop-color="#ffaf00"/><stop offset="0.70312" stop-color="#ff9f00"/><stop offset="0.71875" stop-color="#ff9f00"/><stop offset="0.71875" stop-color="#ff8f00"/><stop offset="0.73438" stop-color="#ff8f00"/><stop offset="0.73438" stop-color="#ff8000"/><stop offset="0.75000" stop-color="#ff8000"/><stop offset="0.75000" stop-color="#ff7000"/><stop offset="0.76562" stop-color="#ff7000"/><stop offset="0.76562" stop-color="#ff6000"/><stop offset="0.78125" stop-color="#ff6000"/><stop offset="0.78125" stop-color="#ff5000"/><stop offset="0.79688" stop-color="#ff5000"/><stop offset="0.79688" stop-color="#ff4000"/><stop offset="0.81250" stop-color="#ff4000"/><stop offset="0.81250" stop-color="#ff3000"/><stop offset="0.82812" stop-color="#ff3000"/><stop offset="0.82812" stop-color="#ff2000"/><stop offset="0.84375" stop-color="#ff2000"/><stop offset="0.84375" stop-color="#ff1000"/><stop offset="0.85938" stop-color="#ff1000"/><stop offset="0.85938" stop-color="#ff0000"/><stop offset="0.87500" stop-color="#ff0000"/><stop offset="0.87500" stop-color="#ef0000"/><stop offset="0.89062" stop-color="#ef0000"/><stop offset="0.89062" stop-color="#df0000"/><stop offset="0.90625" stop-color="#df0000"/><stop offset="0.90625" stop-color="#cf0000"/><stop offset="0.92188" stop-color="#cf0000"/><stop offset="0.92188" stop-color="#bf0000"/><stop offset="0.93750" stop-color="#bf0000"/><stop offset="0.93750" stop-color="#af0000"/><stop offset="0.95312" stop-color="#af0000"/><stop offset="0.95312" stop-color="#9f0000"/><stop offset="0.96875" stop-color="#9f0000"/><stop offset="0.96875" stop-color="#8f0000"/><stop offset="0.98438" stop-color="#8f0000"/><stop offset="0.98438" stop-color="#800000"/><stop offset="1.00000" stop-color="#800000"/></linearGradient></defs>
<rect x="1050" y="491" width="29" height="310" fill="url(#cb491)"/>
<rect x="1050" y="491" width="30" height="1" fill="#000"/>
<rect x="1050" y="801" width="30" height="1" fill="#000"/>
<rect x="1050" y="491" width="1" height="311" fill="#000"/>
<rect x="1079" y="491" width="1" height="311" fill="#000"/>
<rect x="1051" y="494" width="3" height="1" fill="#000"/>
<rect x="1076" y="494" width="3" height="1" fill="#000"/>
<text transform="translate(1084 503) scale(0.93 1)" font-size="23" text-anchor="start">0.5</text>
<rect x="1051" y="646" width="3" height="1" fill="#000"/>
<rect x="1076" y="646" width="3" height="1" fill="#000"/>
<text transform="translate(1084 655) scale(0.93 1)" font-size="23" text-anchor="start">0</text>
<rect x="1051" y="799" width="3" height="1" fill="#000"/>
<rect x="1076" y="799" width="3" height="1" fill="#000"/>
<text transform="translate(1084 807) scale(0.93 1)" font-size="23" text-anchor="start">-0.5</text>
<text transform="translate(687 78.0) scale(0.93 1)" font-size="23" text-anchor="end">1250</text>
<text transform="translate(687 155.25) scale(0.93 1)" font-size="23" text-anchor="end">937.5</text>
<text transform="translate(687 232.5) scale(0.93 1)" font-size="23" text-anchor="end">625</text>
<text transform="translate(687 309.75) scale(0.93 1)" font-size="23" text-anchor="end">312.5</text>
<text transform="translate(687 387.0) scale(0.93 1)" font-size="23" text-anchor="end">0</text>
<text transform="translate(694.3 404.5) scale(0.93 1)" font-size="23" text-anchor="middle">0</text>
<text transform="translate(774.8 404.5) scale(0.93 1)" font-size="23" text-anchor="middle">0.075</text>
<text transform="translate(860.2 404.5) scale(0.93 1)" font-size="23" text-anchor="middle">0.15</text>
<text transform="translate(943.5 404.5) scale(0.93 1)" font-size="23" text-anchor="middle">0.225</text>
<text transform="translate(1029.3 404.5) scale(0.93 1)" font-size="23" text-anchor="middle">0.3</text>
<text x="862" y="432" font-size="22" text-anchor="middle" >z in m</text>
<text transform="translate(687 501.0) scale(0.93 1)" font-size="23" text-anchor="end">1250</text>
<text transform="translate(687 578.5) scale(0.93 1)" font-size="23" text-anchor="end">937.5</text>
<text transform="translate(687 656.0) scale(0.93 1)" font-size="23" text-anchor="end">625</text>
<text transform="translate(687 733.5) scale(0.93 1)" font-size="23" text-anchor="end">312.5</text>
<text transform="translate(687 811.0) scale(0.93 1)" font-size="23" text-anchor="end">0</text>
<text transform="translate(694.3 828.5) scale(0.93 1)" font-size="23" text-anchor="middle">0</text>
<text transform="translate(774.8 828.5) scale(0.93 1)" font-size="23" text-anchor="middle">0.075</text>
<text transform="translate(860.2 828.5) scale(0.93 1)" font-size="23" text-anchor="middle">0.15</text>
<text transform="translate(943.5 828.5) scale(0.93 1)" font-size="23" text-anchor="middle">0.225</text>
<text transform="translate(1029.3 828.5) scale(0.93 1)" font-size="23" text-anchor="middle">0.3</text>
<text x="862" y="856" font-size="22" text-anchor="middle" >z in m</text>
<text x="624" y="226" font-size="22" text-anchor="middle" transform="rotate(-90 624 226)">t in ps</text>
<text x="624" y="649.5" font-size="22" text-anchor="middle" transform="rotate(-90 624 649.5)">t in ps</text>
<text x="278.5" y="43" font-size="23.6">E</text>
<text x="294" y="53" font-size="18">x</text>
<text x="308" y="43" font-size="22.7">component</text>
<text x="787.2" y="43.2" font-size="23.6">E</text>
<text x="803.5" y="53.2" font-size="18">x</text>
<text x="817.5" y="43.2" font-size="22.7">component</text>
<text x="278.5" y="465.6" font-size="23.6">H</text>
<text x="294" y="475.6" font-size="18">y</text>
<text x="308" y="465.6" font-size="22.7">component</text>
<text x="791" y="467.7" font-size="22.2">H</text>
<text x="805.5" y="477.7" font-size="17">y</text>
<text x="819.8" y="467.7" font-size="21.2">component</text>
</svg></body></html>
